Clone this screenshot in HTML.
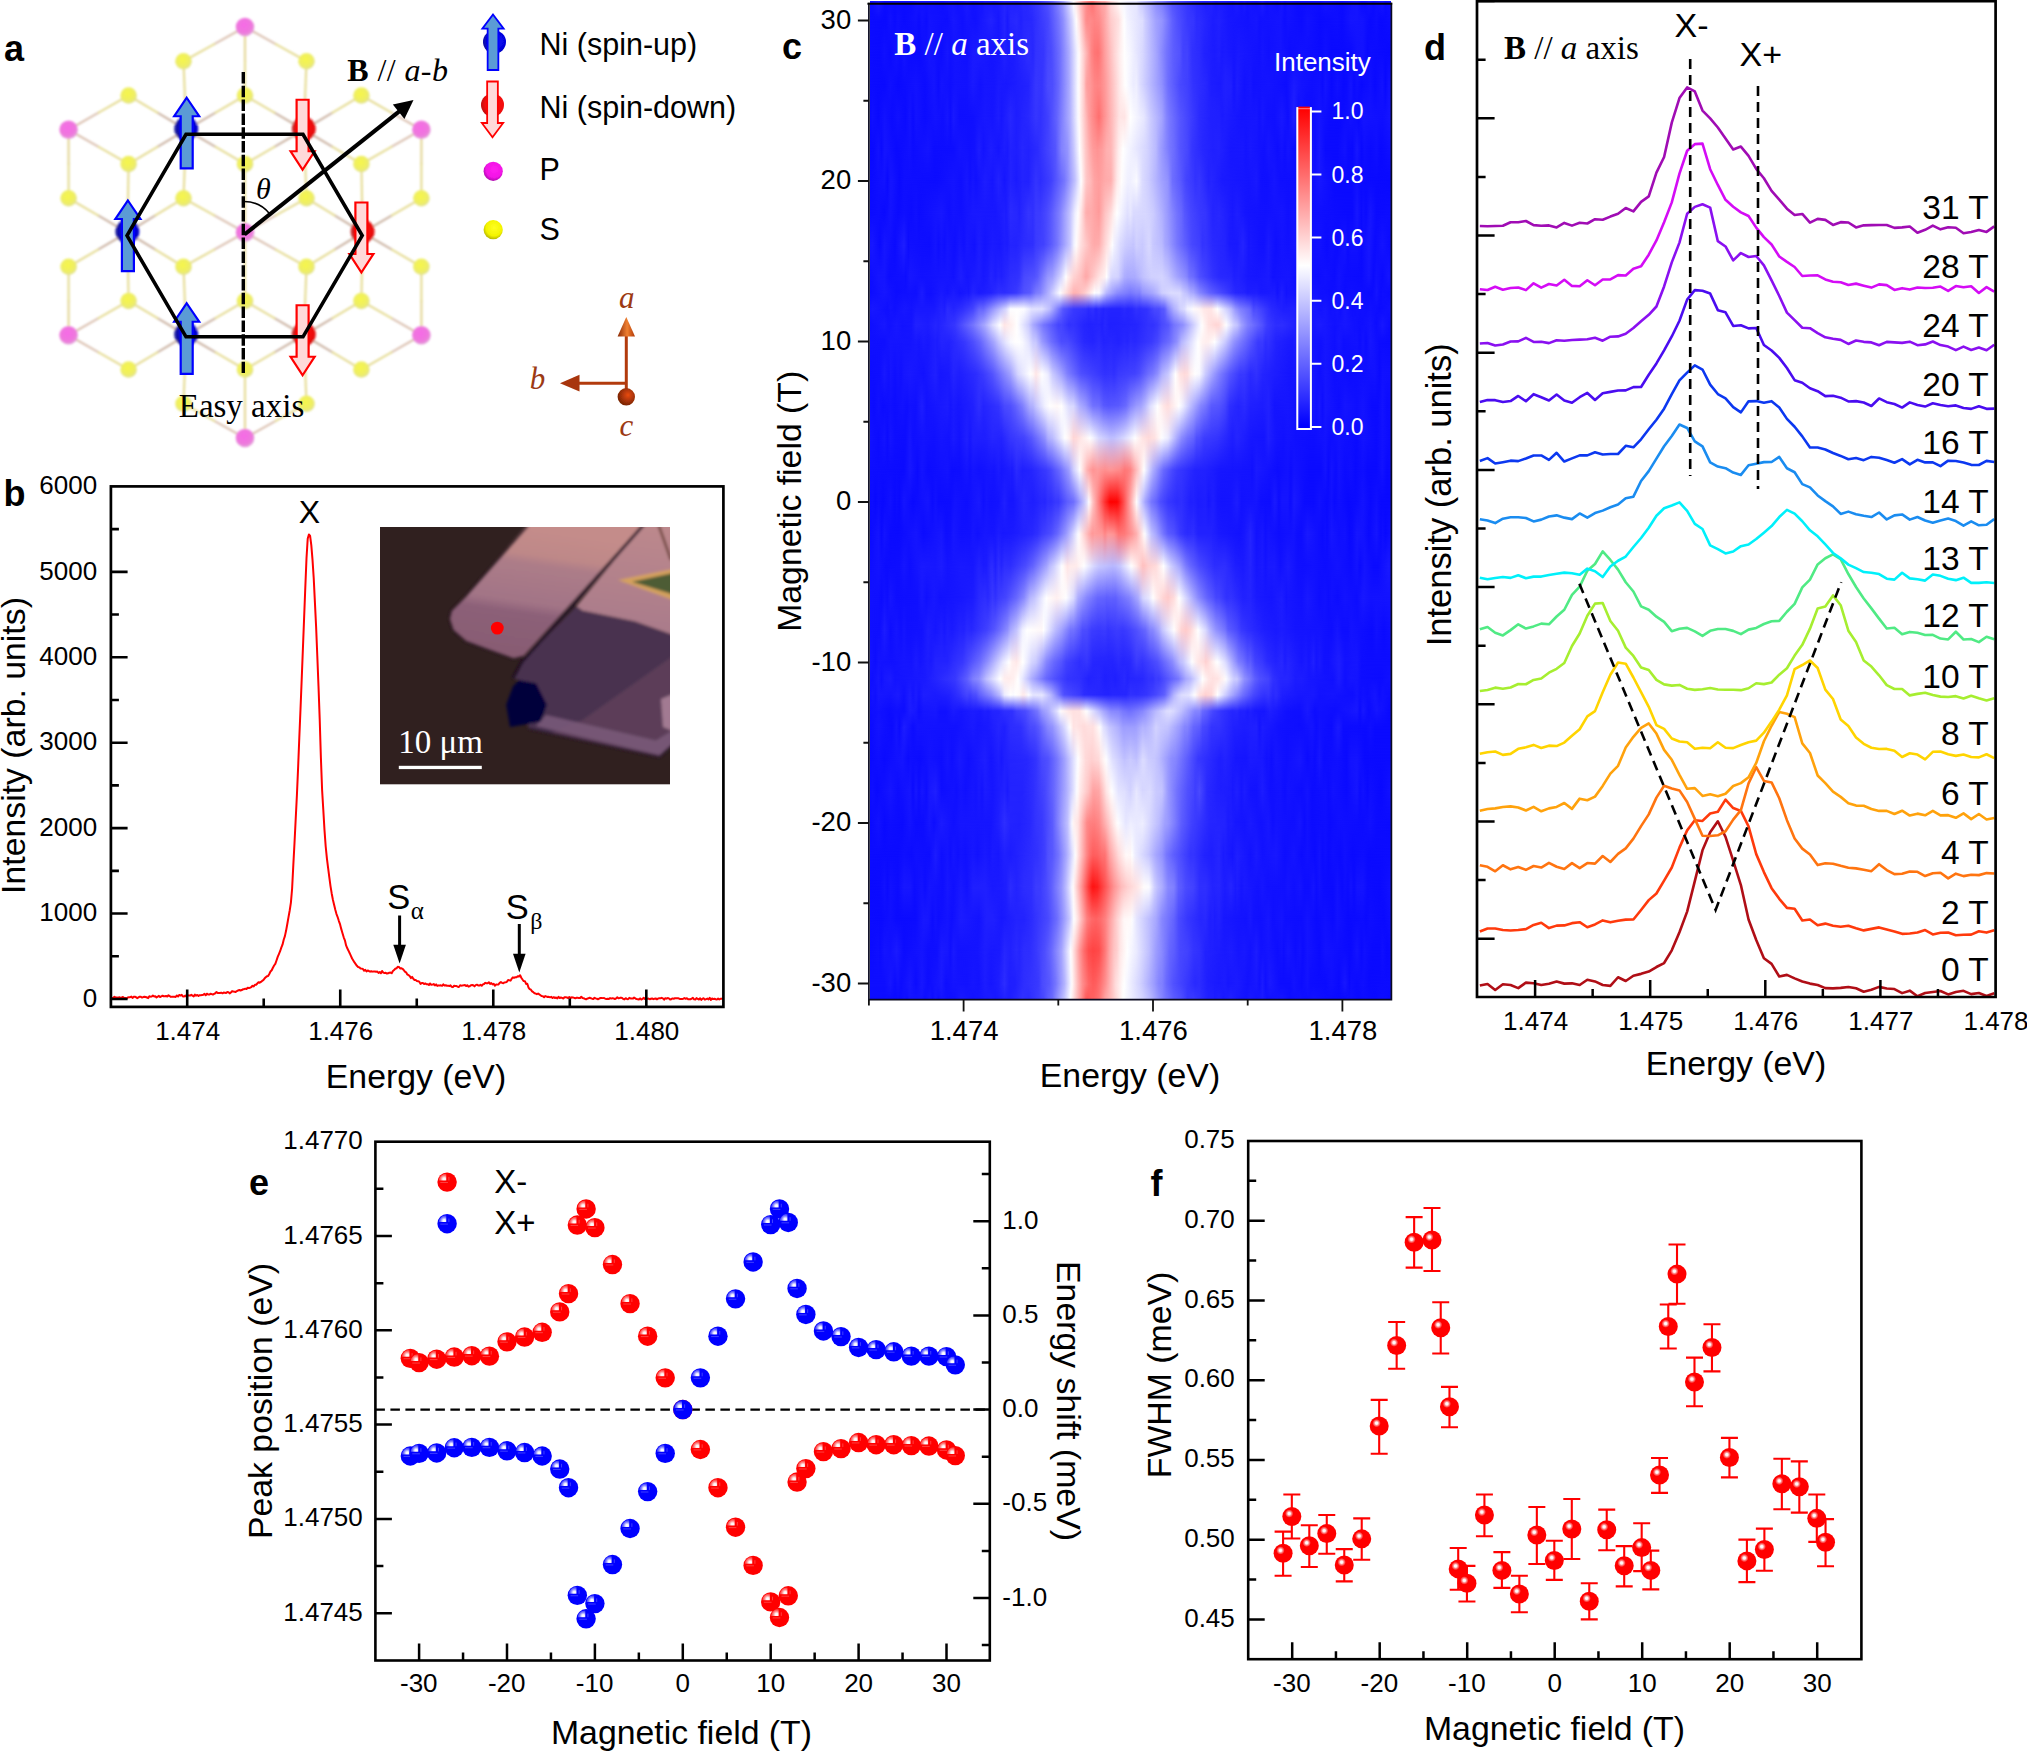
<!DOCTYPE html>
<html lang="en"><head><meta charset="utf-8"><title>Figure</title>
<style>
html,body{margin:0;padding:0;background:#fff;}
body{width:2027px;height:1753px;overflow:hidden;}
svg{display:block;}
text{font-family:"Liberation Sans",Arial,sans-serif;}
text.se,.se{font-family:"Liberation Serif","Times New Roman",serif;}
</style></head><body>
<svg width="2027" height="1753" viewBox="0 0 2027 1753">
<defs>
<filter id="ablur" x="-5%" y="-5%" width="110%" height="110%"><feGaussianBlur stdDeviation="0.9"/></filter>
<filter id="ablur2" x="-20%" y="-20%" width="140%" height="140%"><feGaussianBlur stdDeviation="0.6"/></filter>
<radialGradient id="gS" cx="0.45" cy="0.4" r="0.6"><stop offset="0" stop-color="#f6f64a"/><stop offset="0.7" stop-color="#eeee66"/><stop offset="1" stop-color="#e0e090"/></radialGradient>
<radialGradient id="gP" cx="0.45" cy="0.4" r="0.6"><stop offset="0" stop-color="#f66ae6"/><stop offset="0.7" stop-color="#ee78dd"/><stop offset="1" stop-color="#e2a0d8"/></radialGradient>
<radialGradient id="gNu" cx="0.6" cy="0.45" r="0.6"><stop offset="0" stop-color="#0a0aff"/><stop offset="0.6" stop-color="#0505c8"/><stop offset="1" stop-color="#1a1a90"/></radialGradient>
<radialGradient id="gNd" cx="0.6" cy="0.45" r="0.6"><stop offset="0" stop-color="#ff1010"/><stop offset="0.6" stop-color="#e60a0a"/><stop offset="1" stop-color="#c03030"/></radialGradient>
<radialGradient id="gNuL" cx="0.6" cy="0.45" r="0.6"><stop offset="0" stop-color="#0a0aff"/><stop offset="0.7" stop-color="#0505d8"/><stop offset="1" stop-color="#0a0aa0"/></radialGradient>
<radialGradient id="gNdL" cx="0.6" cy="0.45" r="0.6"><stop offset="0" stop-color="#ff1010"/><stop offset="0.7" stop-color="#f00a0a"/><stop offset="1" stop-color="#c01010"/></radialGradient>
<radialGradient id="gPL" cx="0.55" cy="0.4" r="0.6"><stop offset="0" stop-color="#ff20f0"/><stop offset="0.7" stop-color="#f212e6"/><stop offset="1" stop-color="#b010b0"/></radialGradient>
<radialGradient id="gSL" cx="0.55" cy="0.4" r="0.6"><stop offset="0" stop-color="#ffff20"/><stop offset="0.7" stop-color="#f4f400"/><stop offset="1" stop-color="#b8b800"/></radialGradient>
<radialGradient id="gBall" cx="0.6" cy="0.4" r="0.6"><stop offset="0" stop-color="#e84a08"/><stop offset="1" stop-color="#7a2406"/></radialGradient>
<linearGradient id="gAx" x1="0" x2="1"><stop offset="0" stop-color="#8a2a08"/><stop offset="0.55" stop-color="#f08030"/><stop offset="1" stop-color="#b03808"/></linearGradient>

<filter id="pblur" x="-5%" y="-5%" width="110%" height="110%"><feGaussianBlur stdDeviation="1.7"/></filter>
<linearGradient id="gF1" gradientUnits="userSpaceOnUse" x1="150" y1="0" x2="129.6" y2="140"><stop offset="0" stop-color="#c48c8a"/><stop offset="0.19" stop-color="#be8888"/><stop offset="0.26" stop-color="#ac7c88"/><stop offset="0.53" stop-color="#a27486"/><stop offset="0.61" stop-color="#8c6078"/><stop offset="1" stop-color="#865a70"/></linearGradient>
<linearGradient id="gF2" x1="0.5" y1="0" x2="0.4" y2="1"><stop offset="0" stop-color="#bc888c"/><stop offset="1" stop-color="#a87a8a"/></linearGradient>

<linearGradient id="fadeG" x1="0" y1="0" x2="0" y2="1"><stop offset="0" stop-color="#fff"/><stop offset="1" stop-color="#fff" stop-opacity="0"/></linearGradient>
<mask id="fade" maskContentUnits="objectBoundingBox"><rect width="1" height="1" fill="url(#fadeG)"/></mask>
<linearGradient id="cbar" x1="0" y1="0" x2="0" y2="1"><stop offset="0" stop-color="#f00"/><stop offset="0.49" stop-color="#fff"/><stop offset="0.99" stop-color="#00f"/><stop offset="1" stop-color="#00f"/></linearGradient>
<linearGradient id="h0" gradientUnits="userSpaceOnUse" x1="869.5" x2="1391.4" y1="0" y2="0"><stop offset="0" stop-color="#0c0cff"/><stop offset="0.0057" stop-color="#0d0dff"/><stop offset="0.0172" stop-color="#1a1aff"/><stop offset="0.0287" stop-color="#0b0bff"/><stop offset="0.0805" stop-color="#0b0bff"/><stop offset="0.092" stop-color="#1212ff"/><stop offset="0.1408" stop-color="#0e0eff"/><stop offset="0.1523" stop-color="#1515ff"/><stop offset="0.1696" stop-color="#0f0fff"/><stop offset="0.1868" stop-color="#1919ff"/><stop offset="0.1983" stop-color="#1111ff"/><stop offset="0.2098" stop-color="#1616ff"/><stop offset="0.2156" stop-color="#1313ff"/><stop offset="0.2213" stop-color="#1919ff"/><stop offset="0.2386" stop-color="#1616ff"/><stop offset="0.2587" stop-color="#2323ff"/><stop offset="0.2817" stop-color="#1f1fff"/><stop offset="0.2932" stop-color="#2727ff"/><stop offset="0.3018" stop-color="#2727ff"/><stop offset="0.3248" stop-color="#3939ff"/><stop offset="0.342" stop-color="#5050ff"/><stop offset="0.3506" stop-color="#6262ff"/><stop offset="0.3621" stop-color="#8282ff"/><stop offset="0.3708" stop-color="#a1a1ff"/><stop offset="0.3823" stop-color="#d4d4ff"/><stop offset="0.3909" stop-color="#ffffff"/><stop offset="0.411" stop-color="#ff9c9c"/><stop offset="0.4196" stop-color="#ff7e7e"/><stop offset="0.4254" stop-color="#ff7171"/><stop offset="0.4282" stop-color="#ff7171"/><stop offset="0.434" stop-color="#ff8989"/><stop offset="0.4455" stop-color="#ffa6a6"/><stop offset="0.4512" stop-color="#ffa8a8"/><stop offset="0.4627" stop-color="#ffdada"/><stop offset="0.48" stop-color="#fffefe"/><stop offset="0.4972" stop-color="#ebebff"/><stop offset="0.5116" stop-color="#e5e5ff"/><stop offset="0.5173" stop-color="#d2d2ff"/><stop offset="0.5375" stop-color="#aaaaff"/><stop offset="0.549" stop-color="#8d8dff"/><stop offset="0.5605" stop-color="#7b7bff"/><stop offset="0.5806" stop-color="#5151ff"/><stop offset="0.6208" stop-color="#2c2cff"/><stop offset="0.6438" stop-color="#1f1fff"/><stop offset="0.6553" stop-color="#2222ff"/><stop offset="0.6639" stop-color="#1919ff"/><stop offset="0.6697" stop-color="#1c1cff"/><stop offset="0.6955" stop-color="#1414ff"/><stop offset="0.7042" stop-color="#1b1bff"/><stop offset="0.7128" stop-color="#1313ff"/><stop offset="0.7185" stop-color="#1818ff"/><stop offset="0.7243" stop-color="#1111ff"/><stop offset="0.73" stop-color="#1515ff"/><stop offset="0.7415" stop-color="#1010ff"/><stop offset="0.753" stop-color="#1c1cff"/><stop offset="0.7616" stop-color="#0f0fff"/><stop offset="0.7674" stop-color="#1313ff"/><stop offset="0.7818" stop-color="#0e0eff"/><stop offset="0.7904" stop-color="#1616ff"/><stop offset="0.7961" stop-color="#0d0dff"/><stop offset="0.8019" stop-color="#1313ff"/><stop offset="0.8191" stop-color="#0c0cff"/><stop offset="0.8622" stop-color="#0d0dff"/><stop offset="0.8737" stop-color="#1313ff"/><stop offset="0.9053" stop-color="#0b0bff"/><stop offset="0.9341" stop-color="#1515ff"/><stop offset="0.9427" stop-color="#0a0aff"/><stop offset="0.9513" stop-color="#0b0bff"/><stop offset="0.9571" stop-color="#1212ff"/><stop offset="0.9657" stop-color="#0a0aff"/><stop offset="0.9829" stop-color="#1414ff"/><stop offset="0.9887" stop-color="#0b0bff"/><stop offset="0.9973" stop-color="#0f0fff"/></linearGradient>
<linearGradient id="h1" gradientUnits="userSpaceOnUse" x1="869.5" x2="1391.4" y1="0" y2="0"><stop offset="0" stop-color="#0c0cff"/><stop offset="0.0316" stop-color="#0a0aff"/><stop offset="0.0402" stop-color="#1111ff"/><stop offset="0.0489" stop-color="#0b0bff"/><stop offset="0.0546" stop-color="#1010ff"/><stop offset="0.0661" stop-color="#0b0bff"/><stop offset="0.0891" stop-color="#1111ff"/><stop offset="0.0948" stop-color="#0c0cff"/><stop offset="0.1006" stop-color="#1212ff"/><stop offset="0.1092" stop-color="#0d0dff"/><stop offset="0.115" stop-color="#1313ff"/><stop offset="0.1495" stop-color="#0e0eff"/><stop offset="0.161" stop-color="#1717ff"/><stop offset="0.1782" stop-color="#1010ff"/><stop offset="0.1868" stop-color="#1515ff"/><stop offset="0.2041" stop-color="#1111ff"/><stop offset="0.2328" stop-color="#2222ff"/><stop offset="0.2472" stop-color="#1717ff"/><stop offset="0.2587" stop-color="#2424ff"/><stop offset="0.2644" stop-color="#1919ff"/><stop offset="0.2702" stop-color="#2525ff"/><stop offset="0.273" stop-color="#2626ff"/><stop offset="0.2817" stop-color="#2929ff"/><stop offset="0.2903" stop-color="#2121ff"/><stop offset="0.296" stop-color="#2727ff"/><stop offset="0.3104" stop-color="#2828ff"/><stop offset="0.342" stop-color="#4646ff"/><stop offset="0.3621" stop-color="#7474ff"/><stop offset="0.3708" stop-color="#8d8dff"/><stop offset="0.388" stop-color="#d5d5ff"/><stop offset="0.3938" stop-color="#f4f4ff"/><stop offset="0.3966" stop-color="#fffbfb"/><stop offset="0.4024" stop-color="#ffdddd"/><stop offset="0.4139" stop-color="#ff9393"/><stop offset="0.4167" stop-color="#ff8989"/><stop offset="0.4225" stop-color="#ff8b8b"/><stop offset="0.4311" stop-color="#ff8484"/><stop offset="0.4397" stop-color="#ff8a8a"/><stop offset="0.4484" stop-color="#ffa0a0"/><stop offset="0.4627" stop-color="#ffcccc"/><stop offset="0.4771" stop-color="#ffe0e0"/><stop offset="0.4857" stop-color="#fffafa"/><stop offset="0.4886" stop-color="#fdfdff"/><stop offset="0.4943" stop-color="#f3f3ff"/><stop offset="0.5231" stop-color="#ddddff"/><stop offset="0.5288" stop-color="#ccccff"/><stop offset="0.549" stop-color="#a1a1ff"/><stop offset="0.5605" stop-color="#9494ff"/><stop offset="0.5806" stop-color="#6060ff"/><stop offset="0.5892" stop-color="#5151ff"/><stop offset="0.6093" stop-color="#3939ff"/><stop offset="0.6208" stop-color="#3636ff"/><stop offset="0.6266" stop-color="#2c2cff"/><stop offset="0.6323" stop-color="#2c2cff"/><stop offset="0.6582" stop-color="#1c1cff"/><stop offset="0.6697" stop-color="#2020ff"/><stop offset="0.6869" stop-color="#1717ff"/><stop offset="0.7243" stop-color="#1212ff"/><stop offset="0.7415" stop-color="#1616ff"/><stop offset="0.7473" stop-color="#1111ff"/><stop offset="0.7875" stop-color="#1414ff"/><stop offset="0.7961" stop-color="#0e0eff"/><stop offset="0.8019" stop-color="#1212ff"/><stop offset="0.8277" stop-color="#0c0cff"/><stop offset="0.8392" stop-color="#1212ff"/><stop offset="0.8622" stop-color="#0b0bff"/><stop offset="0.8967" stop-color="#0e0eff"/><stop offset="0.9053" stop-color="#0b0bff"/><stop offset="0.9226" stop-color="#1515ff"/><stop offset="0.9456" stop-color="#1313ff"/><stop offset="0.96" stop-color="#0a0aff"/><stop offset="0.9715" stop-color="#0e0eff"/><stop offset="0.9801" stop-color="#0909ff"/><stop offset="0.9973" stop-color="#0d0dff"/></linearGradient>
<linearGradient id="h2" gradientUnits="userSpaceOnUse" x1="869.5" x2="1391.4" y1="0" y2="0"><stop offset="0" stop-color="#0c0cff"/><stop offset="0.0201" stop-color="#0b0bff"/><stop offset="0.0287" stop-color="#1010ff"/><stop offset="0.0402" stop-color="#0a0aff"/><stop offset="0.0517" stop-color="#1212ff"/><stop offset="0.0604" stop-color="#0c0cff"/><stop offset="0.0661" stop-color="#1313ff"/><stop offset="0.0747" stop-color="#0c0cff"/><stop offset="0.0977" stop-color="#0b0bff"/><stop offset="0.115" stop-color="#1515ff"/><stop offset="0.138" stop-color="#0d0dff"/><stop offset="0.1495" stop-color="#1616ff"/><stop offset="0.1552" stop-color="#1010ff"/><stop offset="0.1638" stop-color="#1414ff"/><stop offset="0.1868" stop-color="#1010ff"/><stop offset="0.1983" stop-color="#1a1aff"/><stop offset="0.2098" stop-color="#1b1bff"/><stop offset="0.2328" stop-color="#1414ff"/><stop offset="0.25" stop-color="#1717ff"/><stop offset="0.2587" stop-color="#2121ff"/><stop offset="0.2673" stop-color="#1a1aff"/><stop offset="0.2759" stop-color="#1b1bff"/><stop offset="0.3047" stop-color="#2e2eff"/><stop offset="0.3133" stop-color="#2727ff"/><stop offset="0.319" stop-color="#3333ff"/><stop offset="0.3334" stop-color="#3636ff"/><stop offset="0.342" stop-color="#4747ff"/><stop offset="0.3478" stop-color="#4949ff"/><stop offset="0.365" stop-color="#7070ff"/><stop offset="0.3823" stop-color="#ababff"/><stop offset="0.3995" stop-color="#f9f9ff"/><stop offset="0.4024" stop-color="#fff7f7"/><stop offset="0.4254" stop-color="#ff8585"/><stop offset="0.4311" stop-color="#ff7676"/><stop offset="0.4369" stop-color="#ff7272"/><stop offset="0.4397" stop-color="#ff7474"/><stop offset="0.4512" stop-color="#ff9f9f"/><stop offset="0.4685" stop-color="#ffd3d3"/><stop offset="0.48" stop-color="#ffefef"/><stop offset="0.4886" stop-color="#fffefe"/><stop offset="0.5001" stop-color="#f5f5ff"/><stop offset="0.5231" stop-color="#d8d8ff"/><stop offset="0.549" stop-color="#a6a6ff"/><stop offset="0.5691" stop-color="#7474ff"/><stop offset="0.5834" stop-color="#5c5cff"/><stop offset="0.5949" stop-color="#5353ff"/><stop offset="0.6007" stop-color="#4242ff"/><stop offset="0.6093" stop-color="#4242ff"/><stop offset="0.6179" stop-color="#3131ff"/><stop offset="0.6323" stop-color="#2b2bff"/><stop offset="0.6409" stop-color="#2222ff"/><stop offset="0.661" stop-color="#1b1bff"/><stop offset="0.6697" stop-color="#1f1fff"/><stop offset="0.6754" stop-color="#1919ff"/><stop offset="0.6812" stop-color="#1b1bff"/><stop offset="0.6984" stop-color="#1515ff"/><stop offset="0.707" stop-color="#1919ff"/><stop offset="0.7473" stop-color="#1111ff"/><stop offset="0.753" stop-color="#1515ff"/><stop offset="0.7645" stop-color="#1010ff"/><stop offset="0.7875" stop-color="#1515ff"/><stop offset="0.8048" stop-color="#0d0dff"/><stop offset="0.8277" stop-color="#1111ff"/><stop offset="0.8651" stop-color="#0b0bff"/><stop offset="0.8737" stop-color="#1010ff"/><stop offset="0.8852" stop-color="#0a0aff"/><stop offset="0.9226" stop-color="#0b0bff"/><stop offset="0.9341" stop-color="#1212ff"/><stop offset="0.9456" stop-color="#1313ff"/><stop offset="0.9542" stop-color="#0a0aff"/><stop offset="0.96" stop-color="#0d0dff"/><stop offset="0.9973" stop-color="#0909ff"/></linearGradient>
<linearGradient id="h3" gradientUnits="userSpaceOnUse" x1="869.5" x2="1391.4" y1="0" y2="0"><stop offset="0" stop-color="#0c0cff"/><stop offset="0.0287" stop-color="#0a0aff"/><stop offset="0.0402" stop-color="#1010ff"/><stop offset="0.0546" stop-color="#0a0aff"/><stop offset="0.0891" stop-color="#1212ff"/><stop offset="0.1063" stop-color="#0c0cff"/><stop offset="0.1236" stop-color="#1515ff"/><stop offset="0.1322" stop-color="#0d0dff"/><stop offset="0.138" stop-color="#1414ff"/><stop offset="0.1552" stop-color="#0f0fff"/><stop offset="0.1638" stop-color="#1313ff"/><stop offset="0.1868" stop-color="#1212ff"/><stop offset="0.1983" stop-color="#1a1aff"/><stop offset="0.2127" stop-color="#1212ff"/><stop offset="0.2213" stop-color="#1616ff"/><stop offset="0.2386" stop-color="#1515ff"/><stop offset="0.2472" stop-color="#1a1aff"/><stop offset="0.2615" stop-color="#1818ff"/><stop offset="0.3047" stop-color="#2323ff"/><stop offset="0.319" stop-color="#3737ff"/><stop offset="0.3305" stop-color="#3434ff"/><stop offset="0.342" stop-color="#4b4bff"/><stop offset="0.3506" stop-color="#4d4dff"/><stop offset="0.3621" stop-color="#6666ff"/><stop offset="0.3823" stop-color="#a8a8ff"/><stop offset="0.3995" stop-color="#fbfbff"/><stop offset="0.4024" stop-color="#fff5f5"/><stop offset="0.411" stop-color="#ffc9c9"/><stop offset="0.4139" stop-color="#ffaeae"/><stop offset="0.4167" stop-color="#ff9e9e"/><stop offset="0.4225" stop-color="#ff9999"/><stop offset="0.4311" stop-color="#ff8787"/><stop offset="0.4369" stop-color="#ff8484"/><stop offset="0.4426" stop-color="#ff8888"/><stop offset="0.4512" stop-color="#ff9999"/><stop offset="0.48" stop-color="#ffebeb"/><stop offset="0.4886" stop-color="#fffcfc"/><stop offset="0.4915" stop-color="#fefeff"/><stop offset="0.5058" stop-color="#ececff"/><stop offset="0.5116" stop-color="#eeeeff"/><stop offset="0.5173" stop-color="#dfdfff"/><stop offset="0.5605" stop-color="#9090ff"/><stop offset="0.5719" stop-color="#6e6eff"/><stop offset="0.5949" stop-color="#4949ff"/><stop offset="0.6093" stop-color="#4040ff"/><stop offset="0.6208" stop-color="#3232ff"/><stop offset="0.6438" stop-color="#2727ff"/><stop offset="0.6553" stop-color="#1d1dff"/><stop offset="0.6725" stop-color="#1a1aff"/><stop offset="0.6812" stop-color="#2121ff"/><stop offset="0.6927" stop-color="#1f1fff"/><stop offset="0.6984" stop-color="#1414ff"/><stop offset="0.7042" stop-color="#1d1dff"/><stop offset="0.7185" stop-color="#1212ff"/><stop offset="0.73" stop-color="#1616ff"/><stop offset="0.7358" stop-color="#1111ff"/><stop offset="0.7645" stop-color="#1414ff"/><stop offset="0.799" stop-color="#0d0dff"/><stop offset="0.8134" stop-color="#1b1bff"/><stop offset="0.8277" stop-color="#1313ff"/><stop offset="0.8479" stop-color="#0f0fff"/><stop offset="0.8622" stop-color="#1111ff"/><stop offset="0.868" stop-color="#0c0cff"/><stop offset="0.8737" stop-color="#1414ff"/><stop offset="0.8852" stop-color="#0a0aff"/><stop offset="0.8967" stop-color="#1111ff"/><stop offset="0.9082" stop-color="#0a0aff"/><stop offset="0.914" stop-color="#0b0bff"/><stop offset="0.9226" stop-color="#1414ff"/><stop offset="0.9283" stop-color="#0b0bff"/><stop offset="0.9341" stop-color="#1010ff"/><stop offset="0.9427" stop-color="#0a0aff"/><stop offset="0.96" stop-color="#1010ff"/><stop offset="0.9686" stop-color="#0a0aff"/><stop offset="0.9829" stop-color="#1212ff"/><stop offset="0.9887" stop-color="#0909ff"/><stop offset="0.9944" stop-color="#1212ff"/><stop offset="0.9973" stop-color="#1212ff"/></linearGradient>
<linearGradient id="h4" gradientUnits="userSpaceOnUse" x1="869.5" x2="1391.4" y1="0" y2="0"><stop offset="0" stop-color="#0a0aff"/><stop offset="0.0057" stop-color="#1010ff"/><stop offset="0.0172" stop-color="#0a0aff"/><stop offset="0.0287" stop-color="#1212ff"/><stop offset="0.0431" stop-color="#0b0bff"/><stop offset="0.0546" stop-color="#1111ff"/><stop offset="0.069" stop-color="#0b0bff"/><stop offset="0.0776" stop-color="#1313ff"/><stop offset="0.0833" stop-color="#0b0bff"/><stop offset="0.0891" stop-color="#1313ff"/><stop offset="0.1063" stop-color="#0c0cff"/><stop offset="0.1265" stop-color="#1313ff"/><stop offset="0.1408" stop-color="#0f0fff"/><stop offset="0.1495" stop-color="#1616ff"/><stop offset="0.1552" stop-color="#0e0eff"/><stop offset="0.161" stop-color="#1919ff"/><stop offset="0.1724" stop-color="#0f0fff"/><stop offset="0.1983" stop-color="#1010ff"/><stop offset="0.2213" stop-color="#1818ff"/><stop offset="0.2357" stop-color="#1515ff"/><stop offset="0.2472" stop-color="#1d1dff"/><stop offset="0.2529" stop-color="#1717ff"/><stop offset="0.2702" stop-color="#2727ff"/><stop offset="0.2817" stop-color="#1e1eff"/><stop offset="0.3047" stop-color="#2828ff"/><stop offset="0.319" stop-color="#3636ff"/><stop offset="0.3276" stop-color="#3131ff"/><stop offset="0.342" stop-color="#4040ff"/><stop offset="0.3593" stop-color="#6464ff"/><stop offset="0.3851" stop-color="#b4b4ff"/><stop offset="0.3995" stop-color="#f9f9ff"/><stop offset="0.4024" stop-color="#fff6f6"/><stop offset="0.4196" stop-color="#ffa3a3"/><stop offset="0.4254" stop-color="#ff9090"/><stop offset="0.4397" stop-color="#ff6e6e"/><stop offset="0.4484" stop-color="#ff8c8c"/><stop offset="0.4771" stop-color="#ffdfdf"/><stop offset="0.48" stop-color="#ffe5e5"/><stop offset="0.4886" stop-color="#ffe4e4"/><stop offset="0.5001" stop-color="#ffffff"/><stop offset="0.526" stop-color="#e7e7ff"/><stop offset="0.5375" stop-color="#cdcdff"/><stop offset="0.5605" stop-color="#a4a4ff"/><stop offset="0.5691" stop-color="#8585ff"/><stop offset="0.5748" stop-color="#7878ff"/><stop offset="0.5949" stop-color="#5656ff"/><stop offset="0.6323" stop-color="#2b2bff"/><stop offset="0.6524" stop-color="#2121ff"/><stop offset="0.6697" stop-color="#2020ff"/><stop offset="0.6754" stop-color="#1b1bff"/><stop offset="0.6812" stop-color="#1d1dff"/><stop offset="0.7128" stop-color="#1414ff"/><stop offset="0.7415" stop-color="#1616ff"/><stop offset="0.7473" stop-color="#1111ff"/><stop offset="0.753" stop-color="#1717ff"/><stop offset="0.7616" stop-color="#1111ff"/><stop offset="0.776" stop-color="#1010ff"/><stop offset="0.7904" stop-color="#1818ff"/><stop offset="0.8019" stop-color="#0e0eff"/><stop offset="0.8134" stop-color="#2121ff"/><stop offset="0.822" stop-color="#0d0dff"/><stop offset="0.8277" stop-color="#1313ff"/><stop offset="0.8364" stop-color="#0c0cff"/><stop offset="0.8479" stop-color="#0c0cff"/><stop offset="0.8622" stop-color="#1414ff"/><stop offset="0.8824" stop-color="#0b0bff"/><stop offset="0.9025" stop-color="#0a0aff"/><stop offset="0.9226" stop-color="#1212ff"/><stop offset="0.937" stop-color="#0a0aff"/><stop offset="0.9456" stop-color="#1414ff"/><stop offset="0.9829" stop-color="#0f0fff"/><stop offset="0.9973" stop-color="#1515ff"/></linearGradient>
<linearGradient id="h5" gradientUnits="userSpaceOnUse" x1="869.5" x2="1391.4" y1="0" y2="0"><stop offset="0" stop-color="#0909ff"/><stop offset="0.0086" stop-color="#0b0bff"/><stop offset="0.0172" stop-color="#1212ff"/><stop offset="0.023" stop-color="#0b0bff"/><stop offset="0.0287" stop-color="#1414ff"/><stop offset="0.0316" stop-color="#1414ff"/><stop offset="0.0517" stop-color="#0a0aff"/><stop offset="0.0776" stop-color="#1111ff"/><stop offset="0.0833" stop-color="#0c0cff"/><stop offset="0.1121" stop-color="#1414ff"/><stop offset="0.1236" stop-color="#0d0dff"/><stop offset="0.161" stop-color="#0e0eff"/><stop offset="0.1724" stop-color="#1414ff"/><stop offset="0.1926" stop-color="#1010ff"/><stop offset="0.2012" stop-color="#1212ff"/><stop offset="0.2098" stop-color="#1d1dff"/><stop offset="0.2184" stop-color="#1313ff"/><stop offset="0.2328" stop-color="#1d1dff"/><stop offset="0.2472" stop-color="#1515ff"/><stop offset="0.2587" stop-color="#1d1dff"/><stop offset="0.2644" stop-color="#1919ff"/><stop offset="0.2702" stop-color="#2222ff"/><stop offset="0.2817" stop-color="#1e1eff"/><stop offset="0.2932" stop-color="#2626ff"/><stop offset="0.3047" stop-color="#2222ff"/><stop offset="0.3219" stop-color="#2b2bff"/><stop offset="0.3564" stop-color="#5555ff"/><stop offset="0.3679" stop-color="#8282ff"/><stop offset="0.3794" stop-color="#9494ff"/><stop offset="0.3909" stop-color="#c4c4ff"/><stop offset="0.4024" stop-color="#fefeff"/><stop offset="0.4053" stop-color="#fff2f2"/><stop offset="0.4139" stop-color="#ffc8c8"/><stop offset="0.4225" stop-color="#ffaaaa"/><stop offset="0.4282" stop-color="#ff9b9b"/><stop offset="0.4369" stop-color="#ff9393"/><stop offset="0.4455" stop-color="#ff9c9c"/><stop offset="0.4541" stop-color="#ffafaf"/><stop offset="0.4627" stop-color="#ffb6b6"/><stop offset="0.4771" stop-color="#ffecec"/><stop offset="0.4857" stop-color="#ffffff"/><stop offset="0.5317" stop-color="#d4d4ff"/><stop offset="0.549" stop-color="#b9b9ff"/><stop offset="0.5547" stop-color="#a5a5ff"/><stop offset="0.5748" stop-color="#7878ff"/><stop offset="0.5834" stop-color="#6c6cff"/><stop offset="0.5949" stop-color="#5555ff"/><stop offset="0.6093" stop-color="#4747ff"/><stop offset="0.6179" stop-color="#3636ff"/><stop offset="0.6381" stop-color="#2727ff"/><stop offset="0.6582" stop-color="#2020ff"/><stop offset="0.6697" stop-color="#2222ff"/><stop offset="0.6927" stop-color="#1616ff"/><stop offset="0.7157" stop-color="#1717ff"/><stop offset="0.7214" stop-color="#1313ff"/><stop offset="0.73" stop-color="#1818ff"/><stop offset="0.7559" stop-color="#1010ff"/><stop offset="0.7645" stop-color="#1616ff"/><stop offset="0.7818" stop-color="#0e0eff"/><stop offset="0.7904" stop-color="#1313ff"/><stop offset="0.7961" stop-color="#0e0eff"/><stop offset="0.8019" stop-color="#1414ff"/><stop offset="0.8134" stop-color="#0d0dff"/><stop offset="0.8249" stop-color="#1212ff"/><stop offset="0.8364" stop-color="#0c0cff"/><stop offset="0.8507" stop-color="#1111ff"/><stop offset="0.8536" stop-color="#0c0cff"/><stop offset="0.8622" stop-color="#1717ff"/><stop offset="0.8737" stop-color="#0b0bff"/><stop offset="0.8967" stop-color="#0b0bff"/><stop offset="0.9111" stop-color="#1212ff"/><stop offset="0.9168" stop-color="#0c0cff"/><stop offset="0.9255" stop-color="#0a0aff"/><stop offset="0.9341" stop-color="#1717ff"/><stop offset="0.9427" stop-color="#0a0aff"/><stop offset="0.9485" stop-color="#0f0fff"/><stop offset="0.96" stop-color="#0b0bff"/><stop offset="0.9715" stop-color="#0f0fff"/><stop offset="0.9801" stop-color="#0909ff"/><stop offset="0.9973" stop-color="#0f0fff"/></linearGradient>
<linearGradient id="h6" gradientUnits="userSpaceOnUse" x1="869.5" x2="1391.4" y1="0" y2="0"><stop offset="0" stop-color="#0a0aff"/><stop offset="0.0287" stop-color="#1212ff"/><stop offset="0.0345" stop-color="#0a0aff"/><stop offset="0.0402" stop-color="#1414ff"/><stop offset="0.0431" stop-color="#1414ff"/><stop offset="0.0575" stop-color="#0a0aff"/><stop offset="0.0661" stop-color="#0f0fff"/><stop offset="0.1293" stop-color="#0c0cff"/><stop offset="0.161" stop-color="#1414ff"/><stop offset="0.1753" stop-color="#0f0fff"/><stop offset="0.1868" stop-color="#1717ff"/><stop offset="0.1926" stop-color="#1010ff"/><stop offset="0.1983" stop-color="#1515ff"/><stop offset="0.2041" stop-color="#1010ff"/><stop offset="0.2213" stop-color="#1d1dff"/><stop offset="0.2357" stop-color="#1616ff"/><stop offset="0.2472" stop-color="#2222ff"/><stop offset="0.2587" stop-color="#1616ff"/><stop offset="0.2702" stop-color="#2222ff"/><stop offset="0.2817" stop-color="#1b1bff"/><stop offset="0.2932" stop-color="#2323ff"/><stop offset="0.3047" stop-color="#2121ff"/><stop offset="0.319" stop-color="#3434ff"/><stop offset="0.3276" stop-color="#2d2dff"/><stop offset="0.3478" stop-color="#4040ff"/><stop offset="0.3736" stop-color="#7676ff"/><stop offset="0.3938" stop-color="#c1c1ff"/><stop offset="0.4053" stop-color="#ffffff"/><stop offset="0.4139" stop-color="#ffcfcf"/><stop offset="0.4167" stop-color="#ffc4c4"/><stop offset="0.4225" stop-color="#ffbbbb"/><stop offset="0.4311" stop-color="#ffa4a4"/><stop offset="0.4397" stop-color="#ff9d9d"/><stop offset="0.4512" stop-color="#ffaaaa"/><stop offset="0.4627" stop-color="#ffafaf"/><stop offset="0.4742" stop-color="#ffe9e9"/><stop offset="0.4829" stop-color="#fffdfd"/><stop offset="0.4943" stop-color="#f1f1ff"/><stop offset="0.5001" stop-color="#f0f0ff"/><stop offset="0.5116" stop-color="#fafaff"/><stop offset="0.5231" stop-color="#dbdbff"/><stop offset="0.5346" stop-color="#cdcdff"/><stop offset="0.5605" stop-color="#a0a0ff"/><stop offset="0.5719" stop-color="#9292ff"/><stop offset="0.5806" stop-color="#6e6eff"/><stop offset="0.5949" stop-color="#5b5bff"/><stop offset="0.6064" stop-color="#4444ff"/><stop offset="0.6208" stop-color="#3838ff"/><stop offset="0.6237" stop-color="#3232ff"/><stop offset="0.6323" stop-color="#3636ff"/><stop offset="0.6495" stop-color="#2222ff"/><stop offset="0.6553" stop-color="#2525ff"/><stop offset="0.6754" stop-color="#1a1aff"/><stop offset="0.7272" stop-color="#1414ff"/><stop offset="0.7415" stop-color="#1919ff"/><stop offset="0.7501" stop-color="#1010ff"/><stop offset="0.7616" stop-color="#0f0fff"/><stop offset="0.776" stop-color="#1515ff"/><stop offset="0.7875" stop-color="#0f0fff"/><stop offset="0.8306" stop-color="#0e0eff"/><stop offset="0.8392" stop-color="#1818ff"/><stop offset="0.8507" stop-color="#0f0fff"/><stop offset="0.8622" stop-color="#1717ff"/><stop offset="0.891" stop-color="#0a0aff"/><stop offset="0.9226" stop-color="#0a0aff"/><stop offset="0.9341" stop-color="#1010ff"/><stop offset="0.9398" stop-color="#0b0bff"/><stop offset="0.9973" stop-color="#0909ff"/></linearGradient>
<linearGradient id="h7" gradientUnits="userSpaceOnUse" x1="869.5" x2="1391.4" y1="0" y2="0"><stop offset="0" stop-color="#0b0bff"/><stop offset="0.0172" stop-color="#0e0eff"/><stop offset="0.0287" stop-color="#0a0aff"/><stop offset="0.0402" stop-color="#1313ff"/><stop offset="0.0546" stop-color="#0b0bff"/><stop offset="0.0661" stop-color="#0f0fff"/><stop offset="0.0805" stop-color="#0c0cff"/><stop offset="0.0891" stop-color="#1010ff"/><stop offset="0.0948" stop-color="#0c0cff"/><stop offset="0.138" stop-color="#1717ff"/><stop offset="0.1523" stop-color="#0f0fff"/><stop offset="0.161" stop-color="#1313ff"/><stop offset="0.1753" stop-color="#1010ff"/><stop offset="0.1983" stop-color="#1919ff"/><stop offset="0.2414" stop-color="#1717ff"/><stop offset="0.2587" stop-color="#1f1fff"/><stop offset="0.2615" stop-color="#1b1bff"/><stop offset="0.2702" stop-color="#2a2aff"/><stop offset="0.2817" stop-color="#2727ff"/><stop offset="0.2874" stop-color="#2222ff"/><stop offset="0.3047" stop-color="#3535ff"/><stop offset="0.3133" stop-color="#3030ff"/><stop offset="0.319" stop-color="#3b3bff"/><stop offset="0.3276" stop-color="#3b3bff"/><stop offset="0.3391" stop-color="#4949ff"/><stop offset="0.3478" stop-color="#5858ff"/><stop offset="0.365" stop-color="#8181ff"/><stop offset="0.3851" stop-color="#c6c6ff"/><stop offset="0.3938" stop-color="#eeeeff"/><stop offset="0.3995" stop-color="#fffdfd"/><stop offset="0.4053" stop-color="#ffe5e5"/><stop offset="0.4139" stop-color="#ffb5b5"/><stop offset="0.4167" stop-color="#ffadad"/><stop offset="0.4254" stop-color="#ffabab"/><stop offset="0.4397" stop-color="#ff9a9a"/><stop offset="0.4512" stop-color="#ffc2c2"/><stop offset="0.4627" stop-color="#ffdcdc"/><stop offset="0.4685" stop-color="#fff1f1"/><stop offset="0.4742" stop-color="#ffffff"/><stop offset="0.4943" stop-color="#e0e0ff"/><stop offset="0.5001" stop-color="#e7e7ff"/><stop offset="0.5058" stop-color="#dadaff"/><stop offset="0.5288" stop-color="#d7d7ff"/><stop offset="0.5432" stop-color="#cdcdff"/><stop offset="0.5605" stop-color="#b0b0ff"/><stop offset="0.5892" stop-color="#7272ff"/><stop offset="0.5978" stop-color="#6767ff"/><stop offset="0.6036" stop-color="#5757ff"/><stop offset="0.6151" stop-color="#4747ff"/><stop offset="0.6323" stop-color="#3939ff"/><stop offset="0.6438" stop-color="#3535ff"/><stop offset="0.6582" stop-color="#2424ff"/><stop offset="0.6697" stop-color="#2828ff"/><stop offset="0.6955" stop-color="#1818ff"/><stop offset="0.7042" stop-color="#1e1eff"/><stop offset="0.7214" stop-color="#1414ff"/><stop offset="0.7588" stop-color="#1111ff"/><stop offset="0.7904" stop-color="#1515ff"/><stop offset="0.8019" stop-color="#1010ff"/><stop offset="0.8134" stop-color="#1313ff"/><stop offset="0.8249" stop-color="#0d0dff"/><stop offset="0.8622" stop-color="#0f0fff"/><stop offset="0.914" stop-color="#0b0bff"/><stop offset="0.9255" stop-color="#0b0bff"/><stop offset="0.9341" stop-color="#1717ff"/><stop offset="0.9427" stop-color="#0b0bff"/><stop offset="0.9456" stop-color="#1010ff"/><stop offset="0.9513" stop-color="#0b0bff"/><stop offset="0.96" stop-color="#1616ff"/><stop offset="0.9715" stop-color="#0b0bff"/><stop offset="0.9973" stop-color="#0d0dff"/></linearGradient>
<linearGradient id="h8" gradientUnits="userSpaceOnUse" x1="869.5" x2="1391.4" y1="0" y2="0"><stop offset="0" stop-color="#1515ff"/><stop offset="0.0057" stop-color="#1717ff"/><stop offset="0.0201" stop-color="#0b0bff"/><stop offset="0.0287" stop-color="#1616ff"/><stop offset="0.0489" stop-color="#0b0bff"/><stop offset="0.0661" stop-color="#1e1eff"/><stop offset="0.0747" stop-color="#0c0cff"/><stop offset="0.0776" stop-color="#1010ff"/><stop offset="0.115" stop-color="#0d0dff"/><stop offset="0.1265" stop-color="#1414ff"/><stop offset="0.1322" stop-color="#0e0eff"/><stop offset="0.138" stop-color="#1313ff"/><stop offset="0.1437" stop-color="#0f0fff"/><stop offset="0.1495" stop-color="#1515ff"/><stop offset="0.1638" stop-color="#0f0fff"/><stop offset="0.1724" stop-color="#1616ff"/><stop offset="0.1811" stop-color="#1111ff"/><stop offset="0.1868" stop-color="#1818ff"/><stop offset="0.2012" stop-color="#1212ff"/><stop offset="0.2098" stop-color="#1c1cff"/><stop offset="0.2213" stop-color="#1414ff"/><stop offset="0.2357" stop-color="#1b1bff"/><stop offset="0.25" stop-color="#1818ff"/><stop offset="0.2587" stop-color="#1e1eff"/><stop offset="0.2644" stop-color="#1c1cff"/><stop offset="0.2702" stop-color="#2424ff"/><stop offset="0.2817" stop-color="#2323ff"/><stop offset="0.296" stop-color="#2c2cff"/><stop offset="0.3133" stop-color="#2f2fff"/><stop offset="0.319" stop-color="#3b3bff"/><stop offset="0.3334" stop-color="#4242ff"/><stop offset="0.3478" stop-color="#5a5aff"/><stop offset="0.3593" stop-color="#7474ff"/><stop offset="0.3851" stop-color="#c9c9ff"/><stop offset="0.3909" stop-color="#ececff"/><stop offset="0.3938" stop-color="#f8f8ff"/><stop offset="0.3966" stop-color="#fffbfb"/><stop offset="0.4053" stop-color="#ffdede"/><stop offset="0.4254" stop-color="#ffb1b1"/><stop offset="0.4311" stop-color="#ffaaaa"/><stop offset="0.4397" stop-color="#ffaeae"/><stop offset="0.4512" stop-color="#ffd6d6"/><stop offset="0.4627" stop-color="#fff7f7"/><stop offset="0.4656" stop-color="#fcfcff"/><stop offset="0.4685" stop-color="#f2f2ff"/><stop offset="0.48" stop-color="#dbdbff"/><stop offset="0.4915" stop-color="#ccccff"/><stop offset="0.5058" stop-color="#c5c5ff"/><stop offset="0.5116" stop-color="#d0d0ff"/><stop offset="0.5231" stop-color="#c9c9ff"/><stop offset="0.5346" stop-color="#d7d7ff"/><stop offset="0.5375" stop-color="#d6d6ff"/><stop offset="0.5432" stop-color="#c8c8ff"/><stop offset="0.5605" stop-color="#babaff"/><stop offset="0.5662" stop-color="#a8a8ff"/><stop offset="0.5719" stop-color="#a0a0ff"/><stop offset="0.5892" stop-color="#7878ff"/><stop offset="0.6179" stop-color="#4848ff"/><stop offset="0.6323" stop-color="#3f3fff"/><stop offset="0.6381" stop-color="#3333ff"/><stop offset="0.6438" stop-color="#3535ff"/><stop offset="0.6582" stop-color="#2929ff"/><stop offset="0.6812" stop-color="#2323ff"/><stop offset="0.6898" stop-color="#1a1aff"/><stop offset="0.7042" stop-color="#1919ff"/><stop offset="0.7157" stop-color="#2424ff"/><stop offset="0.7272" stop-color="#1515ff"/><stop offset="0.73" stop-color="#1818ff"/><stop offset="0.7473" stop-color="#1212ff"/><stop offset="0.7559" stop-color="#1111ff"/><stop offset="0.7645" stop-color="#1a1aff"/><stop offset="0.7789" stop-color="#0f0fff"/><stop offset="0.7904" stop-color="#1414ff"/><stop offset="0.8019" stop-color="#1111ff"/><stop offset="0.8364" stop-color="#1c1cff"/><stop offset="0.8507" stop-color="#1010ff"/><stop offset="0.8622" stop-color="#1212ff"/><stop offset="0.8766" stop-color="#0b0bff"/><stop offset="0.8852" stop-color="#0f0fff"/><stop offset="0.8967" stop-color="#0b0bff"/><stop offset="0.9111" stop-color="#1414ff"/><stop offset="0.9168" stop-color="#0b0bff"/><stop offset="0.9226" stop-color="#1111ff"/><stop offset="0.9341" stop-color="#1111ff"/><stop offset="0.9427" stop-color="#0b0bff"/><stop offset="0.9571" stop-color="#1717ff"/><stop offset="0.9686" stop-color="#0b0bff"/><stop offset="0.9829" stop-color="#1313ff"/><stop offset="0.9973" stop-color="#0b0bff"/></linearGradient>
<linearGradient id="h9" gradientUnits="userSpaceOnUse" x1="869.5" x2="1391.4" y1="0" y2="0"><stop offset="0" stop-color="#0d0dff"/><stop offset="0.0172" stop-color="#1515ff"/><stop offset="0.0287" stop-color="#1515ff"/><stop offset="0.0374" stop-color="#0d0dff"/><stop offset="0.0661" stop-color="#1010ff"/><stop offset="0.069" stop-color="#0d0dff"/><stop offset="0.0776" stop-color="#1717ff"/><stop offset="0.1006" stop-color="#1111ff"/><stop offset="0.1495" stop-color="#1616ff"/><stop offset="0.161" stop-color="#1212ff"/><stop offset="0.1753" stop-color="#1e1eff"/><stop offset="0.1868" stop-color="#1515ff"/><stop offset="0.2098" stop-color="#1e1eff"/><stop offset="0.2184" stop-color="#1818ff"/><stop offset="0.2271" stop-color="#1c1cff"/><stop offset="0.2328" stop-color="#2424ff"/><stop offset="0.2414" stop-color="#1e1eff"/><stop offset="0.2472" stop-color="#2323ff"/><stop offset="0.2529" stop-color="#2020ff"/><stop offset="0.2702" stop-color="#2e2eff"/><stop offset="0.2845" stop-color="#3131ff"/><stop offset="0.2874" stop-color="#3434ff"/><stop offset="0.296" stop-color="#4949ff"/><stop offset="0.3162" stop-color="#5252ff"/><stop offset="0.3219" stop-color="#5b5bff"/><stop offset="0.342" stop-color="#9797ff"/><stop offset="0.3506" stop-color="#a1a1ff"/><stop offset="0.3679" stop-color="#d9d9ff"/><stop offset="0.3765" stop-color="#fefeff"/><stop offset="0.3794" stop-color="#fff2f2"/><stop offset="0.3909" stop-color="#ffd4d4"/><stop offset="0.4053" stop-color="#ffbfbf"/><stop offset="0.4139" stop-color="#ffaaaa"/><stop offset="0.4167" stop-color="#ffaaaa"/><stop offset="0.4397" stop-color="#ffe2e2"/><stop offset="0.4512" stop-color="#fff2f2"/><stop offset="0.4541" stop-color="#fffefe"/><stop offset="0.4627" stop-color="#dadaff"/><stop offset="0.4656" stop-color="#d6d6ff"/><stop offset="0.4742" stop-color="#d4d4ff"/><stop offset="0.4771" stop-color="#d0d0ff"/><stop offset="0.4886" stop-color="#aeaeff"/><stop offset="0.4943" stop-color="#a9a9ff"/><stop offset="0.5087" stop-color="#ababff"/><stop offset="0.526" stop-color="#c4c4ff"/><stop offset="0.5403" stop-color="#d1d1ff"/><stop offset="0.5605" stop-color="#d4d4ff"/><stop offset="0.5719" stop-color="#c7c7ff"/><stop offset="0.5892" stop-color="#a5a5ff"/><stop offset="0.6064" stop-color="#8a8aff"/><stop offset="0.6093" stop-color="#8282ff"/><stop offset="0.6122" stop-color="#7474ff"/><stop offset="0.6208" stop-color="#6b6bff"/><stop offset="0.6323" stop-color="#5050ff"/><stop offset="0.6582" stop-color="#3232ff"/><stop offset="0.6725" stop-color="#2828ff"/><stop offset="0.6927" stop-color="#2626ff"/><stop offset="0.6984" stop-color="#1f1fff"/><stop offset="0.707" stop-color="#2121ff"/><stop offset="0.7243" stop-color="#1818ff"/><stop offset="0.7415" stop-color="#1616ff"/><stop offset="0.7645" stop-color="#1a1aff"/><stop offset="0.7731" stop-color="#1212ff"/><stop offset="0.8019" stop-color="#1616ff"/><stop offset="0.8162" stop-color="#1010ff"/><stop offset="0.8249" stop-color="#1717ff"/><stop offset="0.8392" stop-color="#1010ff"/><stop offset="0.8594" stop-color="#0d0dff"/><stop offset="0.8737" stop-color="#1111ff"/><stop offset="0.891" stop-color="#0c0cff"/><stop offset="0.8996" stop-color="#1313ff"/><stop offset="0.9111" stop-color="#0d0dff"/><stop offset="0.9427" stop-color="#0b0bff"/><stop offset="0.9571" stop-color="#1515ff"/><stop offset="0.9657" stop-color="#0b0bff"/><stop offset="0.9715" stop-color="#1111ff"/><stop offset="0.9829" stop-color="#0b0bff"/><stop offset="0.9944" stop-color="#1414ff"/><stop offset="0.9973" stop-color="#1111ff"/></linearGradient>
<linearGradient id="h10" gradientUnits="userSpaceOnUse" x1="869.5" x2="1391.4" y1="0" y2="0"><stop offset="0" stop-color="#0c0cff"/><stop offset="0.0287" stop-color="#1616ff"/><stop offset="0.0517" stop-color="#0d0dff"/><stop offset="0.0776" stop-color="#1111ff"/><stop offset="0.0891" stop-color="#0f0fff"/><stop offset="0.1006" stop-color="#1b1bff"/><stop offset="0.1092" stop-color="#1111ff"/><stop offset="0.1178" stop-color="#1010ff"/><stop offset="0.138" stop-color="#1919ff"/><stop offset="0.1495" stop-color="#1414ff"/><stop offset="0.161" stop-color="#1b1bff"/><stop offset="0.1724" stop-color="#1414ff"/><stop offset="0.1868" stop-color="#1a1aff"/><stop offset="0.1897" stop-color="#1717ff"/><stop offset="0.1983" stop-color="#2323ff"/><stop offset="0.2098" stop-color="#1a1aff"/><stop offset="0.2328" stop-color="#2222ff"/><stop offset="0.2472" stop-color="#2f2fff"/><stop offset="0.2587" stop-color="#2d2dff"/><stop offset="0.2759" stop-color="#3636ff"/><stop offset="0.2817" stop-color="#3939ff"/><stop offset="0.296" stop-color="#5151ff"/><stop offset="0.3075" stop-color="#5959ff"/><stop offset="0.319" stop-color="#7a7aff"/><stop offset="0.3276" stop-color="#8484ff"/><stop offset="0.3449" stop-color="#b8b8ff"/><stop offset="0.365" stop-color="#fefeff"/><stop offset="0.3909" stop-color="#ffb4b4"/><stop offset="0.3938" stop-color="#ffb3b3"/><stop offset="0.3995" stop-color="#ffb7b7"/><stop offset="0.411" stop-color="#ffc9c9"/><stop offset="0.4282" stop-color="#fff6f6"/><stop offset="0.4311" stop-color="#ffffff"/><stop offset="0.434" stop-color="#f9f9ff"/><stop offset="0.4397" stop-color="#fbfbff"/><stop offset="0.4541" stop-color="#b8b8ff"/><stop offset="0.4742" stop-color="#8c8cff"/><stop offset="0.5001" stop-color="#7777ff"/><stop offset="0.5116" stop-color="#8181ff"/><stop offset="0.5173" stop-color="#8080ff"/><stop offset="0.5231" stop-color="#9393ff"/><stop offset="0.5432" stop-color="#a8a8ff"/><stop offset="0.5518" stop-color="#b8b8ff"/><stop offset="0.5605" stop-color="#ceceff"/><stop offset="0.5777" stop-color="#dcdcff"/><stop offset="0.5949" stop-color="#dbdbff"/><stop offset="0.6007" stop-color="#cbcbff"/><stop offset="0.6093" stop-color="#bdbdff"/><stop offset="0.6151" stop-color="#adadff"/><stop offset="0.6208" stop-color="#a8a8ff"/><stop offset="0.6323" stop-color="#8787ff"/><stop offset="0.6524" stop-color="#6161ff"/><stop offset="0.7013" stop-color="#2727ff"/><stop offset="0.7185" stop-color="#2323ff"/><stop offset="0.7243" stop-color="#1d1dff"/><stop offset="0.7415" stop-color="#1e1eff"/><stop offset="0.7501" stop-color="#1818ff"/><stop offset="0.776" stop-color="#1b1bff"/><stop offset="0.7818" stop-color="#1313ff"/><stop offset="0.7904" stop-color="#1e1eff"/><stop offset="0.799" stop-color="#1212ff"/><stop offset="0.8019" stop-color="#1515ff"/><stop offset="0.8249" stop-color="#1111ff"/><stop offset="0.8364" stop-color="#1717ff"/><stop offset="0.845" stop-color="#0f0fff"/><stop offset="0.8507" stop-color="#1313ff"/><stop offset="0.8852" stop-color="#0d0dff"/><stop offset="0.8996" stop-color="#1111ff"/><stop offset="0.9111" stop-color="#0c0cff"/><stop offset="0.9226" stop-color="#1010ff"/><stop offset="0.9628" stop-color="#0b0bff"/><stop offset="0.9715" stop-color="#1414ff"/><stop offset="0.9801" stop-color="#0b0bff"/><stop offset="0.9829" stop-color="#0e0eff"/><stop offset="0.9973" stop-color="#0b0bff"/></linearGradient>
<linearGradient id="h11" gradientUnits="userSpaceOnUse" x1="869.5" x2="1391.4" y1="0" y2="0"><stop offset="0" stop-color="#1414ff"/><stop offset="0.0057" stop-color="#1818ff"/><stop offset="0.0345" stop-color="#0f0fff"/><stop offset="0.0402" stop-color="#1313ff"/><stop offset="0.0489" stop-color="#1010ff"/><stop offset="0.0661" stop-color="#1717ff"/><stop offset="0.0805" stop-color="#1313ff"/><stop offset="0.0891" stop-color="#1818ff"/><stop offset="0.1236" stop-color="#1818ff"/><stop offset="0.138" stop-color="#2222ff"/><stop offset="0.1437" stop-color="#1e1eff"/><stop offset="0.1495" stop-color="#2b2bff"/><stop offset="0.161" stop-color="#2424ff"/><stop offset="0.1782" stop-color="#2f2fff"/><stop offset="0.1983" stop-color="#4444ff"/><stop offset="0.2098" stop-color="#6464ff"/><stop offset="0.2184" stop-color="#6666ff"/><stop offset="0.2615" stop-color="#d7d7ff"/><stop offset="0.2702" stop-color="#fdfdff"/><stop offset="0.2845" stop-color="#fffefe"/><stop offset="0.296" stop-color="#fcfcff"/><stop offset="0.3104" stop-color="#e3e3ff"/><stop offset="0.3305" stop-color="#e0e0ff"/><stop offset="0.3449" stop-color="#bfbfff"/><stop offset="0.3708" stop-color="#5757ff"/><stop offset="0.3909" stop-color="#3939ff"/><stop offset="0.4139" stop-color="#3232ff"/><stop offset="0.4196" stop-color="#2a2aff"/><stop offset="0.4282" stop-color="#3030ff"/><stop offset="0.434" stop-color="#2525ff"/><stop offset="0.4397" stop-color="#2c2cff"/><stop offset="0.4484" stop-color="#2323ff"/><stop offset="0.4512" stop-color="#2727ff"/><stop offset="0.4627" stop-color="#2323ff"/><stop offset="0.48" stop-color="#2323ff"/><stop offset="0.4886" stop-color="#2929ff"/><stop offset="0.4943" stop-color="#2525ff"/><stop offset="0.503" stop-color="#2727ff"/><stop offset="0.5116" stop-color="#3131ff"/><stop offset="0.5173" stop-color="#2d2dff"/><stop offset="0.5317" stop-color="#3333ff"/><stop offset="0.5461" stop-color="#4848ff"/><stop offset="0.5547" stop-color="#4a4aff"/><stop offset="0.5605" stop-color="#5656ff"/><stop offset="0.5633" stop-color="#5757ff"/><stop offset="0.5662" stop-color="#6060ff"/><stop offset="0.5719" stop-color="#8484ff"/><stop offset="0.5834" stop-color="#b0b0ff"/><stop offset="0.5892" stop-color="#bdbdff"/><stop offset="0.5949" stop-color="#d0d0ff"/><stop offset="0.6036" stop-color="#ddddff"/><stop offset="0.6093" stop-color="#f2f2ff"/><stop offset="0.6179" stop-color="#fafaff"/><stop offset="0.6208" stop-color="#fffbfb"/><stop offset="0.6323" stop-color="#fff4f4"/><stop offset="0.6409" stop-color="#ffe7e7"/><stop offset="0.6495" stop-color="#ffe4e4"/><stop offset="0.6553" stop-color="#ffe6e6"/><stop offset="0.6668" stop-color="#ffffff"/><stop offset="0.6927" stop-color="#b9b9ff"/><stop offset="0.7013" stop-color="#9696ff"/><stop offset="0.7099" stop-color="#8080ff"/><stop offset="0.7272" stop-color="#6969ff"/><stop offset="0.73" stop-color="#6363ff"/><stop offset="0.7358" stop-color="#4b4bff"/><stop offset="0.7415" stop-color="#4c4cff"/><stop offset="0.7703" stop-color="#2929ff"/><stop offset="0.7933" stop-color="#1e1eff"/><stop offset="0.8134" stop-color="#1f1fff"/><stop offset="0.8306" stop-color="#1717ff"/><stop offset="0.8392" stop-color="#1e1eff"/><stop offset="0.845" stop-color="#1515ff"/><stop offset="0.8507" stop-color="#1818ff"/><stop offset="0.8651" stop-color="#1313ff"/><stop offset="0.8737" stop-color="#1717ff"/><stop offset="0.8824" stop-color="#1111ff"/><stop offset="0.8967" stop-color="#1414ff"/><stop offset="0.9025" stop-color="#1010ff"/><stop offset="0.9111" stop-color="#1717ff"/><stop offset="0.9255" stop-color="#0e0eff"/><stop offset="0.9341" stop-color="#1111ff"/><stop offset="0.9513" stop-color="#0e0eff"/><stop offset="0.96" stop-color="#1111ff"/><stop offset="0.9772" stop-color="#0c0cff"/><stop offset="0.9973" stop-color="#1111ff"/></linearGradient>
<linearGradient id="h12" gradientUnits="userSpaceOnUse" x1="869.5" x2="1391.4" y1="0" y2="0"><stop offset="0" stop-color="#0e0eff"/><stop offset="0.0287" stop-color="#1717ff"/><stop offset="0.0374" stop-color="#1111ff"/><stop offset="0.0517" stop-color="#1717ff"/><stop offset="0.0632" stop-color="#1313ff"/><stop offset="0.0805" stop-color="#1515ff"/><stop offset="0.0891" stop-color="#2121ff"/><stop offset="0.1121" stop-color="#1c1cff"/><stop offset="0.1265" stop-color="#2525ff"/><stop offset="0.1322" stop-color="#2222ff"/><stop offset="0.1638" stop-color="#3737ff"/><stop offset="0.1983" stop-color="#7474ff"/><stop offset="0.2213" stop-color="#aaaaff"/><stop offset="0.2357" stop-color="#dadaff"/><stop offset="0.25" stop-color="#ffffff"/><stop offset="0.2529" stop-color="#fff6f6"/><stop offset="0.2587" stop-color="#ffe6e6"/><stop offset="0.273" stop-color="#fff1f1"/><stop offset="0.2817" stop-color="#fffdfd"/><stop offset="0.2845" stop-color="#fbfbff"/><stop offset="0.3047" stop-color="#cbcbff"/><stop offset="0.3133" stop-color="#aaaaff"/><stop offset="0.3334" stop-color="#7575ff"/><stop offset="0.3621" stop-color="#4444ff"/><stop offset="0.3679" stop-color="#4545ff"/><stop offset="0.3823" stop-color="#3131ff"/><stop offset="0.3909" stop-color="#3333ff"/><stop offset="0.411" stop-color="#2525ff"/><stop offset="0.4225" stop-color="#2222ff"/><stop offset="0.4397" stop-color="#2525ff"/><stop offset="0.4455" stop-color="#2020ff"/><stop offset="0.4512" stop-color="#2727ff"/><stop offset="0.4599" stop-color="#2020ff"/><stop offset="0.5116" stop-color="#2525ff"/><stop offset="0.5346" stop-color="#3232ff"/><stop offset="0.5432" stop-color="#3232ff"/><stop offset="0.5518" stop-color="#3a3aff"/><stop offset="0.5605" stop-color="#4a4aff"/><stop offset="0.5719" stop-color="#5454ff"/><stop offset="0.5834" stop-color="#7474ff"/><stop offset="0.6007" stop-color="#8f8fff"/><stop offset="0.6352" stop-color="#fbfbff"/><stop offset="0.6381" stop-color="#fffbfb"/><stop offset="0.6495" stop-color="#ffe2e2"/><stop offset="0.6639" stop-color="#ffd5d5"/><stop offset="0.6697" stop-color="#ffd7d7"/><stop offset="0.6812" stop-color="#fff9f9"/><stop offset="0.684" stop-color="#fcfcff"/><stop offset="0.6984" stop-color="#ceceff"/><stop offset="0.7042" stop-color="#c4c4ff"/><stop offset="0.7128" stop-color="#a1a1ff"/><stop offset="0.7243" stop-color="#8080ff"/><stop offset="0.753" stop-color="#5050ff"/><stop offset="0.7616" stop-color="#3c3cff"/><stop offset="0.7789" stop-color="#2d2dff"/><stop offset="0.7904" stop-color="#2e2eff"/><stop offset="0.8306" stop-color="#1a1aff"/><stop offset="0.8392" stop-color="#2222ff"/><stop offset="0.8507" stop-color="#1717ff"/><stop offset="0.8622" stop-color="#1c1cff"/><stop offset="0.891" stop-color="#1111ff"/><stop offset="0.9111" stop-color="#1717ff"/><stop offset="0.9398" stop-color="#0e0eff"/><stop offset="0.96" stop-color="#1414ff"/><stop offset="0.9715" stop-color="#0d0dff"/><stop offset="0.9829" stop-color="#1717ff"/><stop offset="0.9973" stop-color="#0c0cff"/></linearGradient>
<linearGradient id="h13" gradientUnits="userSpaceOnUse" x1="869.5" x2="1391.4" y1="0" y2="0"><stop offset="0" stop-color="#1010ff"/><stop offset="0.0287" stop-color="#0f0fff"/><stop offset="0.0402" stop-color="#1515ff"/><stop offset="0.0776" stop-color="#1414ff"/><stop offset="0.0891" stop-color="#1818ff"/><stop offset="0.0948" stop-color="#1515ff"/><stop offset="0.1035" stop-color="#1a1aff"/><stop offset="0.1121" stop-color="#1717ff"/><stop offset="0.1265" stop-color="#1e1eff"/><stop offset="0.1293" stop-color="#1b1bff"/><stop offset="0.138" stop-color="#2424ff"/><stop offset="0.1523" stop-color="#2222ff"/><stop offset="0.1811" stop-color="#3737ff"/><stop offset="0.1983" stop-color="#4d4dff"/><stop offset="0.2127" stop-color="#6666ff"/><stop offset="0.2386" stop-color="#a7a7ff"/><stop offset="0.2472" stop-color="#c3c3ff"/><stop offset="0.2615" stop-color="#e8e8ff"/><stop offset="0.2702" stop-color="#f8f8ff"/><stop offset="0.2788" stop-color="#fffefe"/><stop offset="0.2874" stop-color="#fefeff"/><stop offset="0.2932" stop-color="#f9f9ff"/><stop offset="0.3047" stop-color="#e4e4ff"/><stop offset="0.3133" stop-color="#cbcbff"/><stop offset="0.319" stop-color="#c7c7ff"/><stop offset="0.3305" stop-color="#9b9bff"/><stop offset="0.3478" stop-color="#7070ff"/><stop offset="0.3679" stop-color="#4c4cff"/><stop offset="0.3794" stop-color="#4b4bff"/><stop offset="0.411" stop-color="#2929ff"/><stop offset="0.4282" stop-color="#2424ff"/><stop offset="0.4397" stop-color="#2b2bff"/><stop offset="0.4484" stop-color="#2323ff"/><stop offset="0.4627" stop-color="#2626ff"/><stop offset="0.4771" stop-color="#2222ff"/><stop offset="0.4886" stop-color="#2828ff"/><stop offset="0.4943" stop-color="#2525ff"/><stop offset="0.5001" stop-color="#2b2bff"/><stop offset="0.5087" stop-color="#2828ff"/><stop offset="0.5403" stop-color="#3a3aff"/><stop offset="0.5518" stop-color="#4747ff"/><stop offset="0.5605" stop-color="#5959ff"/><stop offset="0.5748" stop-color="#6d6dff"/><stop offset="0.5892" stop-color="#9090ff"/><stop offset="0.5978" stop-color="#b5b5ff"/><stop offset="0.6294" stop-color="#ffffff"/><stop offset="0.6381" stop-color="#fff2f2"/><stop offset="0.6438" stop-color="#ffefef"/><stop offset="0.6495" stop-color="#fff0f0"/><stop offset="0.6582" stop-color="#fffafa"/><stop offset="0.661" stop-color="#ffffff"/><stop offset="0.6639" stop-color="#f8f8ff"/><stop offset="0.6812" stop-color="#cbcbff"/><stop offset="0.6984" stop-color="#9393ff"/><stop offset="0.7042" stop-color="#8686ff"/><stop offset="0.7444" stop-color="#3a3aff"/><stop offset="0.753" stop-color="#3a3aff"/><stop offset="0.7588" stop-color="#2e2eff"/><stop offset="0.7645" stop-color="#3131ff"/><stop offset="0.7789" stop-color="#2222ff"/><stop offset="0.8105" stop-color="#1818ff"/><stop offset="0.8249" stop-color="#2525ff"/><stop offset="0.8364" stop-color="#1515ff"/><stop offset="0.8651" stop-color="#1111ff"/><stop offset="0.8737" stop-color="#1616ff"/><stop offset="0.891" stop-color="#1010ff"/><stop offset="0.8996" stop-color="#1616ff"/><stop offset="0.9082" stop-color="#0f0fff"/><stop offset="0.9341" stop-color="#1212ff"/><stop offset="0.9398" stop-color="#0d0dff"/><stop offset="0.9456" stop-color="#1313ff"/><stop offset="0.9513" stop-color="#0c0cff"/><stop offset="0.96" stop-color="#1616ff"/><stop offset="0.9772" stop-color="#0c0cff"/><stop offset="0.9973" stop-color="#0b0bff"/></linearGradient>
<linearGradient id="h14" gradientUnits="userSpaceOnUse" x1="869.5" x2="1391.4" y1="0" y2="0"><stop offset="0" stop-color="#0d0dff"/><stop offset="0.0201" stop-color="#0f0fff"/><stop offset="0.0287" stop-color="#1818ff"/><stop offset="0.0374" stop-color="#1010ff"/><stop offset="0.0402" stop-color="#1515ff"/><stop offset="0.0489" stop-color="#0f0fff"/><stop offset="0.0546" stop-color="#1313ff"/><stop offset="0.0604" stop-color="#1010ff"/><stop offset="0.0661" stop-color="#1616ff"/><stop offset="0.0776" stop-color="#1919ff"/><stop offset="0.1035" stop-color="#1212ff"/><stop offset="0.1265" stop-color="#2020ff"/><stop offset="0.1351" stop-color="#1616ff"/><stop offset="0.1466" stop-color="#1818ff"/><stop offset="0.1523" stop-color="#1919ff"/><stop offset="0.161" stop-color="#2424ff"/><stop offset="0.1724" stop-color="#1e1eff"/><stop offset="0.2041" stop-color="#2d2dff"/><stop offset="0.2184" stop-color="#3b3bff"/><stop offset="0.2357" stop-color="#5353ff"/><stop offset="0.2702" stop-color="#a1a1ff"/><stop offset="0.2845" stop-color="#d6d6ff"/><stop offset="0.3075" stop-color="#ffffff"/><stop offset="0.3133" stop-color="#fff7f7"/><stop offset="0.319" stop-color="#ffe7e7"/><stop offset="0.3305" stop-color="#fefeff"/><stop offset="0.3391" stop-color="#f1f1ff"/><stop offset="0.342" stop-color="#ececff"/><stop offset="0.3506" stop-color="#cacaff"/><stop offset="0.3679" stop-color="#a2a2ff"/><stop offset="0.3794" stop-color="#7f7fff"/><stop offset="0.4053" stop-color="#4f4fff"/><stop offset="0.4512" stop-color="#3131ff"/><stop offset="0.4627" stop-color="#3434ff"/><stop offset="0.4685" stop-color="#3030ff"/><stop offset="0.4771" stop-color="#3a3aff"/><stop offset="0.5087" stop-color="#4343ff"/><stop offset="0.5173" stop-color="#4c4cff"/><stop offset="0.5346" stop-color="#6e6eff"/><stop offset="0.5432" stop-color="#7a7aff"/><stop offset="0.5518" stop-color="#8f8fff"/><stop offset="0.5605" stop-color="#b1b1ff"/><stop offset="0.5719" stop-color="#c7c7ff"/><stop offset="0.5863" stop-color="#fffefe"/><stop offset="0.5949" stop-color="#ffe3e3"/><stop offset="0.6036" stop-color="#ffdada"/><stop offset="0.6093" stop-color="#ffdede"/><stop offset="0.6151" stop-color="#fff0f0"/><stop offset="0.6237" stop-color="#fffefe"/><stop offset="0.6323" stop-color="#f9f9ff"/><stop offset="0.6438" stop-color="#cbcbff"/><stop offset="0.661" stop-color="#9898ff"/><stop offset="0.6697" stop-color="#8181ff"/><stop offset="0.6898" stop-color="#5656ff"/><stop offset="0.7099" stop-color="#3939ff"/><stop offset="0.7185" stop-color="#3838ff"/><stop offset="0.73" stop-color="#2a2aff"/><stop offset="0.7415" stop-color="#3131ff"/><stop offset="0.753" stop-color="#2424ff"/><stop offset="0.8076" stop-color="#1414ff"/><stop offset="0.8249" stop-color="#1818ff"/><stop offset="0.8335" stop-color="#1212ff"/><stop offset="0.8507" stop-color="#1515ff"/><stop offset="0.8622" stop-color="#0f0fff"/><stop offset="0.8737" stop-color="#1616ff"/><stop offset="0.891" stop-color="#0e0eff"/><stop offset="0.8996" stop-color="#1010ff"/><stop offset="0.9226" stop-color="#0c0cff"/><stop offset="0.9686" stop-color="#1212ff"/><stop offset="0.9772" stop-color="#0b0bff"/><stop offset="0.9829" stop-color="#1111ff"/><stop offset="0.9973" stop-color="#1010ff"/></linearGradient>
<linearGradient id="h15" gradientUnits="userSpaceOnUse" x1="869.5" x2="1391.4" y1="0" y2="0"><stop offset="0" stop-color="#0f0fff"/><stop offset="0.0086" stop-color="#0c0cff"/><stop offset="0.0172" stop-color="#1111ff"/><stop offset="0.0259" stop-color="#0c0cff"/><stop offset="0.0402" stop-color="#1010ff"/><stop offset="0.0489" stop-color="#0d0dff"/><stop offset="0.0632" stop-color="#1212ff"/><stop offset="0.0719" stop-color="#0e0eff"/><stop offset="0.0776" stop-color="#1212ff"/><stop offset="0.0891" stop-color="#1010ff"/><stop offset="0.1006" stop-color="#1e1eff"/><stop offset="0.1092" stop-color="#1212ff"/><stop offset="0.1495" stop-color="#1c1cff"/><stop offset="0.1552" stop-color="#1616ff"/><stop offset="0.161" stop-color="#1a1aff"/><stop offset="0.1696" stop-color="#1616ff"/><stop offset="0.1983" stop-color="#2020ff"/><stop offset="0.2098" stop-color="#2e2eff"/><stop offset="0.2184" stop-color="#2424ff"/><stop offset="0.2472" stop-color="#3333ff"/><stop offset="0.2587" stop-color="#4949ff"/><stop offset="0.2702" stop-color="#4f4fff"/><stop offset="0.2788" stop-color="#5e5eff"/><stop offset="0.2932" stop-color="#7e7eff"/><stop offset="0.3075" stop-color="#adadff"/><stop offset="0.3133" stop-color="#b3b3ff"/><stop offset="0.319" stop-color="#c6c6ff"/><stop offset="0.3363" stop-color="#f2f2ff"/><stop offset="0.3449" stop-color="#fffefe"/><stop offset="0.3593" stop-color="#fff8f8"/><stop offset="0.3679" stop-color="#fffefe"/><stop offset="0.3823" stop-color="#dcdcff"/><stop offset="0.3909" stop-color="#d7d7ff"/><stop offset="0.4024" stop-color="#afafff"/><stop offset="0.4139" stop-color="#9a9aff"/><stop offset="0.4282" stop-color="#7171ff"/><stop offset="0.4397" stop-color="#6e6eff"/><stop offset="0.4484" stop-color="#5a5aff"/><stop offset="0.457" stop-color="#5555ff"/><stop offset="0.4771" stop-color="#5a5aff"/><stop offset="0.4915" stop-color="#6a6aff"/><stop offset="0.5001" stop-color="#8484ff"/><stop offset="0.5116" stop-color="#9a9aff"/><stop offset="0.5202" stop-color="#a3a3ff"/><stop offset="0.5288" stop-color="#bbbbff"/><stop offset="0.5375" stop-color="#dcdcff"/><stop offset="0.5518" stop-color="#fefeff"/><stop offset="0.5633" stop-color="#ffe7e7"/><stop offset="0.5719" stop-color="#ffdddd"/><stop offset="0.5921" stop-color="#fffdfd"/><stop offset="0.5949" stop-color="#fbfbff"/><stop offset="0.6007" stop-color="#ededff"/><stop offset="0.6151" stop-color="#bdbdff"/><stop offset="0.6352" stop-color="#8383ff"/><stop offset="0.6438" stop-color="#7575ff"/><stop offset="0.6553" stop-color="#5959ff"/><stop offset="0.6697" stop-color="#5454ff"/><stop offset="0.6812" stop-color="#4545ff"/><stop offset="0.6898" stop-color="#2f2fff"/><stop offset="0.7013" stop-color="#2727ff"/><stop offset="0.707" stop-color="#2424ff"/><stop offset="0.7185" stop-color="#2a2aff"/><stop offset="0.73" stop-color="#2020ff"/><stop offset="0.753" stop-color="#1c1cff"/><stop offset="0.7645" stop-color="#2121ff"/><stop offset="0.776" stop-color="#1414ff"/><stop offset="0.8019" stop-color="#1616ff"/><stop offset="0.8162" stop-color="#1111ff"/><stop offset="0.8364" stop-color="#1919ff"/><stop offset="0.845" stop-color="#0f0fff"/><stop offset="0.8507" stop-color="#1515ff"/><stop offset="0.8565" stop-color="#1010ff"/><stop offset="0.8622" stop-color="#1717ff"/><stop offset="0.868" stop-color="#0e0eff"/><stop offset="0.8737" stop-color="#1717ff"/><stop offset="0.8996" stop-color="#0d0dff"/><stop offset="0.9111" stop-color="#1515ff"/><stop offset="0.9341" stop-color="#0f0fff"/><stop offset="0.9456" stop-color="#1414ff"/><stop offset="0.9628" stop-color="#0b0bff"/><stop offset="0.9743" stop-color="#0b0bff"/><stop offset="0.9829" stop-color="#1313ff"/><stop offset="0.9916" stop-color="#0c0cff"/><stop offset="0.9973" stop-color="#0d0dff"/></linearGradient>
<linearGradient id="h16" gradientUnits="userSpaceOnUse" x1="869.5" x2="1391.4" y1="0" y2="0"><stop offset="0" stop-color="#1212ff"/><stop offset="0.0172" stop-color="#0c0cff"/><stop offset="0.0287" stop-color="#1313ff"/><stop offset="0.0345" stop-color="#0c0cff"/><stop offset="0.0402" stop-color="#1414ff"/><stop offset="0.0489" stop-color="#0e0eff"/><stop offset="0.069" stop-color="#0d0dff"/><stop offset="0.0776" stop-color="#1616ff"/><stop offset="0.0833" stop-color="#0f0fff"/><stop offset="0.1035" stop-color="#1313ff"/><stop offset="0.1236" stop-color="#1010ff"/><stop offset="0.138" stop-color="#1515ff"/><stop offset="0.1523" stop-color="#1212ff"/><stop offset="0.161" stop-color="#1a1aff"/><stop offset="0.1724" stop-color="#1313ff"/><stop offset="0.1868" stop-color="#2020ff"/><stop offset="0.1926" stop-color="#1717ff"/><stop offset="0.1983" stop-color="#1f1fff"/><stop offset="0.2213" stop-color="#1e1eff"/><stop offset="0.2357" stop-color="#2626ff"/><stop offset="0.2529" stop-color="#2323ff"/><stop offset="0.2702" stop-color="#3636ff"/><stop offset="0.296" stop-color="#4343ff"/><stop offset="0.3104" stop-color="#5757ff"/><stop offset="0.3334" stop-color="#8a8aff"/><stop offset="0.3363" stop-color="#9191ff"/><stop offset="0.342" stop-color="#adadff"/><stop offset="0.3506" stop-color="#babaff"/><stop offset="0.3736" stop-color="#fcfcff"/><stop offset="0.3765" stop-color="#fffcfc"/><stop offset="0.3823" stop-color="#fff2f2"/><stop offset="0.3909" stop-color="#ffd7d7"/><stop offset="0.3966" stop-color="#ffdada"/><stop offset="0.4225" stop-color="#fefeff"/><stop offset="0.4282" stop-color="#f4f4ff"/><stop offset="0.4397" stop-color="#d7d7ff"/><stop offset="0.4627" stop-color="#bebeff"/><stop offset="0.4685" stop-color="#c0c0ff"/><stop offset="0.4857" stop-color="#d4d4ff"/><stop offset="0.5087" stop-color="#fefeff"/><stop offset="0.5231" stop-color="#ffe4e4"/><stop offset="0.5346" stop-color="#ffdada"/><stop offset="0.5461" stop-color="#ffe2e2"/><stop offset="0.5576" stop-color="#fffafa"/><stop offset="0.5605" stop-color="#fcfcff"/><stop offset="0.5719" stop-color="#ececff"/><stop offset="0.5892" stop-color="#a9a9ff"/><stop offset="0.5978" stop-color="#8b8bff"/><stop offset="0.6093" stop-color="#7272ff"/><stop offset="0.6208" stop-color="#6363ff"/><stop offset="0.6266" stop-color="#4f4fff"/><stop offset="0.6323" stop-color="#4c4cff"/><stop offset="0.6409" stop-color="#3d3dff"/><stop offset="0.6668" stop-color="#3434ff"/><stop offset="0.6955" stop-color="#1e1eff"/><stop offset="0.7042" stop-color="#2525ff"/><stop offset="0.73" stop-color="#1717ff"/><stop offset="0.7559" stop-color="#1414ff"/><stop offset="0.7645" stop-color="#1f1fff"/><stop offset="0.7789" stop-color="#1414ff"/><stop offset="0.7933" stop-color="#1111ff"/><stop offset="0.8019" stop-color="#1414ff"/><stop offset="0.8162" stop-color="#1010ff"/><stop offset="0.8507" stop-color="#0e0eff"/><stop offset="0.8737" stop-color="#1313ff"/><stop offset="0.8824" stop-color="#0d0dff"/><stop offset="0.8996" stop-color="#1212ff"/><stop offset="0.9341" stop-color="#0b0bff"/><stop offset="0.9456" stop-color="#1313ff"/><stop offset="0.9715" stop-color="#0b0bff"/><stop offset="0.9829" stop-color="#1212ff"/><stop offset="0.9973" stop-color="#0c0cff"/></linearGradient>
<linearGradient id="h17" gradientUnits="userSpaceOnUse" x1="869.5" x2="1391.4" y1="0" y2="0"><stop offset="0" stop-color="#0e0eff"/><stop offset="0.0661" stop-color="#0b0bff"/><stop offset="0.0776" stop-color="#1717ff"/><stop offset="0.092" stop-color="#0b0bff"/><stop offset="0.1006" stop-color="#1414ff"/><stop offset="0.1121" stop-color="#0c0cff"/><stop offset="0.1495" stop-color="#1313ff"/><stop offset="0.1581" stop-color="#0d0dff"/><stop offset="0.1724" stop-color="#0e0eff"/><stop offset="0.1868" stop-color="#1515ff"/><stop offset="0.1926" stop-color="#1010ff"/><stop offset="0.1983" stop-color="#1515ff"/><stop offset="0.2098" stop-color="#1111ff"/><stop offset="0.2328" stop-color="#1616ff"/><stop offset="0.2386" stop-color="#1414ff"/><stop offset="0.2472" stop-color="#1b1bff"/><stop offset="0.2529" stop-color="#1616ff"/><stop offset="0.2702" stop-color="#1d1dff"/><stop offset="0.273" stop-color="#1a1aff"/><stop offset="0.2817" stop-color="#2a2aff"/><stop offset="0.2932" stop-color="#2020ff"/><stop offset="0.3104" stop-color="#2525ff"/><stop offset="0.3391" stop-color="#3b3bff"/><stop offset="0.3478" stop-color="#4747ff"/><stop offset="0.365" stop-color="#6b6bff"/><stop offset="0.3823" stop-color="#9e9eff"/><stop offset="0.3909" stop-color="#ceceff"/><stop offset="0.4024" stop-color="#fcfcff"/><stop offset="0.4053" stop-color="#fff3f3"/><stop offset="0.4167" stop-color="#ffb4b4"/><stop offset="0.4225" stop-color="#ffa0a0"/><stop offset="0.4282" stop-color="#ff9393"/><stop offset="0.4369" stop-color="#ff9b9b"/><stop offset="0.4512" stop-color="#ff8f8f"/><stop offset="0.4599" stop-color="#ff9595"/><stop offset="0.4656" stop-color="#ff9393"/><stop offset="0.48" stop-color="#ff8989"/><stop offset="0.4886" stop-color="#ff7878"/><stop offset="0.4943" stop-color="#ff7b7b"/><stop offset="0.5001" stop-color="#ff8585"/><stop offset="0.5231" stop-color="#fff2f2"/><stop offset="0.526" stop-color="#fefeff"/><stop offset="0.5432" stop-color="#aeaeff"/><stop offset="0.5633" stop-color="#6969ff"/><stop offset="0.5806" stop-color="#4747ff"/><stop offset="0.5892" stop-color="#3b3bff"/><stop offset="0.6237" stop-color="#2323ff"/><stop offset="0.6438" stop-color="#2121ff"/><stop offset="0.6725" stop-color="#1616ff"/><stop offset="0.73" stop-color="#1313ff"/><stop offset="0.7329" stop-color="#1010ff"/><stop offset="0.7415" stop-color="#1a1aff"/><stop offset="0.7818" stop-color="#0d0dff"/><stop offset="0.8019" stop-color="#1212ff"/><stop offset="0.8076" stop-color="#0d0dff"/><stop offset="0.8134" stop-color="#1313ff"/><stop offset="0.8421" stop-color="#0b0bff"/><stop offset="0.8651" stop-color="#0b0bff"/><stop offset="0.8737" stop-color="#1313ff"/><stop offset="0.8795" stop-color="#0a0aff"/><stop offset="0.8852" stop-color="#1313ff"/><stop offset="0.8938" stop-color="#0c0cff"/><stop offset="0.8996" stop-color="#1313ff"/><stop offset="0.9111" stop-color="#0c0cff"/><stop offset="0.9226" stop-color="#0f0fff"/><stop offset="0.9312" stop-color="#0a0aff"/><stop offset="0.9456" stop-color="#0f0fff"/><stop offset="0.9542" stop-color="#0a0aff"/><stop offset="0.9715" stop-color="#0a0aff"/><stop offset="0.9829" stop-color="#1212ff"/><stop offset="0.9916" stop-color="#0909ff"/><stop offset="0.9973" stop-color="#0b0bff"/></linearGradient>
<linearGradient id="h18" gradientUnits="userSpaceOnUse" x1="869.5" x2="1391.4" y1="0" y2="0"><stop offset="0" stop-color="#0b0bff"/><stop offset="0.0057" stop-color="#0d0dff"/><stop offset="0.0115" stop-color="#0909ff"/><stop offset="0.0172" stop-color="#0d0dff"/><stop offset="0.0259" stop-color="#0909ff"/><stop offset="0.0402" stop-color="#1111ff"/><stop offset="0.0489" stop-color="#0a0aff"/><stop offset="0.0517" stop-color="#0d0dff"/><stop offset="0.0575" stop-color="#0a0aff"/><stop offset="0.0661" stop-color="#1515ff"/><stop offset="0.0833" stop-color="#0a0aff"/><stop offset="0.1121" stop-color="#1515ff"/><stop offset="0.1207" stop-color="#0c0cff"/><stop offset="0.1265" stop-color="#1111ff"/><stop offset="0.1322" stop-color="#0c0cff"/><stop offset="0.1552" stop-color="#0d0dff"/><stop offset="0.1638" stop-color="#1313ff"/><stop offset="0.1868" stop-color="#0e0eff"/><stop offset="0.2098" stop-color="#1a1aff"/><stop offset="0.2184" stop-color="#1010ff"/><stop offset="0.2242" stop-color="#1515ff"/><stop offset="0.2328" stop-color="#1111ff"/><stop offset="0.2472" stop-color="#1313ff"/><stop offset="0.2587" stop-color="#1f1fff"/><stop offset="0.2673" stop-color="#1616ff"/><stop offset="0.2759" stop-color="#1616ff"/><stop offset="0.296" stop-color="#2626ff"/><stop offset="0.3133" stop-color="#1e1eff"/><stop offset="0.3305" stop-color="#2828ff"/><stop offset="0.3363" stop-color="#2626ff"/><stop offset="0.342" stop-color="#3030ff"/><stop offset="0.3478" stop-color="#2e2eff"/><stop offset="0.3564" stop-color="#3838ff"/><stop offset="0.3621" stop-color="#3838ff"/><stop offset="0.3794" stop-color="#5e5eff"/><stop offset="0.3909" stop-color="#6d6dff"/><stop offset="0.3966" stop-color="#8383ff"/><stop offset="0.411" stop-color="#c2c2ff"/><stop offset="0.4167" stop-color="#e1e1ff"/><stop offset="0.4196" stop-color="#f7f7ff"/><stop offset="0.4225" stop-color="#fff1f1"/><stop offset="0.4282" stop-color="#ffc2c2"/><stop offset="0.4512" stop-color="#ff3030"/><stop offset="0.4599" stop-color="#ff0505"/><stop offset="0.4627" stop-color="#ff0000"/><stop offset="0.4742" stop-color="#ff0303"/><stop offset="0.4771" stop-color="#ff0f0f"/><stop offset="0.4857" stop-color="#ff4242"/><stop offset="0.5116" stop-color="#fffbfb"/><stop offset="0.5145" stop-color="#f0f0ff"/><stop offset="0.5288" stop-color="#a2a2ff"/><stop offset="0.5403" stop-color="#7676ff"/><stop offset="0.549" stop-color="#6565ff"/><stop offset="0.5576" stop-color="#4d4dff"/><stop offset="0.5719" stop-color="#3838ff"/><stop offset="0.5892" stop-color="#2c2cff"/><stop offset="0.5978" stop-color="#2f2fff"/><stop offset="0.6151" stop-color="#1f1fff"/><stop offset="0.6208" stop-color="#2121ff"/><stop offset="0.6294" stop-color="#1b1bff"/><stop offset="0.6438" stop-color="#1e1eff"/><stop offset="0.6495" stop-color="#1717ff"/><stop offset="0.6582" stop-color="#1e1eff"/><stop offset="0.6668" stop-color="#1515ff"/><stop offset="0.6754" stop-color="#1313ff"/><stop offset="0.6927" stop-color="#1414ff"/><stop offset="0.7042" stop-color="#1d1dff"/><stop offset="0.7128" stop-color="#1212ff"/><stop offset="0.7415" stop-color="#1515ff"/><stop offset="0.7501" stop-color="#0e0eff"/><stop offset="0.7674" stop-color="#0d0dff"/><stop offset="0.776" stop-color="#1919ff"/><stop offset="0.7789" stop-color="#1818ff"/><stop offset="0.7846" stop-color="#0d0dff"/><stop offset="0.7904" stop-color="#1515ff"/><stop offset="0.8019" stop-color="#1515ff"/><stop offset="0.8048" stop-color="#0f0fff"/><stop offset="0.8076" stop-color="#0e0eff"/><stop offset="0.8134" stop-color="#1a1aff"/><stop offset="0.8335" stop-color="#0c0cff"/><stop offset="0.8507" stop-color="#0b0bff"/><stop offset="0.8622" stop-color="#1111ff"/><stop offset="0.8766" stop-color="#0a0aff"/><stop offset="0.8852" stop-color="#1111ff"/><stop offset="0.891" stop-color="#0b0bff"/><stop offset="0.8996" stop-color="#1010ff"/><stop offset="0.9168" stop-color="#0909ff"/><stop offset="0.9341" stop-color="#0c0cff"/><stop offset="0.9456" stop-color="#1313ff"/><stop offset="0.96" stop-color="#0a0aff"/><stop offset="0.9715" stop-color="#1010ff"/><stop offset="0.9801" stop-color="#0909ff"/><stop offset="0.9973" stop-color="#0909ff"/></linearGradient>
<linearGradient id="h19" gradientUnits="userSpaceOnUse" x1="869.5" x2="1391.4" y1="0" y2="0"><stop offset="0" stop-color="#0a0aff"/><stop offset="0.0172" stop-color="#1414ff"/><stop offset="0.023" stop-color="#0b0bff"/><stop offset="0.0287" stop-color="#1313ff"/><stop offset="0.0402" stop-color="#0b0bff"/><stop offset="0.0546" stop-color="#0a0aff"/><stop offset="0.0891" stop-color="#1515ff"/><stop offset="0.1035" stop-color="#0c0cff"/><stop offset="0.138" stop-color="#1717ff"/><stop offset="0.1466" stop-color="#0e0eff"/><stop offset="0.1552" stop-color="#1010ff"/><stop offset="0.161" stop-color="#1717ff"/><stop offset="0.1753" stop-color="#1010ff"/><stop offset="0.1926" stop-color="#1111ff"/><stop offset="0.1983" stop-color="#1616ff"/><stop offset="0.2069" stop-color="#1111ff"/><stop offset="0.2213" stop-color="#1717ff"/><stop offset="0.2386" stop-color="#1515ff"/><stop offset="0.2472" stop-color="#1c1cff"/><stop offset="0.2558" stop-color="#1818ff"/><stop offset="0.2759" stop-color="#1b1bff"/><stop offset="0.3104" stop-color="#2727ff"/><stop offset="0.3219" stop-color="#2f2fff"/><stop offset="0.3305" stop-color="#3c3cff"/><stop offset="0.3478" stop-color="#4e4eff"/><stop offset="0.3593" stop-color="#6565ff"/><stop offset="0.3765" stop-color="#9999ff"/><stop offset="0.388" stop-color="#c6c6ff"/><stop offset="0.3995" stop-color="#fafaff"/><stop offset="0.4024" stop-color="#fff7f7"/><stop offset="0.4196" stop-color="#ffb0b0"/><stop offset="0.4254" stop-color="#ff9c9c"/><stop offset="0.4282" stop-color="#ff9898"/><stop offset="0.4311" stop-color="#ff9d9d"/><stop offset="0.4455" stop-color="#ff9999"/><stop offset="0.4512" stop-color="#ff8787"/><stop offset="0.457" stop-color="#ff9898"/><stop offset="0.4627" stop-color="#ff9797"/><stop offset="0.4685" stop-color="#ff9191"/><stop offset="0.4771" stop-color="#ff7676"/><stop offset="0.48" stop-color="#ff7575"/><stop offset="0.4886" stop-color="#ff7979"/><stop offset="0.503" stop-color="#ff9797"/><stop offset="0.5116" stop-color="#ffb0b0"/><stop offset="0.526" stop-color="#fffafa"/><stop offset="0.5288" stop-color="#f6f6ff"/><stop offset="0.5403" stop-color="#bfbfff"/><stop offset="0.549" stop-color="#a7a7ff"/><stop offset="0.5633" stop-color="#7575ff"/><stop offset="0.5719" stop-color="#5c5cff"/><stop offset="0.5834" stop-color="#5151ff"/><stop offset="0.5949" stop-color="#3939ff"/><stop offset="0.6036" stop-color="#2f2fff"/><stop offset="0.6093" stop-color="#2b2bff"/><stop offset="0.6208" stop-color="#2e2eff"/><stop offset="0.6294" stop-color="#2222ff"/><stop offset="0.6553" stop-color="#2222ff"/><stop offset="0.6697" stop-color="#1919ff"/><stop offset="0.7099" stop-color="#1212ff"/><stop offset="0.7185" stop-color="#1717ff"/><stop offset="0.73" stop-color="#2424ff"/><stop offset="0.7415" stop-color="#1212ff"/><stop offset="0.753" stop-color="#1717ff"/><stop offset="0.7588" stop-color="#1010ff"/><stop offset="0.7645" stop-color="#1414ff"/><stop offset="0.7846" stop-color="#0e0eff"/><stop offset="0.8134" stop-color="#1313ff"/><stop offset="0.8191" stop-color="#0e0eff"/><stop offset="0.8277" stop-color="#0d0dff"/><stop offset="0.8392" stop-color="#1919ff"/><stop offset="0.868" stop-color="#0b0bff"/><stop offset="0.8737" stop-color="#0f0fff"/><stop offset="0.8766" stop-color="#0b0bff"/><stop offset="0.8852" stop-color="#1616ff"/><stop offset="0.8996" stop-color="#0f0fff"/><stop offset="0.9111" stop-color="#1111ff"/><stop offset="0.9197" stop-color="#0a0aff"/><stop offset="0.9255" stop-color="#0c0cff"/><stop offset="0.9341" stop-color="#1616ff"/><stop offset="0.9456" stop-color="#1313ff"/><stop offset="0.9571" stop-color="#0a0aff"/><stop offset="0.9715" stop-color="#1515ff"/><stop offset="0.9801" stop-color="#0a0aff"/><stop offset="0.9829" stop-color="#0e0eff"/><stop offset="0.9887" stop-color="#0909ff"/><stop offset="0.9973" stop-color="#0f0fff"/></linearGradient>
<linearGradient id="h20" gradientUnits="userSpaceOnUse" x1="869.5" x2="1391.4" y1="0" y2="0"><stop offset="0" stop-color="#0e0eff"/><stop offset="0.0172" stop-color="#1313ff"/><stop offset="0.0316" stop-color="#0c0cff"/><stop offset="0.0575" stop-color="#0e0eff"/><stop offset="0.0661" stop-color="#1515ff"/><stop offset="0.0776" stop-color="#0e0eff"/><stop offset="0.1006" stop-color="#1919ff"/><stop offset="0.1265" stop-color="#1717ff"/><stop offset="0.138" stop-color="#1c1cff"/><stop offset="0.1495" stop-color="#1414ff"/><stop offset="0.1753" stop-color="#1919ff"/><stop offset="0.1983" stop-color="#1717ff"/><stop offset="0.2098" stop-color="#2222ff"/><stop offset="0.2184" stop-color="#1b1bff"/><stop offset="0.2242" stop-color="#1c1cff"/><stop offset="0.2328" stop-color="#2b2bff"/><stop offset="0.2357" stop-color="#2b2bff"/><stop offset="0.2414" stop-color="#2020ff"/><stop offset="0.2472" stop-color="#2e2eff"/><stop offset="0.2529" stop-color="#2525ff"/><stop offset="0.2587" stop-color="#2f2fff"/><stop offset="0.2702" stop-color="#2e2eff"/><stop offset="0.2989" stop-color="#4b4bff"/><stop offset="0.3133" stop-color="#6363ff"/><stop offset="0.3391" stop-color="#a3a3ff"/><stop offset="0.3449" stop-color="#b9b9ff"/><stop offset="0.3535" stop-color="#ceceff"/><stop offset="0.3679" stop-color="#fbfbff"/><stop offset="0.3708" stop-color="#fffafa"/><stop offset="0.3794" stop-color="#ffe5e5"/><stop offset="0.3851" stop-color="#ffebeb"/><stop offset="0.3966" stop-color="#ffecec"/><stop offset="0.411" stop-color="#fefeff"/><stop offset="0.4311" stop-color="#d4d4ff"/><stop offset="0.4397" stop-color="#c7c7ff"/><stop offset="0.4656" stop-color="#b8b8ff"/><stop offset="0.4714" stop-color="#bbbbff"/><stop offset="0.48" stop-color="#c6c6ff"/><stop offset="0.5001" stop-color="#fbfbff"/><stop offset="0.503" stop-color="#fffcfc"/><stop offset="0.5116" stop-color="#ffe7e7"/><stop offset="0.5231" stop-color="#ffc2c2"/><stop offset="0.526" stop-color="#ffc1c1"/><stop offset="0.5346" stop-color="#ffd0d0"/><stop offset="0.549" stop-color="#ffdbdb"/><stop offset="0.5633" stop-color="#fefeff"/><stop offset="0.5777" stop-color="#ceceff"/><stop offset="0.5949" stop-color="#a3a3ff"/><stop offset="0.6064" stop-color="#7a7aff"/><stop offset="0.6151" stop-color="#6666ff"/><stop offset="0.6323" stop-color="#4949ff"/><stop offset="0.661" stop-color="#2d2dff"/><stop offset="0.6812" stop-color="#2f2fff"/><stop offset="0.7013" stop-color="#1e1eff"/><stop offset="0.7157" stop-color="#1a1aff"/><stop offset="0.73" stop-color="#2424ff"/><stop offset="0.7415" stop-color="#1616ff"/><stop offset="0.753" stop-color="#1a1aff"/><stop offset="0.7588" stop-color="#1414ff"/><stop offset="0.7645" stop-color="#1919ff"/><stop offset="0.776" stop-color="#1a1aff"/><stop offset="0.7875" stop-color="#1111ff"/><stop offset="0.8019" stop-color="#1b1bff"/><stop offset="0.8191" stop-color="#1010ff"/><stop offset="0.8306" stop-color="#0f0fff"/><stop offset="0.8507" stop-color="#1111ff"/><stop offset="0.8737" stop-color="#0d0dff"/><stop offset="0.8967" stop-color="#1313ff"/><stop offset="0.9226" stop-color="#0c0cff"/><stop offset="0.9341" stop-color="#1313ff"/><stop offset="0.9398" stop-color="#0b0bff"/><stop offset="0.9485" stop-color="#1414ff"/><stop offset="0.9657" stop-color="#0b0bff"/><stop offset="0.9743" stop-color="#0b0bff"/><stop offset="0.9944" stop-color="#1919ff"/><stop offset="0.9973" stop-color="#1616ff"/></linearGradient>
<linearGradient id="h21" gradientUnits="userSpaceOnUse" x1="869.5" x2="1391.4" y1="0" y2="0"><stop offset="0" stop-color="#1111ff"/><stop offset="0.0172" stop-color="#1010ff"/><stop offset="0.023" stop-color="#0c0cff"/><stop offset="0.0287" stop-color="#1111ff"/><stop offset="0.0345" stop-color="#0e0eff"/><stop offset="0.0402" stop-color="#1616ff"/><stop offset="0.0517" stop-color="#0e0eff"/><stop offset="0.092" stop-color="#1010ff"/><stop offset="0.1006" stop-color="#1818ff"/><stop offset="0.1092" stop-color="#1010ff"/><stop offset="0.1236" stop-color="#1818ff"/><stop offset="0.1351" stop-color="#1212ff"/><stop offset="0.1724" stop-color="#1717ff"/><stop offset="0.1983" stop-color="#1c1cff"/><stop offset="0.2098" stop-color="#2929ff"/><stop offset="0.2213" stop-color="#2f2fff"/><stop offset="0.2271" stop-color="#2929ff"/><stop offset="0.2357" stop-color="#3838ff"/><stop offset="0.2414" stop-color="#3131ff"/><stop offset="0.2472" stop-color="#3b3bff"/><stop offset="0.2615" stop-color="#4646ff"/><stop offset="0.2817" stop-color="#6868ff"/><stop offset="0.296" stop-color="#8989ff"/><stop offset="0.3075" stop-color="#b6b6ff"/><stop offset="0.3162" stop-color="#c4c4ff"/><stop offset="0.3363" stop-color="#f9f9ff"/><stop offset="0.3391" stop-color="#fefeff"/><stop offset="0.342" stop-color="#fffbfb"/><stop offset="0.3593" stop-color="#fff0f0"/><stop offset="0.3765" stop-color="#fefeff"/><stop offset="0.3909" stop-color="#dadaff"/><stop offset="0.3995" stop-color="#adadff"/><stop offset="0.4167" stop-color="#8585ff"/><stop offset="0.4369" stop-color="#6666ff"/><stop offset="0.4512" stop-color="#6262ff"/><stop offset="0.4541" stop-color="#5d5dff"/><stop offset="0.4627" stop-color="#6161ff"/><stop offset="0.4714" stop-color="#5f5fff"/><stop offset="0.4771" stop-color="#6969ff"/><stop offset="0.4972" stop-color="#8080ff"/><stop offset="0.5145" stop-color="#a9a9ff"/><stop offset="0.5231" stop-color="#d1d1ff"/><stop offset="0.526" stop-color="#d9d9ff"/><stop offset="0.5346" stop-color="#e6e6ff"/><stop offset="0.5432" stop-color="#fffefe"/><stop offset="0.5518" stop-color="#ffe9e9"/><stop offset="0.5633" stop-color="#ffd3d3"/><stop offset="0.5719" stop-color="#ffcaca"/><stop offset="0.5834" stop-color="#ffdddd"/><stop offset="0.5921" stop-color="#fffbfb"/><stop offset="0.5949" stop-color="#fbfbff"/><stop offset="0.5978" stop-color="#f2f2ff"/><stop offset="0.6294" stop-color="#8d8dff"/><stop offset="0.6467" stop-color="#6464ff"/><stop offset="0.6582" stop-color="#5353ff"/><stop offset="0.6639" stop-color="#4646ff"/><stop offset="0.6697" stop-color="#4545ff"/><stop offset="0.684" stop-color="#3131ff"/><stop offset="0.6927" stop-color="#3333ff"/><stop offset="0.7157" stop-color="#2121ff"/><stop offset="0.73" stop-color="#2424ff"/><stop offset="0.7415" stop-color="#1a1aff"/><stop offset="0.7703" stop-color="#1515ff"/><stop offset="0.7904" stop-color="#1d1dff"/><stop offset="0.799" stop-color="#1313ff"/><stop offset="0.8019" stop-color="#1616ff"/><stop offset="0.8277" stop-color="#1111ff"/><stop offset="0.8392" stop-color="#1919ff"/><stop offset="0.8622" stop-color="#0e0eff"/><stop offset="0.8737" stop-color="#1111ff"/><stop offset="0.8795" stop-color="#0d0dff"/><stop offset="0.8852" stop-color="#1111ff"/><stop offset="0.8967" stop-color="#0d0dff"/><stop offset="0.9111" stop-color="#1313ff"/><stop offset="0.9341" stop-color="#0d0dff"/><stop offset="0.9456" stop-color="#1818ff"/><stop offset="0.96" stop-color="#1212ff"/><stop offset="0.9973" stop-color="#1313ff"/></linearGradient>
<linearGradient id="h22" gradientUnits="userSpaceOnUse" x1="869.5" x2="1391.4" y1="0" y2="0"><stop offset="0" stop-color="#1010ff"/><stop offset="0.0201" stop-color="#0f0fff"/><stop offset="0.0287" stop-color="#1c1cff"/><stop offset="0.0402" stop-color="#0e0eff"/><stop offset="0.0517" stop-color="#1515ff"/><stop offset="0.0604" stop-color="#0f0fff"/><stop offset="0.0661" stop-color="#1515ff"/><stop offset="0.0719" stop-color="#1010ff"/><stop offset="0.1006" stop-color="#1212ff"/><stop offset="0.1121" stop-color="#1d1dff"/><stop offset="0.1265" stop-color="#1616ff"/><stop offset="0.138" stop-color="#1d1dff"/><stop offset="0.1437" stop-color="#1818ff"/><stop offset="0.1495" stop-color="#1e1eff"/><stop offset="0.1581" stop-color="#1a1aff"/><stop offset="0.1724" stop-color="#2323ff"/><stop offset="0.1811" stop-color="#2222ff"/><stop offset="0.1868" stop-color="#2a2aff"/><stop offset="0.1954" stop-color="#2727ff"/><stop offset="0.2242" stop-color="#4040ff"/><stop offset="0.2386" stop-color="#5555ff"/><stop offset="0.25" stop-color="#6c6cff"/><stop offset="0.2644" stop-color="#8e8eff"/><stop offset="0.2702" stop-color="#a8a8ff"/><stop offset="0.2817" stop-color="#c3c3ff"/><stop offset="0.2932" stop-color="#f0f0ff"/><stop offset="0.3018" stop-color="#ffffff"/><stop offset="0.3305" stop-color="#fff8f8"/><stop offset="0.3334" stop-color="#ffffff"/><stop offset="0.3564" stop-color="#bcbcff"/><stop offset="0.3679" stop-color="#a3a3ff"/><stop offset="0.3851" stop-color="#7373ff"/><stop offset="0.3909" stop-color="#7272ff"/><stop offset="0.4024" stop-color="#5d5dff"/><stop offset="0.4081" stop-color="#4d4dff"/><stop offset="0.4167" stop-color="#4b4bff"/><stop offset="0.4254" stop-color="#3d3dff"/><stop offset="0.4397" stop-color="#3838ff"/><stop offset="0.4512" stop-color="#3b3bff"/><stop offset="0.457" stop-color="#3434ff"/><stop offset="0.4742" stop-color="#3c3cff"/><stop offset="0.4857" stop-color="#3838ff"/><stop offset="0.4943" stop-color="#3e3eff"/><stop offset="0.5116" stop-color="#5050ff"/><stop offset="0.5288" stop-color="#6868ff"/><stop offset="0.5375" stop-color="#8383ff"/><stop offset="0.5432" stop-color="#8888ff"/><stop offset="0.5547" stop-color="#a9a9ff"/><stop offset="0.5605" stop-color="#c3c3ff"/><stop offset="0.5719" stop-color="#e4e4ff"/><stop offset="0.5834" stop-color="#fffdfd"/><stop offset="0.5978" stop-color="#ffd3d3"/><stop offset="0.6064" stop-color="#ffcbcb"/><stop offset="0.6151" stop-color="#ffd7d7"/><stop offset="0.6266" stop-color="#fff6f6"/><stop offset="0.6294" stop-color="#ffffff"/><stop offset="0.6438" stop-color="#d9d9ff"/><stop offset="0.6524" stop-color="#b6b6ff"/><stop offset="0.6639" stop-color="#9393ff"/><stop offset="0.6812" stop-color="#7474ff"/><stop offset="0.6869" stop-color="#5d5dff"/><stop offset="0.7042" stop-color="#4949ff"/><stop offset="0.7128" stop-color="#3838ff"/><stop offset="0.7243" stop-color="#2f2fff"/><stop offset="0.7559" stop-color="#1e1eff"/><stop offset="0.7789" stop-color="#1919ff"/><stop offset="0.7904" stop-color="#1c1cff"/><stop offset="0.8162" stop-color="#1414ff"/><stop offset="0.8622" stop-color="#1313ff"/><stop offset="0.8852" stop-color="#0e0eff"/><stop offset="0.8967" stop-color="#1515ff"/><stop offset="0.9053" stop-color="#0e0eff"/><stop offset="0.9168" stop-color="#0e0eff"/><stop offset="0.9226" stop-color="#1313ff"/><stop offset="0.9628" stop-color="#0b0bff"/><stop offset="0.9715" stop-color="#1111ff"/><stop offset="0.9858" stop-color="#0b0bff"/><stop offset="0.9973" stop-color="#1010ff"/></linearGradient>
<linearGradient id="h23" gradientUnits="userSpaceOnUse" x1="869.5" x2="1391.4" y1="0" y2="0"><stop offset="0" stop-color="#1515ff"/><stop offset="0.0115" stop-color="#0e0eff"/><stop offset="0.0172" stop-color="#1414ff"/><stop offset="0.0431" stop-color="#1111ff"/><stop offset="0.0661" stop-color="#1616ff"/><stop offset="0.0805" stop-color="#1414ff"/><stop offset="0.0891" stop-color="#1b1bff"/><stop offset="0.0977" stop-color="#1515ff"/><stop offset="0.1121" stop-color="#1d1dff"/><stop offset="0.1178" stop-color="#1a1aff"/><stop offset="0.1265" stop-color="#2323ff"/><stop offset="0.1495" stop-color="#2323ff"/><stop offset="0.161" stop-color="#2e2eff"/><stop offset="0.1782" stop-color="#3737ff"/><stop offset="0.2127" stop-color="#6e6eff"/><stop offset="0.2271" stop-color="#9292ff"/><stop offset="0.2558" stop-color="#e6e6ff"/><stop offset="0.2673" stop-color="#ffffff"/><stop offset="0.273" stop-color="#fff0f0"/><stop offset="0.2817" stop-color="#ffe8e8"/><stop offset="0.2932" stop-color="#fffefe"/><stop offset="0.296" stop-color="#fbfbff"/><stop offset="0.3104" stop-color="#d6d6ff"/><stop offset="0.319" stop-color="#cacaff"/><stop offset="0.3305" stop-color="#a6a6ff"/><stop offset="0.3391" stop-color="#8686ff"/><stop offset="0.3535" stop-color="#6868ff"/><stop offset="0.3679" stop-color="#5454ff"/><stop offset="0.3765" stop-color="#4242ff"/><stop offset="0.4024" stop-color="#2e2eff"/><stop offset="0.4167" stop-color="#3636ff"/><stop offset="0.4282" stop-color="#2626ff"/><stop offset="0.4656" stop-color="#2323ff"/><stop offset="0.4771" stop-color="#2a2aff"/><stop offset="0.4857" stop-color="#2525ff"/><stop offset="0.4943" stop-color="#2727ff"/><stop offset="0.5001" stop-color="#2929ff"/><stop offset="0.5116" stop-color="#3b3bff"/><stop offset="0.5231" stop-color="#3434ff"/><stop offset="0.5518" stop-color="#4f4fff"/><stop offset="0.5806" stop-color="#8a8aff"/><stop offset="0.5949" stop-color="#bcbcff"/><stop offset="0.6007" stop-color="#c7c7ff"/><stop offset="0.6179" stop-color="#fdfdff"/><stop offset="0.6294" stop-color="#ffe6e6"/><stop offset="0.6409" stop-color="#ffdada"/><stop offset="0.6438" stop-color="#ffd2d2"/><stop offset="0.6467" stop-color="#ffd4d4"/><stop offset="0.6639" stop-color="#fffcfc"/><stop offset="0.6668" stop-color="#fefeff"/><stop offset="0.6697" stop-color="#f9f9ff"/><stop offset="0.6812" stop-color="#dedeff"/><stop offset="0.707" stop-color="#7e7eff"/><stop offset="0.7157" stop-color="#7070ff"/><stop offset="0.7243" stop-color="#5a5aff"/><stop offset="0.73" stop-color="#5c5cff"/><stop offset="0.7386" stop-color="#4343ff"/><stop offset="0.753" stop-color="#3838ff"/><stop offset="0.7616" stop-color="#2c2cff"/><stop offset="0.7789" stop-color="#2222ff"/><stop offset="0.7904" stop-color="#2828ff"/><stop offset="0.7961" stop-color="#1d1dff"/><stop offset="0.8019" stop-color="#2424ff"/><stop offset="0.8277" stop-color="#1616ff"/><stop offset="0.8364" stop-color="#1b1bff"/><stop offset="0.8421" stop-color="#1515ff"/><stop offset="0.8507" stop-color="#2020ff"/><stop offset="0.8565" stop-color="#1515ff"/><stop offset="0.8622" stop-color="#1a1aff"/><stop offset="0.8709" stop-color="#1111ff"/><stop offset="0.8795" stop-color="#1111ff"/><stop offset="0.8996" stop-color="#1e1eff"/><stop offset="0.9111" stop-color="#1212ff"/><stop offset="0.9341" stop-color="#1616ff"/><stop offset="0.9427" stop-color="#0e0eff"/><stop offset="0.9542" stop-color="#0d0dff"/><stop offset="0.9973" stop-color="#0d0dff"/></linearGradient>
<linearGradient id="h24" gradientUnits="userSpaceOnUse" x1="869.5" x2="1391.4" y1="0" y2="0"><stop offset="0" stop-color="#1111ff"/><stop offset="0.0057" stop-color="#1010ff"/><stop offset="0.0172" stop-color="#1717ff"/><stop offset="0.023" stop-color="#1010ff"/><stop offset="0.0287" stop-color="#1717ff"/><stop offset="0.0402" stop-color="#1b1bff"/><stop offset="0.0489" stop-color="#1313ff"/><stop offset="0.1063" stop-color="#1a1aff"/><stop offset="0.1638" stop-color="#3838ff"/><stop offset="0.1868" stop-color="#5e5eff"/><stop offset="0.1983" stop-color="#7e7eff"/><stop offset="0.2098" stop-color="#8d8dff"/><stop offset="0.2242" stop-color="#bfbfff"/><stop offset="0.25" stop-color="#ffffff"/><stop offset="0.2529" stop-color="#fffafa"/><stop offset="0.2587" stop-color="#ffeeee"/><stop offset="0.2673" stop-color="#ffebeb"/><stop offset="0.2759" stop-color="#fff0f0"/><stop offset="0.2845" stop-color="#ffffff"/><stop offset="0.2932" stop-color="#e7e7ff"/><stop offset="0.3104" stop-color="#aeaeff"/><stop offset="0.3391" stop-color="#6666ff"/><stop offset="0.3564" stop-color="#4e4eff"/><stop offset="0.3794" stop-color="#3434ff"/><stop offset="0.4024" stop-color="#3030ff"/><stop offset="0.4196" stop-color="#2222ff"/><stop offset="0.4397" stop-color="#2727ff"/><stop offset="0.4512" stop-color="#1f1fff"/><stop offset="0.4627" stop-color="#2222ff"/><stop offset="0.4714" stop-color="#1f1fff"/><stop offset="0.4886" stop-color="#2929ff"/><stop offset="0.4943" stop-color="#2222ff"/><stop offset="0.5001" stop-color="#2626ff"/><stop offset="0.5231" stop-color="#2828ff"/><stop offset="0.5346" stop-color="#3232ff"/><stop offset="0.5432" stop-color="#3232ff"/><stop offset="0.549" stop-color="#3c3cff"/><stop offset="0.5547" stop-color="#3b3bff"/><stop offset="0.5921" stop-color="#7777ff"/><stop offset="0.6064" stop-color="#a8a8ff"/><stop offset="0.6151" stop-color="#b7b7ff"/><stop offset="0.6381" stop-color="#ffffff"/><stop offset="0.6495" stop-color="#ffe7e7"/><stop offset="0.6582" stop-color="#ffe0e0"/><stop offset="0.6668" stop-color="#ffe3e3"/><stop offset="0.6812" stop-color="#fffafa"/><stop offset="0.684" stop-color="#f8f8ff"/><stop offset="0.6984" stop-color="#cdcdff"/><stop offset="0.7042" stop-color="#cacaff"/><stop offset="0.7185" stop-color="#9090ff"/><stop offset="0.73" stop-color="#7777ff"/><stop offset="0.7386" stop-color="#5e5eff"/><stop offset="0.7473" stop-color="#5050ff"/><stop offset="0.7645" stop-color="#4343ff"/><stop offset="0.7731" stop-color="#3131ff"/><stop offset="0.7875" stop-color="#2626ff"/><stop offset="0.8019" stop-color="#2626ff"/><stop offset="0.8162" stop-color="#1c1cff"/><stop offset="0.8277" stop-color="#1d1dff"/><stop offset="0.8421" stop-color="#1717ff"/><stop offset="0.8881" stop-color="#1111ff"/><stop offset="0.8996" stop-color="#1c1cff"/><stop offset="0.9111" stop-color="#1010ff"/><stop offset="0.9226" stop-color="#1515ff"/><stop offset="0.9341" stop-color="#1414ff"/><stop offset="0.9427" stop-color="#0e0eff"/><stop offset="0.9801" stop-color="#0c0cff"/><stop offset="0.9973" stop-color="#1111ff"/></linearGradient>
<linearGradient id="h25" gradientUnits="userSpaceOnUse" x1="869.5" x2="1391.4" y1="0" y2="0"><stop offset="0" stop-color="#0e0eff"/><stop offset="0.0057" stop-color="#1313ff"/><stop offset="0.0115" stop-color="#1010ff"/><stop offset="0.0172" stop-color="#1717ff"/><stop offset="0.0402" stop-color="#1414ff"/><stop offset="0.0546" stop-color="#1a1aff"/><stop offset="0.0661" stop-color="#1111ff"/><stop offset="0.0776" stop-color="#1d1dff"/><stop offset="0.0833" stop-color="#1414ff"/><stop offset="0.0891" stop-color="#1c1cff"/><stop offset="0.0948" stop-color="#1414ff"/><stop offset="0.1035" stop-color="#1e1eff"/><stop offset="0.1265" stop-color="#1b1bff"/><stop offset="0.1523" stop-color="#2020ff"/><stop offset="0.1724" stop-color="#3232ff"/><stop offset="0.1868" stop-color="#4545ff"/><stop offset="0.1926" stop-color="#3f3fff"/><stop offset="0.1983" stop-color="#4a4aff"/><stop offset="0.2041" stop-color="#4d4dff"/><stop offset="0.2098" stop-color="#5e5eff"/><stop offset="0.2328" stop-color="#8989ff"/><stop offset="0.25" stop-color="#babaff"/><stop offset="0.2587" stop-color="#ededff"/><stop offset="0.2702" stop-color="#ffffff"/><stop offset="0.2759" stop-color="#fbfbff"/><stop offset="0.2788" stop-color="#ffffff"/><stop offset="0.2874" stop-color="#fff9f9"/><stop offset="0.2932" stop-color="#ffeded"/><stop offset="0.296" stop-color="#ffecec"/><stop offset="0.3047" stop-color="#fcfcff"/><stop offset="0.3133" stop-color="#e6e6ff"/><stop offset="0.3305" stop-color="#e7e7ff"/><stop offset="0.3478" stop-color="#b6b6ff"/><stop offset="0.3708" stop-color="#5656ff"/><stop offset="0.3736" stop-color="#4f4fff"/><stop offset="0.4024" stop-color="#3a3aff"/><stop offset="0.411" stop-color="#2d2dff"/><stop offset="0.457" stop-color="#2323ff"/><stop offset="0.4656" stop-color="#2727ff"/><stop offset="0.4915" stop-color="#2626ff"/><stop offset="0.5001" stop-color="#3131ff"/><stop offset="0.5116" stop-color="#2e2eff"/><stop offset="0.5317" stop-color="#3636ff"/><stop offset="0.549" stop-color="#4848ff"/><stop offset="0.5633" stop-color="#5d5dff"/><stop offset="0.5662" stop-color="#6464ff"/><stop offset="0.5834" stop-color="#b5b5ff"/><stop offset="0.5921" stop-color="#d0d0ff"/><stop offset="0.5978" stop-color="#dcdcff"/><stop offset="0.6122" stop-color="#e4e4ff"/><stop offset="0.6208" stop-color="#f9f9ff"/><stop offset="0.6237" stop-color="#fffcfc"/><stop offset="0.6323" stop-color="#ffe2e2"/><stop offset="0.6438" stop-color="#ffd1d1"/><stop offset="0.6553" stop-color="#ffd9d9"/><stop offset="0.6639" stop-color="#fff4f4"/><stop offset="0.6668" stop-color="#ffffff"/><stop offset="0.6898" stop-color="#b5b5ff"/><stop offset="0.7157" stop-color="#6e6eff"/><stop offset="0.7358" stop-color="#4848ff"/><stop offset="0.7501" stop-color="#3737ff"/><stop offset="0.7559" stop-color="#3333ff"/><stop offset="0.7645" stop-color="#3636ff"/><stop offset="0.7731" stop-color="#2828ff"/><stop offset="0.7789" stop-color="#2e2eff"/><stop offset="0.7904" stop-color="#1f1fff"/><stop offset="0.822" stop-color="#1717ff"/><stop offset="0.8507" stop-color="#1818ff"/><stop offset="0.8622" stop-color="#1212ff"/><stop offset="0.8881" stop-color="#1414ff"/><stop offset="0.9255" stop-color="#0e0eff"/><stop offset="0.9341" stop-color="#1414ff"/><stop offset="0.9398" stop-color="#0e0eff"/><stop offset="0.9456" stop-color="#1111ff"/><stop offset="0.9542" stop-color="#0e0eff"/><stop offset="0.9686" stop-color="#1515ff"/><stop offset="0.9772" stop-color="#0d0dff"/><stop offset="0.9829" stop-color="#1111ff"/><stop offset="0.9973" stop-color="#0c0cff"/></linearGradient>
<linearGradient id="h26" gradientUnits="userSpaceOnUse" x1="869.5" x2="1391.4" y1="0" y2="0"><stop offset="0" stop-color="#0d0dff"/><stop offset="0.0172" stop-color="#1212ff"/><stop offset="0.0374" stop-color="#0c0cff"/><stop offset="0.0517" stop-color="#1010ff"/><stop offset="0.0661" stop-color="#0e0eff"/><stop offset="0.0776" stop-color="#1c1cff"/><stop offset="0.0891" stop-color="#1717ff"/><stop offset="0.0948" stop-color="#0f0fff"/><stop offset="0.1035" stop-color="#1515ff"/><stop offset="0.1265" stop-color="#1717ff"/><stop offset="0.1351" stop-color="#1111ff"/><stop offset="0.1466" stop-color="#1111ff"/><stop offset="0.161" stop-color="#1a1aff"/><stop offset="0.1753" stop-color="#1515ff"/><stop offset="0.1983" stop-color="#1c1cff"/><stop offset="0.2127" stop-color="#1919ff"/><stop offset="0.2213" stop-color="#1f1fff"/><stop offset="0.2271" stop-color="#1c1cff"/><stop offset="0.2357" stop-color="#2323ff"/><stop offset="0.2472" stop-color="#2424ff"/><stop offset="0.2587" stop-color="#2e2eff"/><stop offset="0.273" stop-color="#2f2fff"/><stop offset="0.2817" stop-color="#3f3fff"/><stop offset="0.2989" stop-color="#4b4bff"/><stop offset="0.3219" stop-color="#7676ff"/><stop offset="0.3305" stop-color="#9696ff"/><stop offset="0.342" stop-color="#ababff"/><stop offset="0.3593" stop-color="#e1e1ff"/><stop offset="0.365" stop-color="#fbfbff"/><stop offset="0.3679" stop-color="#fff9f9"/><stop offset="0.3823" stop-color="#ffe6e6"/><stop offset="0.3909" stop-color="#ffe0e0"/><stop offset="0.4024" stop-color="#ffe2e2"/><stop offset="0.4139" stop-color="#fffbfb"/><stop offset="0.4167" stop-color="#fcfcff"/><stop offset="0.4484" stop-color="#a6a6ff"/><stop offset="0.4627" stop-color="#8888ff"/><stop offset="0.4771" stop-color="#8484ff"/><stop offset="0.4857" stop-color="#7777ff"/><stop offset="0.4943" stop-color="#7171ff"/><stop offset="0.5001" stop-color="#6f6fff"/><stop offset="0.5231" stop-color="#8585ff"/><stop offset="0.549" stop-color="#b9b9ff"/><stop offset="0.5691" stop-color="#dcdcff"/><stop offset="0.5748" stop-color="#e0e0ff"/><stop offset="0.5834" stop-color="#d8d8ff"/><stop offset="0.5978" stop-color="#bfbfff"/><stop offset="0.6237" stop-color="#8686ff"/><stop offset="0.6323" stop-color="#8484ff"/><stop offset="0.6381" stop-color="#6a6aff"/><stop offset="0.6467" stop-color="#5e5eff"/><stop offset="0.6582" stop-color="#4646ff"/><stop offset="0.6754" stop-color="#3434ff"/><stop offset="0.6955" stop-color="#2525ff"/><stop offset="0.7042" stop-color="#2828ff"/><stop offset="0.7099" stop-color="#2020ff"/><stop offset="0.7185" stop-color="#2121ff"/><stop offset="0.7243" stop-color="#1b1bff"/><stop offset="0.73" stop-color="#1f1fff"/><stop offset="0.7386" stop-color="#1818ff"/><stop offset="0.7559" stop-color="#1616ff"/><stop offset="0.7674" stop-color="#1f1fff"/><stop offset="0.799" stop-color="#1111ff"/><stop offset="0.8249" stop-color="#0f0fff"/><stop offset="0.8392" stop-color="#1919ff"/><stop offset="0.8536" stop-color="#0d0dff"/><stop offset="0.8622" stop-color="#1111ff"/><stop offset="0.891" stop-color="#0d0dff"/><stop offset="0.9341" stop-color="#1818ff"/><stop offset="0.9398" stop-color="#0c0cff"/><stop offset="0.9456" stop-color="#1717ff"/><stop offset="0.9571" stop-color="#0b0bff"/><stop offset="0.9715" stop-color="#1515ff"/><stop offset="0.9973" stop-color="#0a0aff"/></linearGradient>
<linearGradient id="h27" gradientUnits="userSpaceOnUse" x1="869.5" x2="1391.4" y1="0" y2="0"><stop offset="0" stop-color="#0b0bff"/><stop offset="0.0172" stop-color="#1313ff"/><stop offset="0.0431" stop-color="#0b0bff"/><stop offset="0.0517" stop-color="#1414ff"/><stop offset="0.0575" stop-color="#0c0cff"/><stop offset="0.0661" stop-color="#1d1dff"/><stop offset="0.0833" stop-color="#0d0dff"/><stop offset="0.092" stop-color="#1313ff"/><stop offset="0.1667" stop-color="#1111ff"/><stop offset="0.1983" stop-color="#1a1aff"/><stop offset="0.2069" stop-color="#1616ff"/><stop offset="0.2271" stop-color="#1919ff"/><stop offset="0.2472" stop-color="#2525ff"/><stop offset="0.2587" stop-color="#2020ff"/><stop offset="0.2702" stop-color="#2d2dff"/><stop offset="0.2903" stop-color="#3030ff"/><stop offset="0.3075" stop-color="#4949ff"/><stop offset="0.3162" stop-color="#4c4cff"/><stop offset="0.3248" stop-color="#5959ff"/><stop offset="0.342" stop-color="#8888ff"/><stop offset="0.3506" stop-color="#9393ff"/><stop offset="0.3736" stop-color="#d8d8ff"/><stop offset="0.3823" stop-color="#f9f9ff"/><stop offset="0.3851" stop-color="#fff9f9"/><stop offset="0.3909" stop-color="#ffe4e4"/><stop offset="0.3966" stop-color="#ffe5e5"/><stop offset="0.411" stop-color="#ffdada"/><stop offset="0.4225" stop-color="#ffe1e1"/><stop offset="0.4282" stop-color="#ffe0e0"/><stop offset="0.4397" stop-color="#fff9f9"/><stop offset="0.4426" stop-color="#f8f8ff"/><stop offset="0.4484" stop-color="#e1e1ff"/><stop offset="0.4599" stop-color="#c5c5ff"/><stop offset="0.4771" stop-color="#aeaeff"/><stop offset="0.4857" stop-color="#9d9dff"/><stop offset="0.5087" stop-color="#9d9dff"/><stop offset="0.5231" stop-color="#b2b2ff"/><stop offset="0.5288" stop-color="#b1b1ff"/><stop offset="0.5403" stop-color="#bfbfff"/><stop offset="0.549" stop-color="#d2d2ff"/><stop offset="0.5576" stop-color="#c9c9ff"/><stop offset="0.5719" stop-color="#c3c3ff"/><stop offset="0.5949" stop-color="#9a9aff"/><stop offset="0.6036" stop-color="#8585ff"/><stop offset="0.6093" stop-color="#8383ff"/><stop offset="0.6208" stop-color="#6666ff"/><stop offset="0.6323" stop-color="#5c5cff"/><stop offset="0.6381" stop-color="#4949ff"/><stop offset="0.6467" stop-color="#4343ff"/><stop offset="0.6553" stop-color="#3434ff"/><stop offset="0.6697" stop-color="#3333ff"/><stop offset="0.6984" stop-color="#2020ff"/><stop offset="0.7185" stop-color="#1c1cff"/><stop offset="0.7415" stop-color="#2020ff"/><stop offset="0.7473" stop-color="#1414ff"/><stop offset="0.753" stop-color="#1c1cff"/><stop offset="0.7846" stop-color="#1111ff"/><stop offset="0.8076" stop-color="#0f0fff"/><stop offset="0.8277" stop-color="#0e0eff"/><stop offset="0.8479" stop-color="#1414ff"/><stop offset="0.8565" stop-color="#0d0dff"/><stop offset="0.8622" stop-color="#1111ff"/><stop offset="0.8852" stop-color="#0c0cff"/><stop offset="0.8967" stop-color="#1919ff"/><stop offset="0.8996" stop-color="#1919ff"/><stop offset="0.9082" stop-color="#0c0cff"/><stop offset="0.9513" stop-color="#0b0bff"/><stop offset="0.96" stop-color="#0f0fff"/><stop offset="0.9686" stop-color="#0a0aff"/><stop offset="0.9973" stop-color="#0a0aff"/></linearGradient>
<linearGradient id="h28" gradientUnits="userSpaceOnUse" x1="869.5" x2="1391.4" y1="0" y2="0"><stop offset="0" stop-color="#0a0aff"/><stop offset="0.0172" stop-color="#0f0fff"/><stop offset="0.0287" stop-color="#0b0bff"/><stop offset="0.0632" stop-color="#1515ff"/><stop offset="0.0747" stop-color="#0c0cff"/><stop offset="0.0776" stop-color="#0f0fff"/><stop offset="0.0977" stop-color="#0c0cff"/><stop offset="0.115" stop-color="#1313ff"/><stop offset="0.138" stop-color="#0e0eff"/><stop offset="0.1495" stop-color="#1515ff"/><stop offset="0.1581" stop-color="#0f0fff"/><stop offset="0.1724" stop-color="#1919ff"/><stop offset="0.1897" stop-color="#1010ff"/><stop offset="0.2213" stop-color="#1e1eff"/><stop offset="0.2328" stop-color="#1515ff"/><stop offset="0.2472" stop-color="#1e1eff"/><stop offset="0.2529" stop-color="#1818ff"/><stop offset="0.2587" stop-color="#1f1fff"/><stop offset="0.2702" stop-color="#2424ff"/><stop offset="0.3018" stop-color="#2727ff"/><stop offset="0.319" stop-color="#3333ff"/><stop offset="0.3305" stop-color="#4848ff"/><stop offset="0.342" stop-color="#5050ff"/><stop offset="0.3506" stop-color="#6262ff"/><stop offset="0.3593" stop-color="#7676ff"/><stop offset="0.3736" stop-color="#a1a1ff"/><stop offset="0.3995" stop-color="#fefeff"/><stop offset="0.4024" stop-color="#fff7f7"/><stop offset="0.4139" stop-color="#ffdada"/><stop offset="0.4254" stop-color="#ffd0d0"/><stop offset="0.4397" stop-color="#ffdada"/><stop offset="0.4426" stop-color="#ffe7e7"/><stop offset="0.4512" stop-color="#fffbfb"/><stop offset="0.4541" stop-color="#fbfbff"/><stop offset="0.4656" stop-color="#dedeff"/><stop offset="0.4886" stop-color="#c0c0ff"/><stop offset="0.5001" stop-color="#cacaff"/><stop offset="0.5116" stop-color="#c0c0ff"/><stop offset="0.5231" stop-color="#dadaff"/><stop offset="0.526" stop-color="#dadaff"/><stop offset="0.5346" stop-color="#ccccff"/><stop offset="0.5461" stop-color="#c7c7ff"/><stop offset="0.5547" stop-color="#bcbcff"/><stop offset="0.5777" stop-color="#8e8eff"/><stop offset="0.5863" stop-color="#8686ff"/><stop offset="0.6294" stop-color="#3838ff"/><stop offset="0.6725" stop-color="#1e1eff"/><stop offset="0.6812" stop-color="#2323ff"/><stop offset="0.7013" stop-color="#1717ff"/><stop offset="0.7214" stop-color="#1515ff"/><stop offset="0.73" stop-color="#1b1bff"/><stop offset="0.753" stop-color="#1818ff"/><stop offset="0.7616" stop-color="#1111ff"/><stop offset="0.7645" stop-color="#1313ff"/><stop offset="0.7703" stop-color="#0f0fff"/><stop offset="0.7789" stop-color="#1616ff"/><stop offset="0.799" stop-color="#0f0fff"/><stop offset="0.8249" stop-color="#1717ff"/><stop offset="0.8392" stop-color="#0c0cff"/><stop offset="0.8479" stop-color="#1010ff"/><stop offset="0.8536" stop-color="#0c0cff"/><stop offset="0.8622" stop-color="#1616ff"/><stop offset="0.8709" stop-color="#0c0cff"/><stop offset="0.8967" stop-color="#1010ff"/><stop offset="0.914" stop-color="#0a0aff"/><stop offset="0.9226" stop-color="#1313ff"/><stop offset="0.9341" stop-color="#1414ff"/><stop offset="0.9485" stop-color="#0a0aff"/><stop offset="0.9973" stop-color="#0b0bff"/></linearGradient>
<linearGradient id="h29" gradientUnits="userSpaceOnUse" x1="869.5" x2="1391.4" y1="0" y2="0"><stop offset="0" stop-color="#0c0cff"/><stop offset="0.0057" stop-color="#0f0fff"/><stop offset="0.0144" stop-color="#0a0aff"/><stop offset="0.0402" stop-color="#1515ff"/><stop offset="0.0546" stop-color="#0d0dff"/><stop offset="0.0776" stop-color="#1616ff"/><stop offset="0.0833" stop-color="#0b0bff"/><stop offset="0.0891" stop-color="#1717ff"/><stop offset="0.0948" stop-color="#0d0dff"/><stop offset="0.1006" stop-color="#1616ff"/><stop offset="0.1092" stop-color="#0e0eff"/><stop offset="0.115" stop-color="#1818ff"/><stop offset="0.1265" stop-color="#1f1fff"/><stop offset="0.138" stop-color="#0e0eff"/><stop offset="0.161" stop-color="#1212ff"/><stop offset="0.1667" stop-color="#0f0fff"/><stop offset="0.1753" stop-color="#1414ff"/><stop offset="0.1839" stop-color="#1010ff"/><stop offset="0.1983" stop-color="#1616ff"/><stop offset="0.2041" stop-color="#1313ff"/><stop offset="0.2098" stop-color="#1919ff"/><stop offset="0.2156" stop-color="#1313ff"/><stop offset="0.2213" stop-color="#1c1cff"/><stop offset="0.2357" stop-color="#1616ff"/><stop offset="0.2587" stop-color="#2222ff"/><stop offset="0.2644" stop-color="#1a1aff"/><stop offset="0.2702" stop-color="#2323ff"/><stop offset="0.2932" stop-color="#2323ff"/><stop offset="0.3133" stop-color="#2e2eff"/><stop offset="0.3363" stop-color="#4747ff"/><stop offset="0.3535" stop-color="#6969ff"/><stop offset="0.3765" stop-color="#ababff"/><stop offset="0.388" stop-color="#d4d4ff"/><stop offset="0.3966" stop-color="#f9f9ff"/><stop offset="0.3995" stop-color="#fff9f9"/><stop offset="0.4024" stop-color="#ffeded"/><stop offset="0.4196" stop-color="#ffc2c2"/><stop offset="0.4282" stop-color="#ffa3a3"/><stop offset="0.4311" stop-color="#ffa2a2"/><stop offset="0.4397" stop-color="#ffa7a7"/><stop offset="0.4541" stop-color="#ffe6e6"/><stop offset="0.4627" stop-color="#fffcfc"/><stop offset="0.4656" stop-color="#fcfcff"/><stop offset="0.4771" stop-color="#e4e4ff"/><stop offset="0.4886" stop-color="#dfdfff"/><stop offset="0.5001" stop-color="#d2d2ff"/><stop offset="0.5116" stop-color="#e7e7ff"/><stop offset="0.5231" stop-color="#d6d6ff"/><stop offset="0.5375" stop-color="#dbdbff"/><stop offset="0.549" stop-color="#cacaff"/><stop offset="0.5605" stop-color="#c5c5ff"/><stop offset="0.5719" stop-color="#9a9aff"/><stop offset="0.5892" stop-color="#7171ff"/><stop offset="0.6093" stop-color="#5050ff"/><stop offset="0.6208" stop-color="#4545ff"/><stop offset="0.6237" stop-color="#3d3dff"/><stop offset="0.6323" stop-color="#4a4aff"/><stop offset="0.6467" stop-color="#2929ff"/><stop offset="0.6668" stop-color="#1f1fff"/><stop offset="0.6927" stop-color="#1c1cff"/><stop offset="0.6955" stop-color="#1818ff"/><stop offset="0.7042" stop-color="#1f1fff"/><stop offset="0.7128" stop-color="#1616ff"/><stop offset="0.7185" stop-color="#1c1cff"/><stop offset="0.73" stop-color="#1313ff"/><stop offset="0.7415" stop-color="#1212ff"/><stop offset="0.753" stop-color="#1c1cff"/><stop offset="0.7674" stop-color="#1010ff"/><stop offset="0.7875" stop-color="#1313ff"/><stop offset="0.7961" stop-color="#0e0eff"/><stop offset="0.8019" stop-color="#1313ff"/><stop offset="0.8277" stop-color="#0d0dff"/><stop offset="0.8392" stop-color="#1313ff"/><stop offset="0.8479" stop-color="#0c0cff"/><stop offset="0.8737" stop-color="#1010ff"/><stop offset="0.8795" stop-color="#0c0cff"/><stop offset="0.8881" stop-color="#1212ff"/><stop offset="0.914" stop-color="#0b0bff"/><stop offset="0.9341" stop-color="#1616ff"/><stop offset="0.9398" stop-color="#0c0cff"/><stop offset="0.9456" stop-color="#1111ff"/><stop offset="0.9542" stop-color="#0a0aff"/><stop offset="0.96" stop-color="#0f0fff"/><stop offset="0.9801" stop-color="#0909ff"/><stop offset="0.9973" stop-color="#1111ff"/></linearGradient>
<linearGradient id="h30" gradientUnits="userSpaceOnUse" x1="869.5" x2="1391.4" y1="0" y2="0"><stop offset="0" stop-color="#0a0aff"/><stop offset="0.0172" stop-color="#1212ff"/><stop offset="0.0287" stop-color="#0a0aff"/><stop offset="0.0402" stop-color="#0e0eff"/><stop offset="0.0632" stop-color="#0b0bff"/><stop offset="0.0776" stop-color="#1313ff"/><stop offset="0.0891" stop-color="#0c0cff"/><stop offset="0.1035" stop-color="#0d0dff"/><stop offset="0.115" stop-color="#1616ff"/><stop offset="0.1236" stop-color="#0e0eff"/><stop offset="0.138" stop-color="#1b1bff"/><stop offset="0.161" stop-color="#1010ff"/><stop offset="0.1753" stop-color="#1616ff"/><stop offset="0.2328" stop-color="#1515ff"/><stop offset="0.2472" stop-color="#1f1fff"/><stop offset="0.2587" stop-color="#2e2eff"/><stop offset="0.2702" stop-color="#2323ff"/><stop offset="0.2874" stop-color="#2121ff"/><stop offset="0.3075" stop-color="#2828ff"/><stop offset="0.319" stop-color="#3434ff"/><stop offset="0.3305" stop-color="#3939ff"/><stop offset="0.3506" stop-color="#5b5bff"/><stop offset="0.3679" stop-color="#9b9bff"/><stop offset="0.3794" stop-color="#c0c0ff"/><stop offset="0.388" stop-color="#f7f7ff"/><stop offset="0.3909" stop-color="#fff3f3"/><stop offset="0.3995" stop-color="#ffe2e2"/><stop offset="0.4167" stop-color="#ff8989"/><stop offset="0.4225" stop-color="#ff8080"/><stop offset="0.4311" stop-color="#ff7e7e"/><stop offset="0.4397" stop-color="#ff8888"/><stop offset="0.4685" stop-color="#ffebeb"/><stop offset="0.4742" stop-color="#fffbfb"/><stop offset="0.4771" stop-color="#fcfcff"/><stop offset="0.4915" stop-color="#e6e6ff"/><stop offset="0.5001" stop-color="#eeeeff"/><stop offset="0.5116" stop-color="#e9e9ff"/><stop offset="0.5231" stop-color="#eeeeff"/><stop offset="0.526" stop-color="#eaeaff"/><stop offset="0.5547" stop-color="#bcbcff"/><stop offset="0.5662" stop-color="#a0a0ff"/><stop offset="0.5719" stop-color="#9a9aff"/><stop offset="0.5834" stop-color="#8181ff"/><stop offset="0.5978" stop-color="#5d5dff"/><stop offset="0.6179" stop-color="#4040ff"/><stop offset="0.6524" stop-color="#2525ff"/><stop offset="0.6812" stop-color="#2323ff"/><stop offset="0.6869" stop-color="#1b1bff"/><stop offset="0.6927" stop-color="#1d1dff"/><stop offset="0.7013" stop-color="#1717ff"/><stop offset="0.7185" stop-color="#1414ff"/><stop offset="0.73" stop-color="#1a1aff"/><stop offset="0.7501" stop-color="#1111ff"/><stop offset="0.7645" stop-color="#1717ff"/><stop offset="0.7731" stop-color="#0f0fff"/><stop offset="0.7789" stop-color="#1313ff"/><stop offset="0.8134" stop-color="#0f0fff"/><stop offset="0.8249" stop-color="#1515ff"/><stop offset="0.8335" stop-color="#0c0cff"/><stop offset="0.8392" stop-color="#1111ff"/><stop offset="0.8479" stop-color="#0c0cff"/><stop offset="0.8737" stop-color="#0f0fff"/><stop offset="0.8824" stop-color="#0b0bff"/><stop offset="0.8996" stop-color="#1010ff"/><stop offset="0.9456" stop-color="#0c0cff"/><stop offset="0.96" stop-color="#1111ff"/><stop offset="0.9715" stop-color="#0c0cff"/><stop offset="0.9973" stop-color="#0b0bff"/></linearGradient>
<linearGradient id="h31" gradientUnits="userSpaceOnUse" x1="869.5" x2="1391.4" y1="0" y2="0"><stop offset="0" stop-color="#0c0cff"/><stop offset="0.0546" stop-color="#0b0bff"/><stop offset="0.0661" stop-color="#0f0fff"/><stop offset="0.0805" stop-color="#0c0cff"/><stop offset="0.0891" stop-color="#1010ff"/><stop offset="0.115" stop-color="#0d0dff"/><stop offset="0.1265" stop-color="#1c1cff"/><stop offset="0.138" stop-color="#0f0fff"/><stop offset="0.1495" stop-color="#1414ff"/><stop offset="0.1552" stop-color="#0f0fff"/><stop offset="0.161" stop-color="#1515ff"/><stop offset="0.1696" stop-color="#0f0fff"/><stop offset="0.1753" stop-color="#1313ff"/><stop offset="0.1839" stop-color="#1010ff"/><stop offset="0.1983" stop-color="#1717ff"/><stop offset="0.2069" stop-color="#1212ff"/><stop offset="0.2213" stop-color="#1919ff"/><stop offset="0.2299" stop-color="#1515ff"/><stop offset="0.2357" stop-color="#1a1aff"/><stop offset="0.2472" stop-color="#1717ff"/><stop offset="0.2587" stop-color="#2020ff"/><stop offset="0.2702" stop-color="#1c1cff"/><stop offset="0.3219" stop-color="#3232ff"/><stop offset="0.3363" stop-color="#4040ff"/><stop offset="0.342" stop-color="#5151ff"/><stop offset="0.3506" stop-color="#5858ff"/><stop offset="0.3621" stop-color="#7373ff"/><stop offset="0.3765" stop-color="#a6a6ff"/><stop offset="0.3851" stop-color="#cdcdff"/><stop offset="0.3938" stop-color="#fbfbff"/><stop offset="0.3966" stop-color="#fff3f3"/><stop offset="0.4167" stop-color="#ff8484"/><stop offset="0.4225" stop-color="#ff6c6c"/><stop offset="0.4282" stop-color="#ff5d5d"/><stop offset="0.4369" stop-color="#ff6262"/><stop offset="0.4455" stop-color="#ff7070"/><stop offset="0.4512" stop-color="#ff7272"/><stop offset="0.4599" stop-color="#ffa1a1"/><stop offset="0.4771" stop-color="#ffdada"/><stop offset="0.4915" stop-color="#fff9f9"/><stop offset="0.5001" stop-color="#fff7f7"/><stop offset="0.503" stop-color="#ffffff"/><stop offset="0.5087" stop-color="#eeeeff"/><stop offset="0.5346" stop-color="#c7c7ff"/><stop offset="0.549" stop-color="#a6a6ff"/><stop offset="0.5605" stop-color="#9393ff"/><stop offset="0.5691" stop-color="#7777ff"/><stop offset="0.5834" stop-color="#5d5dff"/><stop offset="0.6151" stop-color="#3434ff"/><stop offset="0.6208" stop-color="#3434ff"/><stop offset="0.6409" stop-color="#2323ff"/><stop offset="0.6553" stop-color="#1e1eff"/><stop offset="0.6697" stop-color="#2525ff"/><stop offset="0.6783" stop-color="#1a1aff"/><stop offset="0.6812" stop-color="#1d1dff"/><stop offset="0.6955" stop-color="#1515ff"/><stop offset="0.7042" stop-color="#1f1fff"/><stop offset="0.73" stop-color="#1212ff"/><stop offset="0.7415" stop-color="#1a1aff"/><stop offset="0.753" stop-color="#1212ff"/><stop offset="0.7789" stop-color="#1818ff"/><stop offset="0.7961" stop-color="#0e0eff"/><stop offset="0.8134" stop-color="#1414ff"/><stop offset="0.8277" stop-color="#0c0cff"/><stop offset="0.8392" stop-color="#1111ff"/><stop offset="0.8536" stop-color="#0b0bff"/><stop offset="0.8622" stop-color="#1212ff"/><stop offset="0.868" stop-color="#0c0cff"/><stop offset="0.8737" stop-color="#0f0fff"/><stop offset="0.8795" stop-color="#0b0bff"/><stop offset="0.8881" stop-color="#0f0fff"/><stop offset="0.9025" stop-color="#0b0bff"/><stop offset="0.9111" stop-color="#1010ff"/><stop offset="0.9255" stop-color="#0a0aff"/><stop offset="0.9456" stop-color="#0e0eff"/><stop offset="0.9571" stop-color="#0a0aff"/><stop offset="0.9973" stop-color="#0c0cff"/></linearGradient>
<linearGradient id="h32" gradientUnits="userSpaceOnUse" x1="869.5" x2="1391.4" y1="0" y2="0"><stop offset="0" stop-color="#0a0aff"/><stop offset="0.0201" stop-color="#0b0bff"/><stop offset="0.0287" stop-color="#1111ff"/><stop offset="0.0345" stop-color="#0b0bff"/><stop offset="0.0402" stop-color="#1111ff"/><stop offset="0.0546" stop-color="#0c0cff"/><stop offset="0.0661" stop-color="#1717ff"/><stop offset="0.0776" stop-color="#1616ff"/><stop offset="0.0862" stop-color="#0d0dff"/><stop offset="0.1006" stop-color="#1313ff"/><stop offset="0.1063" stop-color="#0d0dff"/><stop offset="0.115" stop-color="#1515ff"/><stop offset="0.1408" stop-color="#0f0fff"/><stop offset="0.1495" stop-color="#1717ff"/><stop offset="0.161" stop-color="#1010ff"/><stop offset="0.1753" stop-color="#1919ff"/><stop offset="0.1868" stop-color="#1212ff"/><stop offset="0.1983" stop-color="#1f1fff"/><stop offset="0.2213" stop-color="#2020ff"/><stop offset="0.2357" stop-color="#1919ff"/><stop offset="0.2529" stop-color="#1b1bff"/><stop offset="0.2615" stop-color="#1e1eff"/><stop offset="0.2702" stop-color="#2c2cff"/><stop offset="0.2817" stop-color="#2323ff"/><stop offset="0.296" stop-color="#2d2dff"/><stop offset="0.3104" stop-color="#2f2fff"/><stop offset="0.319" stop-color="#3c3cff"/><stop offset="0.3276" stop-color="#3c3cff"/><stop offset="0.3391" stop-color="#4c4cff"/><stop offset="0.3478" stop-color="#5d5dff"/><stop offset="0.3679" stop-color="#9797ff"/><stop offset="0.3765" stop-color="#bcbcff"/><stop offset="0.388" stop-color="#f7f7ff"/><stop offset="0.3909" stop-color="#fff6f6"/><stop offset="0.4053" stop-color="#ff9c9c"/><stop offset="0.4196" stop-color="#ff3b3b"/><stop offset="0.4254" stop-color="#ff1b1b"/><stop offset="0.4282" stop-color="#ff1212"/><stop offset="0.4369" stop-color="#ff1d1d"/><stop offset="0.4685" stop-color="#ff9393"/><stop offset="0.4829" stop-color="#ffbbbb"/><stop offset="0.4943" stop-color="#ffcfcf"/><stop offset="0.5145" stop-color="#ffe8e8"/><stop offset="0.526" stop-color="#fffcfc"/><stop offset="0.5346" stop-color="#fcfcff"/><stop offset="0.5375" stop-color="#f6f6ff"/><stop offset="0.5461" stop-color="#d0d0ff"/><stop offset="0.5518" stop-color="#bfbfff"/><stop offset="0.5605" stop-color="#aeaeff"/><stop offset="0.5719" stop-color="#8989ff"/><stop offset="0.5834" stop-color="#8080ff"/><stop offset="0.5921" stop-color="#5e5eff"/><stop offset="0.5978" stop-color="#5959ff"/><stop offset="0.6064" stop-color="#4a4aff"/><stop offset="0.6208" stop-color="#4242ff"/><stop offset="0.6323" stop-color="#2f2fff"/><stop offset="0.6438" stop-color="#2f2fff"/><stop offset="0.6582" stop-color="#2323ff"/><stop offset="0.6697" stop-color="#2626ff"/><stop offset="0.6812" stop-color="#1c1cff"/><stop offset="0.6927" stop-color="#2525ff"/><stop offset="0.7013" stop-color="#1a1aff"/><stop offset="0.7042" stop-color="#1e1eff"/><stop offset="0.7128" stop-color="#1616ff"/><stop offset="0.7185" stop-color="#1a1aff"/><stop offset="0.7444" stop-color="#1212ff"/><stop offset="0.753" stop-color="#1616ff"/><stop offset="0.7616" stop-color="#1111ff"/><stop offset="0.7961" stop-color="#1010ff"/><stop offset="0.8019" stop-color="#1414ff"/><stop offset="0.8134" stop-color="#0f0fff"/><stop offset="0.8249" stop-color="#1414ff"/><stop offset="0.8335" stop-color="#0d0dff"/><stop offset="0.8421" stop-color="#0d0dff"/><stop offset="0.8507" stop-color="#1414ff"/><stop offset="0.8565" stop-color="#0d0dff"/><stop offset="0.8622" stop-color="#1212ff"/><stop offset="0.8709" stop-color="#0c0cff"/><stop offset="0.8881" stop-color="#0b0bff"/><stop offset="0.8967" stop-color="#1212ff"/><stop offset="0.9053" stop-color="#0b0bff"/><stop offset="0.9111" stop-color="#0f0fff"/><stop offset="0.9168" stop-color="#0c0cff"/><stop offset="0.9226" stop-color="#1212ff"/><stop offset="0.9283" stop-color="#0b0bff"/><stop offset="0.9341" stop-color="#1313ff"/><stop offset="0.9456" stop-color="#1414ff"/><stop offset="0.9542" stop-color="#0c0cff"/><stop offset="0.9772" stop-color="#0a0aff"/><stop offset="0.9973" stop-color="#1111ff"/></linearGradient>
<linearGradient id="h33" gradientUnits="userSpaceOnUse" x1="869.5" x2="1391.4" y1="0" y2="0"><stop offset="0" stop-color="#0c0cff"/><stop offset="0.023" stop-color="#0b0bff"/><stop offset="0.0402" stop-color="#1010ff"/><stop offset="0.0517" stop-color="#0b0bff"/><stop offset="0.0891" stop-color="#0c0cff"/><stop offset="0.1035" stop-color="#1818ff"/><stop offset="0.1121" stop-color="#1717ff"/><stop offset="0.1207" stop-color="#0d0dff"/><stop offset="0.1265" stop-color="#1212ff"/><stop offset="0.1322" stop-color="#0e0eff"/><stop offset="0.1495" stop-color="#1414ff"/><stop offset="0.1581" stop-color="#0f0fff"/><stop offset="0.1753" stop-color="#1c1cff"/><stop offset="0.2098" stop-color="#1313ff"/><stop offset="0.2242" stop-color="#2020ff"/><stop offset="0.2357" stop-color="#2020ff"/><stop offset="0.2529" stop-color="#1818ff"/><stop offset="0.2817" stop-color="#2323ff"/><stop offset="0.296" stop-color="#2323ff"/><stop offset="0.3104" stop-color="#2c2cff"/><stop offset="0.342" stop-color="#4949ff"/><stop offset="0.3593" stop-color="#6d6dff"/><stop offset="0.3736" stop-color="#9f9fff"/><stop offset="0.3823" stop-color="#c2c2ff"/><stop offset="0.3851" stop-color="#d1d1ff"/><stop offset="0.3909" stop-color="#f9f9ff"/><stop offset="0.3938" stop-color="#fff9f9"/><stop offset="0.3995" stop-color="#ffe0e0"/><stop offset="0.4167" stop-color="#ff8080"/><stop offset="0.4254" stop-color="#ff6a6a"/><stop offset="0.434" stop-color="#ff6363"/><stop offset="0.4426" stop-color="#ff6d6d"/><stop offset="0.4512" stop-color="#ff7f7f"/><stop offset="0.4742" stop-color="#ffd1d1"/><stop offset="0.4857" stop-color="#fff2f2"/><stop offset="0.4886" stop-color="#fff7f7"/><stop offset="0.5001" stop-color="#fffafa"/><stop offset="0.503" stop-color="#fcfcff"/><stop offset="0.5116" stop-color="#e5e5ff"/><stop offset="0.549" stop-color="#a7a7ff"/><stop offset="0.5605" stop-color="#8686ff"/><stop offset="0.5834" stop-color="#6363ff"/><stop offset="0.5921" stop-color="#4b4bff"/><stop offset="0.6093" stop-color="#3737ff"/><stop offset="0.6352" stop-color="#2626ff"/><stop offset="0.6438" stop-color="#2929ff"/><stop offset="0.6524" stop-color="#1e1eff"/><stop offset="0.6582" stop-color="#2121ff"/><stop offset="0.661" stop-color="#1c1cff"/><stop offset="0.6697" stop-color="#2121ff"/><stop offset="0.6783" stop-color="#1818ff"/><stop offset="0.7214" stop-color="#1212ff"/><stop offset="0.73" stop-color="#1818ff"/><stop offset="0.7358" stop-color="#1212ff"/><stop offset="0.7501" stop-color="#1010ff"/><stop offset="0.7645" stop-color="#1616ff"/><stop offset="0.7731" stop-color="#0f0fff"/><stop offset="0.7904" stop-color="#1414ff"/><stop offset="0.7961" stop-color="#0f0fff"/><stop offset="0.8277" stop-color="#0d0dff"/><stop offset="0.8392" stop-color="#1313ff"/><stop offset="0.8565" stop-color="#0b0bff"/><stop offset="0.8737" stop-color="#1010ff"/><stop offset="0.8881" stop-color="#0b0bff"/><stop offset="0.8967" stop-color="#1212ff"/><stop offset="0.9168" stop-color="#0a0aff"/><stop offset="0.9456" stop-color="#0d0dff"/><stop offset="0.9513" stop-color="#0a0aff"/><stop offset="0.96" stop-color="#0e0eff"/><stop offset="0.9858" stop-color="#0a0aff"/><stop offset="0.9973" stop-color="#0f0fff"/></linearGradient>
<linearGradient id="h34" gradientUnits="userSpaceOnUse" x1="869.5" x2="1391.4" y1="0" y2="0"><stop offset="0" stop-color="#0b0bff"/><stop offset="0.0172" stop-color="#0f0fff"/><stop offset="0.0201" stop-color="#0c0cff"/><stop offset="0.0287" stop-color="#1414ff"/><stop offset="0.0402" stop-color="#1111ff"/><stop offset="0.0517" stop-color="#1a1aff"/><stop offset="0.0661" stop-color="#0c0cff"/><stop offset="0.1006" stop-color="#1414ff"/><stop offset="0.1121" stop-color="#0e0eff"/><stop offset="0.1293" stop-color="#0f0fff"/><stop offset="0.138" stop-color="#1a1aff"/><stop offset="0.1495" stop-color="#1717ff"/><stop offset="0.1552" stop-color="#1010ff"/><stop offset="0.161" stop-color="#1919ff"/><stop offset="0.1696" stop-color="#1212ff"/><stop offset="0.2069" stop-color="#1414ff"/><stop offset="0.2213" stop-color="#1d1dff"/><stop offset="0.2328" stop-color="#1818ff"/><stop offset="0.25" stop-color="#1a1aff"/><stop offset="0.2587" stop-color="#2626ff"/><stop offset="0.2702" stop-color="#2121ff"/><stop offset="0.2817" stop-color="#2929ff"/><stop offset="0.2874" stop-color="#2525ff"/><stop offset="0.296" stop-color="#2d2dff"/><stop offset="0.3075" stop-color="#2e2eff"/><stop offset="0.319" stop-color="#3838ff"/><stop offset="0.3363" stop-color="#4f4fff"/><stop offset="0.3478" stop-color="#6767ff"/><stop offset="0.3679" stop-color="#a5a5ff"/><stop offset="0.3851" stop-color="#fcfcff"/><stop offset="0.388" stop-color="#fff2f2"/><stop offset="0.4024" stop-color="#ff9898"/><stop offset="0.411" stop-color="#ff6c6c"/><stop offset="0.4196" stop-color="#ff4d4d"/><stop offset="0.4282" stop-color="#ff4343"/><stop offset="0.4397" stop-color="#ff4a4a"/><stop offset="0.4512" stop-color="#ff7777"/><stop offset="0.4599" stop-color="#ffa4a4"/><stop offset="0.4685" stop-color="#ffc4c4"/><stop offset="0.4742" stop-color="#ffcfcf"/><stop offset="0.48" stop-color="#ffe6e6"/><stop offset="0.4915" stop-color="#fffbfb"/><stop offset="0.4943" stop-color="#fefeff"/><stop offset="0.5116" stop-color="#eaeaff"/><stop offset="0.5346" stop-color="#c1c1ff"/><stop offset="0.549" stop-color="#9d9dff"/><stop offset="0.5605" stop-color="#8989ff"/><stop offset="0.5748" stop-color="#6666ff"/><stop offset="0.5834" stop-color="#5d5dff"/><stop offset="0.5949" stop-color="#4848ff"/><stop offset="0.6093" stop-color="#4242ff"/><stop offset="0.6208" stop-color="#3535ff"/><stop offset="0.6323" stop-color="#3030ff"/><stop offset="0.6438" stop-color="#2222ff"/><stop offset="0.6812" stop-color="#1919ff"/><stop offset="0.6927" stop-color="#1c1cff"/><stop offset="0.707" stop-color="#1515ff"/><stop offset="0.7185" stop-color="#1818ff"/><stop offset="0.73" stop-color="#1212ff"/><stop offset="0.7415" stop-color="#1c1cff"/><stop offset="0.7501" stop-color="#1111ff"/><stop offset="0.7645" stop-color="#1515ff"/><stop offset="0.7818" stop-color="#0e0eff"/><stop offset="0.7904" stop-color="#1212ff"/><stop offset="0.7933" stop-color="#0e0eff"/><stop offset="0.8019" stop-color="#1616ff"/><stop offset="0.8162" stop-color="#0d0dff"/><stop offset="0.8249" stop-color="#1212ff"/><stop offset="0.8306" stop-color="#0c0cff"/><stop offset="0.8392" stop-color="#1414ff"/><stop offset="0.8622" stop-color="#0b0bff"/><stop offset="0.8737" stop-color="#1313ff"/><stop offset="0.9226" stop-color="#0a0aff"/><stop offset="0.9341" stop-color="#1414ff"/><stop offset="0.9427" stop-color="#0b0bff"/><stop offset="0.9485" stop-color="#1010ff"/><stop offset="0.9628" stop-color="#0a0aff"/><stop offset="0.9772" stop-color="#0a0aff"/><stop offset="0.9829" stop-color="#0f0fff"/><stop offset="0.9916" stop-color="#0909ff"/><stop offset="0.9973" stop-color="#0b0bff"/></linearGradient>
<linearGradient id="h35" gradientUnits="userSpaceOnUse" x1="869.5" x2="1391.4" y1="0" y2="0"><stop offset="0" stop-color="#0e0eff"/><stop offset="0.0287" stop-color="#0e0eff"/><stop offset="0.0402" stop-color="#1616ff"/><stop offset="0.0489" stop-color="#0c0cff"/><stop offset="0.0546" stop-color="#1212ff"/><stop offset="0.0604" stop-color="#0c0cff"/><stop offset="0.0776" stop-color="#1717ff"/><stop offset="0.0891" stop-color="#0c0cff"/><stop offset="0.1006" stop-color="#1717ff"/><stop offset="0.1121" stop-color="#0d0dff"/><stop offset="0.138" stop-color="#1919ff"/><stop offset="0.1466" stop-color="#0e0eff"/><stop offset="0.161" stop-color="#1414ff"/><stop offset="0.1868" stop-color="#1212ff"/><stop offset="0.1983" stop-color="#1616ff"/><stop offset="0.2098" stop-color="#1313ff"/><stop offset="0.2213" stop-color="#1d1dff"/><stop offset="0.2328" stop-color="#1616ff"/><stop offset="0.2472" stop-color="#1d1dff"/><stop offset="0.2587" stop-color="#2c2cff"/><stop offset="0.2673" stop-color="#1f1fff"/><stop offset="0.2788" stop-color="#1f1fff"/><stop offset="0.296" stop-color="#2e2eff"/><stop offset="0.3219" stop-color="#3838ff"/><stop offset="0.3248" stop-color="#3a3aff"/><stop offset="0.3305" stop-color="#4a4aff"/><stop offset="0.3449" stop-color="#5858ff"/><stop offset="0.3564" stop-color="#7474ff"/><stop offset="0.3736" stop-color="#b3b3ff"/><stop offset="0.3851" stop-color="#f2f2ff"/><stop offset="0.388" stop-color="#fffafa"/><stop offset="0.3995" stop-color="#ffb8b8"/><stop offset="0.4081" stop-color="#ff8e8e"/><stop offset="0.4196" stop-color="#ff6868"/><stop offset="0.4282" stop-color="#ff5b5b"/><stop offset="0.434" stop-color="#ff5f5f"/><stop offset="0.4426" stop-color="#ff7272"/><stop offset="0.4512" stop-color="#ff8d8d"/><stop offset="0.4714" stop-color="#ffdcdc"/><stop offset="0.4857" stop-color="#fffcfc"/><stop offset="0.4886" stop-color="#fefeff"/><stop offset="0.5202" stop-color="#cfcfff"/><stop offset="0.5461" stop-color="#9a9aff"/><stop offset="0.5547" stop-color="#8484ff"/><stop offset="0.5605" stop-color="#8181ff"/><stop offset="0.5691" stop-color="#6868ff"/><stop offset="0.5834" stop-color="#5050ff"/><stop offset="0.6237" stop-color="#2929ff"/><stop offset="0.6323" stop-color="#2c2cff"/><stop offset="0.6467" stop-color="#1f1fff"/><stop offset="0.6697" stop-color="#1919ff"/><stop offset="0.6812" stop-color="#1c1cff"/><stop offset="0.6869" stop-color="#1616ff"/><stop offset="0.7042" stop-color="#1b1bff"/><stop offset="0.7243" stop-color="#1212ff"/><stop offset="0.7415" stop-color="#1818ff"/><stop offset="0.7473" stop-color="#1111ff"/><stop offset="0.753" stop-color="#1b1bff"/><stop offset="0.7588" stop-color="#1010ff"/><stop offset="0.7674" stop-color="#1a1aff"/><stop offset="0.7875" stop-color="#0d0dff"/><stop offset="0.8048" stop-color="#0d0dff"/><stop offset="0.8134" stop-color="#1313ff"/><stop offset="0.8277" stop-color="#0c0cff"/><stop offset="0.8392" stop-color="#1313ff"/><stop offset="0.845" stop-color="#0d0dff"/><stop offset="0.8737" stop-color="#0b0bff"/><stop offset="0.8852" stop-color="#1010ff"/><stop offset="0.8996" stop-color="#0a0aff"/><stop offset="0.9111" stop-color="#1717ff"/><stop offset="0.9197" stop-color="#0a0aff"/><stop offset="0.9226" stop-color="#0e0eff"/><stop offset="0.9341" stop-color="#0b0bff"/><stop offset="0.9456" stop-color="#0f0fff"/><stop offset="0.9571" stop-color="#0a0aff"/><stop offset="0.9973" stop-color="#0c0cff"/></linearGradient>
<linearGradient id="h36" gradientUnits="userSpaceOnUse" x1="869.5" x2="1391.4" y1="0" y2="0"><stop offset="0" stop-color="#0d0dff"/><stop offset="0.0575" stop-color="#0b0bff"/><stop offset="0.0661" stop-color="#1010ff"/><stop offset="0.0719" stop-color="#0d0dff"/><stop offset="0.0776" stop-color="#1414ff"/><stop offset="0.0891" stop-color="#1414ff"/><stop offset="0.1006" stop-color="#1313ff"/><stop offset="0.1063" stop-color="#0d0dff"/><stop offset="0.115" stop-color="#1515ff"/><stop offset="0.1207" stop-color="#0d0dff"/><stop offset="0.1265" stop-color="#1414ff"/><stop offset="0.1322" stop-color="#0e0eff"/><stop offset="0.138" stop-color="#1414ff"/><stop offset="0.1523" stop-color="#0f0fff"/><stop offset="0.1638" stop-color="#1010ff"/><stop offset="0.1753" stop-color="#1a1aff"/><stop offset="0.1983" stop-color="#1212ff"/><stop offset="0.2328" stop-color="#1c1cff"/><stop offset="0.2414" stop-color="#1717ff"/><stop offset="0.2587" stop-color="#2020ff"/><stop offset="0.2702" stop-color="#1e1eff"/><stop offset="0.2932" stop-color="#3131ff"/><stop offset="0.3047" stop-color="#2b2bff"/><stop offset="0.3334" stop-color="#4848ff"/><stop offset="0.342" stop-color="#5e5eff"/><stop offset="0.3506" stop-color="#6c6cff"/><stop offset="0.3564" stop-color="#8686ff"/><stop offset="0.3736" stop-color="#c7c7ff"/><stop offset="0.3851" stop-color="#fefeff"/><stop offset="0.4053" stop-color="#ff9494"/><stop offset="0.4139" stop-color="#ff5e5e"/><stop offset="0.4167" stop-color="#ff5656"/><stop offset="0.4311" stop-color="#ff6565"/><stop offset="0.4397" stop-color="#ff7373"/><stop offset="0.4512" stop-color="#ffa4a4"/><stop offset="0.4627" stop-color="#ffbebe"/><stop offset="0.4857" stop-color="#ffffff"/><stop offset="0.5231" stop-color="#d4d4ff"/><stop offset="0.5375" stop-color="#bcbcff"/><stop offset="0.5633" stop-color="#7e7eff"/><stop offset="0.5834" stop-color="#5c5cff"/><stop offset="0.5978" stop-color="#4f4fff"/><stop offset="0.6093" stop-color="#3838ff"/><stop offset="0.6208" stop-color="#3b3bff"/><stop offset="0.6495" stop-color="#2020ff"/><stop offset="0.6582" stop-color="#2121ff"/><stop offset="0.661" stop-color="#1c1cff"/><stop offset="0.6697" stop-color="#2020ff"/><stop offset="0.6783" stop-color="#1818ff"/><stop offset="0.6927" stop-color="#2121ff"/><stop offset="0.7042" stop-color="#1818ff"/><stop offset="0.7214" stop-color="#1313ff"/><stop offset="0.73" stop-color="#1919ff"/><stop offset="0.7415" stop-color="#1313ff"/><stop offset="0.753" stop-color="#1a1aff"/><stop offset="0.7616" stop-color="#1010ff"/><stop offset="0.7904" stop-color="#1515ff"/><stop offset="0.8048" stop-color="#0d0dff"/><stop offset="0.8249" stop-color="#1111ff"/><stop offset="0.8364" stop-color="#0d0dff"/><stop offset="0.8507" stop-color="#1212ff"/><stop offset="0.8852" stop-color="#0b0bff"/><stop offset="0.9111" stop-color="#0a0aff"/><stop offset="0.9226" stop-color="#0f0fff"/><stop offset="0.937" stop-color="#0a0aff"/><stop offset="0.9456" stop-color="#0d0dff"/><stop offset="0.9686" stop-color="#0a0aff"/><stop offset="0.9829" stop-color="#0e0eff"/><stop offset="0.9973" stop-color="#0a0aff"/></linearGradient>
<clipPath id="hq"><rect x="-8.4" y="-8.4" width="7.6" height="6.8"/></clipPath>
<radialGradient id="ghl" gradientUnits="userSpaceOnUse" cx="-2.9" cy="-2.9" r="6.2"><stop offset="0" stop-color="#fff"/><stop offset="0.22" stop-color="#fff" stop-opacity="0.95"/><stop offset="0.6" stop-color="#fff" stop-opacity="0.45"/><stop offset="1" stop-color="#fff" stop-opacity="0.08"/></radialGradient>
<g id="bR"><circle r="9.7" fill="#ff0000"/><circle r="8.9" fill="url(#ghl)" clip-path="url(#hq)"/><path d="M1.8 -5.2v3.6M-6.8 0.4h7.6" stroke="#ff5a5a" stroke-width="0.7" fill="none"/></g>
<g id="bB"><circle r="9.7" fill="#0000ff"/><circle r="8.9" fill="url(#ghl)" clip-path="url(#hq)"/><path d="M1.8 -5.2v3.6M-6.8 0.4h7.6" stroke="#5a5aff" stroke-width="0.7" fill="none"/></g>

<radialGradient id="ghf" cx="0.5" cy="0.5" r="0.5"><stop offset="0" stop-color="#fff"/><stop offset="0.3" stop-color="#fff" stop-opacity="0.95"/><stop offset="0.55" stop-color="#fff" stop-opacity="0.55"/><stop offset="1" stop-color="#fff" stop-opacity="0"/></radialGradient>
<g id="bF"><circle r="9.5" fill="#ff0000"/><circle cx="-2.6" cy="-2.9" r="4.2" fill="url(#ghf)"/></g>
</defs>
<rect width="2027" height="1753" fill="#fff"/>
<g id="pa"><g filter="url(#ablur)">
<g stroke-width="2.2" stroke-linecap="round">
<line x1="245" y1="232.5" x2="245" y2="266.75" stroke="#e4d79a"/>
<line x1="245" y1="266.75" x2="245" y2="301" stroke="#e6dd98"/>
<line x1="245" y1="232.5" x2="245" y2="198.25" stroke="#e4d79a"/>
<line x1="245" y1="198.25" x2="245" y2="164" stroke="#e6dd98"/>
<line x1="245" y1="232.5" x2="275.75" y2="249.62" stroke="#dcc2b2"/>
<line x1="275.75" y1="249.62" x2="306.5" y2="266.75" stroke="#e6dd98"/>
<line x1="245" y1="232.5" x2="275.75" y2="215.38" stroke="#dcc2b2"/>
<line x1="275.75" y1="215.38" x2="306.5" y2="198.25" stroke="#e6dd98"/>
<line x1="245" y1="232.5" x2="214.25" y2="249.62" stroke="#dcc2b2"/>
<line x1="214.25" y1="249.62" x2="183.5" y2="266.75" stroke="#e6dd98"/>
<line x1="245" y1="232.5" x2="214.25" y2="215.38" stroke="#dcc2b2"/>
<line x1="214.25" y1="215.38" x2="183.5" y2="198.25" stroke="#e6dd98"/>
<line x1="245" y1="27" x2="245" y2="61.25" stroke="#e4d79a"/>
<line x1="245" y1="61.25" x2="245" y2="95.5" stroke="#e6dd98"/>
<line x1="245" y1="27" x2="275.75" y2="44.12" stroke="#dcc2b2"/>
<line x1="275.75" y1="44.12" x2="306.5" y2="61.25" stroke="#e6dd98"/>
<line x1="245" y1="27" x2="214.25" y2="44.12" stroke="#dcc2b2"/>
<line x1="214.25" y1="44.12" x2="183.5" y2="61.25" stroke="#e6dd98"/>
<line x1="245" y1="438" x2="245" y2="403.75" stroke="#e4d79a"/>
<line x1="245" y1="403.75" x2="245" y2="369.5" stroke="#e6dd98"/>
<line x1="245" y1="438" x2="275.75" y2="420.88" stroke="#dcc2b2"/>
<line x1="275.75" y1="420.88" x2="306.5" y2="403.75" stroke="#e6dd98"/>
<line x1="245" y1="438" x2="214.25" y2="420.88" stroke="#dcc2b2"/>
<line x1="214.25" y1="420.88" x2="183.5" y2="403.75" stroke="#e6dd98"/>
<line x1="421.4" y1="129.75" x2="421.4" y2="164" stroke="#e4d79a"/>
<line x1="421.4" y1="164" x2="421.4" y2="198.25" stroke="#e6dd98"/>
<line x1="421.4" y1="129.75" x2="391.4" y2="146.88" stroke="#dcc2b2"/>
<line x1="391.4" y1="146.88" x2="361.4" y2="164" stroke="#e6dd98"/>
<line x1="421.4" y1="129.75" x2="391.4" y2="112.62" stroke="#dcc2b2"/>
<line x1="391.4" y1="112.62" x2="361.4" y2="95.5" stroke="#e6dd98"/>
<line x1="68.6" y1="129.75" x2="68.6" y2="164" stroke="#e4d79a"/>
<line x1="68.6" y1="164" x2="68.6" y2="198.25" stroke="#e6dd98"/>
<line x1="68.6" y1="129.75" x2="98.6" y2="146.88" stroke="#dcc2b2"/>
<line x1="98.6" y1="146.88" x2="128.6" y2="164" stroke="#e6dd98"/>
<line x1="68.6" y1="129.75" x2="98.6" y2="112.62" stroke="#dcc2b2"/>
<line x1="98.6" y1="112.62" x2="128.6" y2="95.5" stroke="#e6dd98"/>
<line x1="421.4" y1="335.25" x2="421.4" y2="301" stroke="#e4d79a"/>
<line x1="421.4" y1="301" x2="421.4" y2="266.75" stroke="#e6dd98"/>
<line x1="421.4" y1="335.25" x2="391.4" y2="352.38" stroke="#dcc2b2"/>
<line x1="391.4" y1="352.38" x2="361.4" y2="369.5" stroke="#e6dd98"/>
<line x1="421.4" y1="335.25" x2="391.4" y2="318.12" stroke="#dcc2b2"/>
<line x1="391.4" y1="318.12" x2="361.4" y2="301" stroke="#e6dd98"/>
<line x1="68.6" y1="335.25" x2="68.6" y2="301" stroke="#e4d79a"/>
<line x1="68.6" y1="301" x2="68.6" y2="266.75" stroke="#e6dd98"/>
<line x1="68.6" y1="335.25" x2="98.6" y2="352.38" stroke="#dcc2b2"/>
<line x1="98.6" y1="352.38" x2="128.6" y2="369.5" stroke="#e6dd98"/>
<line x1="68.6" y1="335.25" x2="98.6" y2="318.12" stroke="#dcc2b2"/>
<line x1="98.6" y1="318.12" x2="128.6" y2="301" stroke="#e6dd98"/>
<line x1="303.8" y1="129.75" x2="305.15" y2="164" stroke="#e4d79a"/>
<line x1="305.15" y1="164" x2="306.5" y2="198.25" stroke="#e6dd98"/>
<line x1="303.8" y1="129.75" x2="305.15" y2="95.5" stroke="#e4d79a"/>
<line x1="305.15" y1="95.5" x2="306.5" y2="61.25" stroke="#e6dd98"/>
<line x1="303.8" y1="129.75" x2="332.6" y2="146.88" stroke="#cdb6a6"/>
<line x1="332.6" y1="146.88" x2="361.4" y2="164" stroke="#e6dd98"/>
<line x1="303.8" y1="129.75" x2="332.6" y2="112.62" stroke="#cdb6a6"/>
<line x1="332.6" y1="112.62" x2="361.4" y2="95.5" stroke="#e6dd98"/>
<line x1="303.8" y1="129.75" x2="274.4" y2="146.88" stroke="#cdb6a6"/>
<line x1="274.4" y1="146.88" x2="245" y2="164" stroke="#e6dd98"/>
<line x1="303.8" y1="129.75" x2="274.4" y2="112.62" stroke="#cdb6a6"/>
<line x1="274.4" y1="112.62" x2="245" y2="95.5" stroke="#e6dd98"/>
<line x1="186.2" y1="129.75" x2="184.85" y2="164" stroke="#e4d79a"/>
<line x1="184.85" y1="164" x2="183.5" y2="198.25" stroke="#e6dd98"/>
<line x1="186.2" y1="129.75" x2="184.85" y2="95.5" stroke="#e4d79a"/>
<line x1="184.85" y1="95.5" x2="183.5" y2="61.25" stroke="#e6dd98"/>
<line x1="186.2" y1="129.75" x2="215.6" y2="146.88" stroke="#cdb6a6"/>
<line x1="215.6" y1="146.88" x2="245" y2="164" stroke="#e6dd98"/>
<line x1="186.2" y1="129.75" x2="215.6" y2="112.62" stroke="#cdb6a6"/>
<line x1="215.6" y1="112.62" x2="245" y2="95.5" stroke="#e6dd98"/>
<line x1="186.2" y1="129.75" x2="157.4" y2="146.88" stroke="#cdb6a6"/>
<line x1="157.4" y1="146.88" x2="128.6" y2="164" stroke="#e6dd98"/>
<line x1="186.2" y1="129.75" x2="157.4" y2="112.62" stroke="#cdb6a6"/>
<line x1="157.4" y1="112.62" x2="128.6" y2="95.5" stroke="#e6dd98"/>
<line x1="303.8" y1="335.25" x2="305.15" y2="369.5" stroke="#e4d79a"/>
<line x1="305.15" y1="369.5" x2="306.5" y2="403.75" stroke="#e6dd98"/>
<line x1="303.8" y1="335.25" x2="305.15" y2="301" stroke="#e4d79a"/>
<line x1="305.15" y1="301" x2="306.5" y2="266.75" stroke="#e6dd98"/>
<line x1="303.8" y1="335.25" x2="332.6" y2="352.38" stroke="#cdb6a6"/>
<line x1="332.6" y1="352.38" x2="361.4" y2="369.5" stroke="#e6dd98"/>
<line x1="303.8" y1="335.25" x2="332.6" y2="318.12" stroke="#cdb6a6"/>
<line x1="332.6" y1="318.12" x2="361.4" y2="301" stroke="#e6dd98"/>
<line x1="303.8" y1="335.25" x2="274.4" y2="352.38" stroke="#cdb6a6"/>
<line x1="274.4" y1="352.38" x2="245" y2="369.5" stroke="#e6dd98"/>
<line x1="303.8" y1="335.25" x2="274.4" y2="318.12" stroke="#cdb6a6"/>
<line x1="274.4" y1="318.12" x2="245" y2="301" stroke="#e6dd98"/>
<line x1="186.2" y1="335.25" x2="184.85" y2="369.5" stroke="#e4d79a"/>
<line x1="184.85" y1="369.5" x2="183.5" y2="403.75" stroke="#e6dd98"/>
<line x1="186.2" y1="335.25" x2="184.85" y2="301" stroke="#e4d79a"/>
<line x1="184.85" y1="301" x2="183.5" y2="266.75" stroke="#e6dd98"/>
<line x1="186.2" y1="335.25" x2="215.6" y2="352.38" stroke="#cdb6a6"/>
<line x1="215.6" y1="352.38" x2="245" y2="369.5" stroke="#e6dd98"/>
<line x1="186.2" y1="335.25" x2="215.6" y2="318.12" stroke="#cdb6a6"/>
<line x1="215.6" y1="318.12" x2="245" y2="301" stroke="#e6dd98"/>
<line x1="186.2" y1="335.25" x2="157.4" y2="352.38" stroke="#cdb6a6"/>
<line x1="157.4" y1="352.38" x2="128.6" y2="369.5" stroke="#e6dd98"/>
<line x1="186.2" y1="335.25" x2="157.4" y2="318.12" stroke="#cdb6a6"/>
<line x1="157.4" y1="318.12" x2="128.6" y2="301" stroke="#e6dd98"/>
<line x1="362.6" y1="232.5" x2="362" y2="266.75" stroke="#e4d79a"/>
<line x1="362" y1="266.75" x2="361.4" y2="301" stroke="#e6dd98"/>
<line x1="362.6" y1="232.5" x2="362" y2="198.25" stroke="#e4d79a"/>
<line x1="362" y1="198.25" x2="361.4" y2="164" stroke="#e6dd98"/>
<line x1="362.6" y1="232.5" x2="392" y2="249.62" stroke="#cdb6a6"/>
<line x1="392" y1="249.62" x2="421.4" y2="266.75" stroke="#e6dd98"/>
<line x1="362.6" y1="232.5" x2="392" y2="215.38" stroke="#cdb6a6"/>
<line x1="392" y1="215.38" x2="421.4" y2="198.25" stroke="#e6dd98"/>
<line x1="362.6" y1="232.5" x2="334.55" y2="249.62" stroke="#cdb6a6"/>
<line x1="334.55" y1="249.62" x2="306.5" y2="266.75" stroke="#e6dd98"/>
<line x1="362.6" y1="232.5" x2="334.55" y2="215.38" stroke="#cdb6a6"/>
<line x1="334.55" y1="215.38" x2="306.5" y2="198.25" stroke="#e6dd98"/>
<line x1="127.4" y1="232.5" x2="128" y2="266.75" stroke="#e4d79a"/>
<line x1="128" y1="266.75" x2="128.6" y2="301" stroke="#e6dd98"/>
<line x1="127.4" y1="232.5" x2="128" y2="198.25" stroke="#e4d79a"/>
<line x1="128" y1="198.25" x2="128.6" y2="164" stroke="#e6dd98"/>
<line x1="127.4" y1="232.5" x2="155.45" y2="249.62" stroke="#cdb6a6"/>
<line x1="155.45" y1="249.62" x2="183.5" y2="266.75" stroke="#e6dd98"/>
<line x1="127.4" y1="232.5" x2="155.45" y2="215.38" stroke="#cdb6a6"/>
<line x1="155.45" y1="215.38" x2="183.5" y2="198.25" stroke="#e6dd98"/>
<line x1="127.4" y1="232.5" x2="98" y2="249.62" stroke="#cdb6a6"/>
<line x1="98" y1="249.62" x2="68.6" y2="266.75" stroke="#e6dd98"/>
<line x1="127.4" y1="232.5" x2="98" y2="215.38" stroke="#cdb6a6"/>
<line x1="98" y1="215.38" x2="68.6" y2="198.25" stroke="#e6dd98"/>
</g>
<circle cx="183.5" cy="61.25" r="8.3" fill="url(#gS)"/>
<circle cx="306.5" cy="61.25" r="8.3" fill="url(#gS)"/>
<circle cx="128.6" cy="95.5" r="8.3" fill="url(#gS)"/>
<circle cx="245" cy="95.5" r="8.3" fill="url(#gS)"/>
<circle cx="361.4" cy="95.5" r="8.3" fill="url(#gS)"/>
<circle cx="128.6" cy="164" r="8.3" fill="url(#gS)"/>
<circle cx="245" cy="164" r="8.3" fill="url(#gS)"/>
<circle cx="361.4" cy="164" r="8.3" fill="url(#gS)"/>
<circle cx="68.6" cy="198.25" r="8.3" fill="url(#gS)"/>
<circle cx="183.5" cy="198.25" r="8.3" fill="url(#gS)"/>
<circle cx="306.5" cy="198.25" r="8.3" fill="url(#gS)"/>
<circle cx="421.4" cy="198.25" r="8.3" fill="url(#gS)"/>
<circle cx="68.6" cy="266.75" r="8.3" fill="url(#gS)"/>
<circle cx="183.5" cy="266.75" r="8.3" fill="url(#gS)"/>
<circle cx="306.5" cy="266.75" r="8.3" fill="url(#gS)"/>
<circle cx="421.4" cy="266.75" r="8.3" fill="url(#gS)"/>
<circle cx="128.6" cy="301" r="8.3" fill="url(#gS)"/>
<circle cx="245" cy="301" r="8.3" fill="url(#gS)"/>
<circle cx="361.4" cy="301" r="8.3" fill="url(#gS)"/>
<circle cx="128.6" cy="369.5" r="8.3" fill="url(#gS)"/>
<circle cx="245" cy="369.5" r="8.3" fill="url(#gS)"/>
<circle cx="361.4" cy="369.5" r="8.3" fill="url(#gS)"/>
<circle cx="183.5" cy="403.75" r="8.3" fill="url(#gS)"/>
<circle cx="306.5" cy="403.75" r="8.3" fill="url(#gS)"/>
<circle cx="245" cy="232.5" r="9.3" fill="url(#gP)"/>
<circle cx="245" cy="27" r="9.3" fill="url(#gP)"/>
<circle cx="245" cy="438" r="9.3" fill="url(#gP)"/>
<circle cx="421.4" cy="129.75" r="9.3" fill="url(#gP)"/>
<circle cx="68.6" cy="129.75" r="9.3" fill="url(#gP)"/>
<circle cx="421.4" cy="335.25" r="9.3" fill="url(#gP)"/>
<circle cx="68.6" cy="335.25" r="9.3" fill="url(#gP)"/>
<circle cx="303.8" cy="128.75" r="12" fill="url(#gNd)"/>
<circle cx="186.2" cy="128.75" r="12" fill="url(#gNu)"/>
<circle cx="303.8" cy="334.25" r="12" fill="url(#gNd)"/>
<circle cx="186.2" cy="334.25" r="12" fill="url(#gNu)"/>
<circle cx="362.6" cy="231.5" r="12" fill="url(#gNd)"/>
<circle cx="127.4" cy="231.5" r="12" fill="url(#gNu)"/>
</g>
<path d="M302.6 169.75 L314.6 151.25 L308.6 151.25 L308.6 99.75 L296.6 99.75 L296.6 151.25 L290.6 151.25Z" fill="#ffd9d9" stroke="#ff0000" stroke-width="2.2" stroke-linejoin="miter"/>
<path d="M186.7 97.75 L199.2 116.25 L192.7 116.25 L192.7 168.35 L180.7 168.35 L180.7 116.25 L174.2 116.25Z" fill="#5b9bd5" stroke="#0000ff" stroke-width="2.2" stroke-linejoin="miter"/>
<path d="M302.6 375.25 L314.6 356.75 L308.6 356.75 L308.6 305.25 L296.6 305.25 L296.6 356.75 L290.6 356.75Z" fill="#ffd9d9" stroke="#ff0000" stroke-width="2.2" stroke-linejoin="miter"/>
<path d="M186.7 303.25 L199.2 321.75 L192.7 321.75 L192.7 373.85 L180.7 373.85 L180.7 321.75 L174.2 321.75Z" fill="#5b9bd5" stroke="#0000ff" stroke-width="2.2" stroke-linejoin="miter"/>
<path d="M361.4 272.5 L373.4 254 L367.4 254 L367.4 202.5 L355.4 202.5 L355.4 254 L349.4 254Z" fill="#ffd9d9" stroke="#ff0000" stroke-width="2.2" stroke-linejoin="miter"/>
<path d="M127.9 200.5 L140.4 219 L133.9 219 L133.9 271.1 L121.9 271.1 L121.9 219 L115.4 219Z" fill="#5b9bd5" stroke="#0000ff" stroke-width="2.2" stroke-linejoin="miter"/>
<path d="M127 235.6L186 134.3L303 134.3L362.2 235.6L303 336.8L186 336.8Z" fill="none" stroke="#000" stroke-width="3.6" stroke-linejoin="miter"/>
<line x1="243.3" y1="72" x2="243.3" y2="373" stroke="#000" stroke-width="3.4" stroke-dasharray="11.5 2.3"/>
<line x1="244.5" y1="234.5" x2="400.2" y2="110.59" stroke="#000" stroke-width="4.1" />
<path d="M413.5 100L404.42 119.11L392.84 104.55Z" fill="#000"/>
<path d="M244 201.5A33 33 0 0 1 269.82 213.95" fill="none" stroke="#000" stroke-width="1.6"/>
<text x="256" y="198.5" font-size="30" class="se" font-style="italic">θ</text>
<text x="347.3" y="80.8" font-size="32" class="se" textLength="100.6" lengthAdjust="spacing"><tspan font-weight="bold">B</tspan> // <tspan font-style="italic">a-b</tspan></text>
<text x="241.5" y="416.8" font-size="33" text-anchor="middle" class="se">Easy axis</text>
<text x="4" y="61" font-size="36" font-weight="bold">a</text>
<g filter="url(#ablur2)">
<circle cx="494.5" cy="42" r="11.5" fill="url(#gNuL)"/>
<circle cx="492.5" cy="105" r="11.5" fill="url(#gNdL)"/>
<circle cx="493.2" cy="171.3" r="9.6" fill="url(#gPL)"/>
<circle cx="493.2" cy="229.7" r="9.6" fill="url(#gSL)"/>
</g>
<path d="M493 14.5 L503.65 28.7 L498.35 28.7 L498.35 70 L487.65 70 L487.65 28.7 L482.35 28.7Z" fill="#5b9bd5" stroke="#0000ff" stroke-width="1.8" stroke-linejoin="miter"/>
<path d="M492.5 137.2 L503.15 123 L497.85 123 L497.85 81.5 L487.15 81.5 L487.15 123 L481.85 123Z" fill="#ffd9d9" stroke="#ff0000" stroke-width="1.8" stroke-linejoin="miter"/>
<text x="539.5" y="55.3" font-size="30.5">Ni (spin-up)</text>
<text x="539.5" y="118.4" font-size="30.5">Ni (spin-down)</text>
<text x="539.5" y="180" font-size="30.5">P</text>
<text x="539.5" y="240.3" font-size="30.5">S</text>
<g filter="url(#ablur2)">
<line x1="626.3" y1="396" x2="626.3" y2="334" stroke="#b23a0c" stroke-width="3" />
<path d="M626.3 317L635 336.5L617.6 336.5Z" fill="url(#gAx)"/>
<line x1="626.3" y1="383.3" x2="578" y2="383.3" stroke="#b23a0c" stroke-width="3" />
<path d="M560 383.3L579.5 374.8L579.5 391.4Z" fill="#a8340a"/>
<circle cx="626.3" cy="396.8" r="8.7" fill="url(#gBall)"/>
</g>
<text x="626.8" y="308" font-size="31" text-anchor="middle" class="se" font-style="italic" fill="#9c3a14">a</text>
<text x="537.5" y="388.5" font-size="31" text-anchor="middle" class="se" font-style="italic" fill="#9c3a14">b</text>
<text x="626.3" y="436" font-size="31" text-anchor="middle" class="se" font-style="italic" fill="#9c3a14">c</text></g>
<g id="pb"><path d="M110.9 998.77L112.1 998.02L113.3 997.81L114.5 996.72L115.7 997.57L116.9 997.51L118.1 997.65L119.3 997.33L120.5 997.63L121.7 997.37L122.9 996.89L124.1 998.08L125.3 998.05L126.5 998.48L127.7 997.55L128.9 997.27L130.1 997.17L131.3 996.6L132.5 997.96L133.7 996.79L134.9 996.72L136.1 997.23L137.3 998.13L138.5 997.42L139.7 996.69L140.9 996.84L142.1 997.54L143.3 997.08L144.5 996.72L145.7 996.98L146.9 997.49L148.1 998.14L149.3 996.33L150.5 996.64L151.7 996.51L152.9 995.59L154.1 996.38L155.3 996.29L156.5 997.44L157.7 996.71L158.9 995.85L160.1 997.06L161.3 996.47L162.5 995.67L163.7 996.26L164.9 996.22L166.1 996.02L167.3 996.48L168.5 995.18L169.7 996.22L170.9 996.88L172.1 996.75L173.3 996.84L174.5 996.8L175.7 996.95L176.9 995.47L178.1 996.5L179.3 994.96L180.5 995.6L181.7 994.82L182.9 996.4L184.1 996.5L185.3 995.61L186.5 996.63L187.7 995.23L188.9 995.62L190.1 995.56L191.3 994.83L192.5 995.59L193.7 996.35L194.9 994.65L196.1 995.64L197.3 994.99L198.5 995.98L199.7 995.19L200.9 995.22L202.1 995.12L203.3 994.83L204.5 993.84L205.7 995.29L206.9 993.68L208.1 994.48L209.3 994.59L210.5 993.7L211.7 994.15L212.9 994.61L214.1 993.85L215.3 993.27L216.5 992.05L217.7 993.01L218.9 993.11L220.1 993.03L221.3 992.66L222.5 993.27L223.7 992.61L224.9 992.73L226.1 993.02L227.3 992.03L228.5 992.18L229.7 993.37L230.9 992.5L232.1 991.12L233.3 991.6L234.5 991.74L235.7 991.89L236.9 991.05L238.1 990.43L239.3 990.05L240.5 990.53L241.7 990.05L242.9 989.29L244.1 989.15L245.3 988.69L246.5 988.95L247.7 987.77L248.9 987.98L250.1 987.72L251.3 987.02L252.5 985.78L253.7 986.44L254.9 984.77L256.1 984.8L257.3 983.53L258.5 982.32L259.7 982.68L260.9 981.93L262.1 980.88L263.3 980.13L264.5 978.55L265.7 977.32L266.9 976.35L268.1 976.11L269.3 973.97L270.5 971.53L271.7 970.29L272.9 967.73L274.1 965.54L275.3 963.86L276.5 960.48L277.7 956.93L278.9 954.13L280.1 951.23L281.3 947.67L282.5 944.65L283.7 939.7L284.9 936.13L286.1 930.56L287.3 924.01L288.5 917.14L289.7 910.52L290.9 902.58L292.1 888.72L293.3 865.33L294.5 843.01L295.7 819.07L296.9 795.25L298.1 767.85L299.3 737.77L300.5 709.32L301.7 679.32L302.9 648.78L304.1 618.18L305.3 587.51L306.5 558.17L307.7 538.77L308.9 534.42L310.1 535.97L311.3 545.18L312.5 559.56L313.7 577.71L314.9 602.15L316.1 626.43L317.3 655.98L318.5 686.13L319.7 719.08L320.9 757.88L322.1 790.02L323.3 809.75L324.5 830.12L325.7 846.51L326.9 858.37L328.1 867.99L329.3 877.13L330.5 886.07L331.7 893.46L332.9 899.69L334.1 904.82L335.3 909.69L336.5 914.03L337.7 917.26L338.9 921.04L340.1 924.41L341.3 929.15L342.5 933.3L343.7 937.28L344.9 940.34L346.1 945.43L347.3 948.33L348.5 950.67L349.7 953.2L350.9 955.9L352.1 958.53L353.3 960.48L354.5 962.43L355.7 964.11L356.9 965.84L358.1 966.97L359.3 967.34L360.5 968.44L361.7 968.62L362.9 969L364.1 970.79L365.3 969.84L366.5 971.48L367.7 970.45L368.9 971.01L370.1 971.67L371.3 971.26L372.5 971.63L373.7 971.43L374.9 971.44L376.1 971.73L377.3 971.58L378.5 972.95L379.7 972.08L380.9 973.24L382.1 970.97L383.3 972.61L384.5 973.05L385.7 972.71L386.9 973.56L388.1 973.35L389.3 972.68L390.5 972.56L391.7 973.21L392.9 971.05L394.1 970.09L395.3 968.71L396.5 968.29L397.7 966.83L398.9 966.96L400.1 968.43L401.3 968.22L402.5 968.8L403.7 969.97L404.9 971.65L406.1 972.34L407.3 974.45L408.5 975.2L409.7 976.01L410.9 978.09L412.1 976.9L413.3 978.73L414.5 979.94L415.7 979.95L416.9 980.95L418.1 981.19L419.3 981.63L420.5 983.89L421.7 983.11L422.9 983.04L424.1 984.04L425.3 983.41L426.5 984.23L427.7 984.13L428.9 985.01L430.1 983.49L431.3 984.84L432.5 984.62L433.7 984.04L434.9 985.38L436.1 984.42L437.3 985.89L438.5 985.37L439.7 985.56L440.9 985.31L442.1 985.84L443.3 984.39L444.5 985.53L445.7 985.21L446.9 985.77L448.1 985.64L449.3 986.05L450.5 985.3L451.7 986.81L452.9 987.12L454.1 985.77L455.3 985.92L456.5 986.11L457.7 986.68L458.9 987.04L460.1 985.34L461.3 985.65L462.5 985.39L463.7 985.34L464.9 985.01L466.1 986.08L467.3 985.2L468.5 986.62L469.7 986.25L470.9 985.14L472.1 985.1L473.3 985.29L474.5 986.36L475.7 985.08L476.9 984.67L478.1 985.41L479.3 985.56L480.5 984.86L481.7 985.73L482.9 984.42L484.1 983.97L485.3 982.84L486.5 983.18L487.7 983.23L488.9 982.25L490.1 983.88L491.3 983.1L492.5 984.42L493.7 983.79L494.9 985.65L496.1 984.55L497.3 984.62L498.5 984.4L499.7 982.93L500.9 982.13L502.1 982.89L503.3 983.21L504.5 982.38L505.7 982.3L506.9 981.84L508.1 979.93L509.3 980.33L510.5 980.65L511.7 978.7L512.9 977.37L514.1 977.85L515.3 977.27L516.5 977.37L517.7 976.26L518.9 976.52L520.1 975.26L521.3 977.8L522.5 979.51L523.7 981.08L524.9 981.18L526.1 983.89L527.3 983.8L528.5 987.51L529.7 989.03L530.9 989.71L532.1 991.43L533.3 992.14L534.5 993.31L535.7 993.53L536.9 994.18L538.1 993.51L539.3 994.41L540.5 995.23L541.7 996.05L542.9 996.18L544.1 997.21L545.3 996.08L546.5 996.57L547.7 996.96L548.9 996.81L550.1 997.32L551.3 996.84L552.5 998.03L553.7 997.16L554.9 998.03L556.1 997.48L557.3 998.38L558.5 996.86L559.7 997.97L560.9 997.5L562.1 997.92L563.3 998.49L564.5 997.25L565.7 997.19L566.9 997.41L568.1 998.12L569.3 996.97L570.5 998.08L571.7 997.34L572.9 997.43L574.1 997.87L575.3 998.3L576.5 997.76L577.7 997.85L578.9 998.11L580.1 998L581.3 996.69L582.5 997.93L583.7 998.23L584.9 998.79L586.1 999.32L587.3 998.58L588.5 998.26L589.7 997.7L590.9 998.28L592.1 998.67L593.3 998.95L594.5 997.78L595.7 998.4L596.9 998.73L598.1 999.31L599.3 998.44L600.5 998.01L601.7 997.93L602.9 998.12L604.1 997.97L605.3 998.79L606.5 998.93L607.7 998.75L608.9 999.02L610.1 998.12L611.3 998.59L612.5 998.17L613.7 998.42L614.9 999.08L616.1 998.39L617.3 997.39L618.5 998.28L619.7 998.04L620.9 997.61L622.1 998.01L623.3 998.98L624.5 999.38L625.7 998.2L626.9 999.02L628.1 999.13L629.3 997.85L630.5 998.47L631.7 998.47L632.9 998.6L634.1 997.64L635.3 998.33L636.5 999.11L637.7 999.23L638.9 999.55L640.1 998.36L641.3 999.58L642.5 998.92L643.7 997.82L644.9 998.99L646.1 998.38L647.3 998.87L648.5 998.54L649.7 999.26L650.9 998.75L652.1 998.46L653.3 999.15L654.5 998.77L655.7 998.41L656.9 999.34L658.1 998.42L659.3 998.3L660.5 998.36L661.7 997.86L662.9 998.37L664.1 999.7L665.3 998.19L666.5 998.7L667.7 998.09L668.9 998.37L670.1 999.55L671.3 999.21L672.5 998.39L673.7 998.74L674.9 998.29L676.1 998.32L677.3 998.25L678.5 998.27L679.7 998.95L680.9 999.1L682.1 999.05L683.3 998.7L684.5 998.05L685.7 998.77L686.9 998.3L688.1 999.3L689.3 999.13L690.5 999.24L691.7 998.64L692.9 997.85L694.1 999.38L695.3 999.53L696.5 998.05L697.7 998.94L698.9 999.53L700.1 998.29L701.3 999.86L702.5 998.7L703.7 998.31L704.9 999.66L706.1 999.08L707.3 998.56L708.5 999.41L709.7 997.86L710.9 999.94L712.1 998.5L713.3 999.11L714.5 998.74L715.7 999.21L716.9 999.46L718.1 998.52L719.3 999.42L720.5 998.83L721.7 998.62L722.9 998.88" fill="none" stroke="#ff0000" stroke-width="2" stroke-linejoin="round"/>
<rect x="110.9" y="486.4" width="612.5" height="520.5" fill="none" stroke="#000" stroke-width="2.7"/>
<path d="M110.9 999h16.7M110.9 956.28h8M110.9 913.57h16.7M110.9 870.86h8M110.9 828.14h16.7M110.9 785.42h8M110.9 742.71h16.7M110.9 700h8M110.9 657.28h16.7M110.9 614.57h8M110.9 571.85h16.7M110.9 529.13h8M187.2 1006.9v-17.5M263.72 1006.9v-8.5M340.24 1006.9v-17.5M416.76 1006.9v-8.5M493.28 1006.9v-17.5M569.8 1006.9v-8.5M646.32 1006.9v-17.5" stroke="#000" stroke-width="2.6" fill="none"/>
<text x="97.2" y="1006.7" font-size="26" text-anchor="end">0</text>
<text x="97.2" y="921.27" font-size="26" text-anchor="end">1000</text>
<text x="97.2" y="835.84" font-size="26" text-anchor="end">2000</text>
<text x="97.2" y="750.41" font-size="26" text-anchor="end">3000</text>
<text x="97.2" y="664.98" font-size="26" text-anchor="end">4000</text>
<text x="97.2" y="579.55" font-size="26" text-anchor="end">5000</text>
<text x="97.2" y="494.12" font-size="26" text-anchor="end">6000</text>
<text x="187.7" y="1040" font-size="26" text-anchor="middle">1.474</text>
<text x="340.74" y="1040" font-size="26" text-anchor="middle">1.476</text>
<text x="493.78" y="1040" font-size="26" text-anchor="middle">1.478</text>
<text x="646.82" y="1040" font-size="26" text-anchor="middle">1.480</text>
<text x="416" y="1088" font-size="33.8" text-anchor="middle">Energy (eV)</text>
<text transform="translate(25.3 745.5) rotate(-90)" font-size="33.8" text-anchor="middle">Intensity (arb. units)</text>
<text x="3.4" y="506" font-size="36" font-weight="bold">b</text>
<text x="309.3" y="522.5" font-size="32" text-anchor="middle">X</text>
<text x="387.3" y="909.4" font-size="34.5">S<tspan class="se" font-size="25" dy="10" dx="0.5">α</tspan></text>
<text x="505.8" y="919.3" font-size="34.5">S<tspan class="se" font-size="24" dy="9.5" dx="1.5">β</tspan></text>
<line x1="399.6" y1="915.5" x2="399.6" y2="948.5" stroke="#000" stroke-width="3" />
<path d="M399.6 963.5L393.3 944.7L405.9 944.7Z" fill="#000"/>
<line x1="519.3" y1="924" x2="519.3" y2="957.5" stroke="#000" stroke-width="3" />
<path d="M519.3 972.5L513 953.7L525.6 953.7Z" fill="#000"/>
<svg x="380" y="527" width="290" height="257.6" viewBox="0 0 290 257.6" overflow="hidden">
<rect width="290" height="257.6" fill="#30201f"/>
<g filter="url(#pblur)">
<polygon points="148.1,-3 263,-3 143.3,129.3 133.7,131.7 111.4,123.8 85.8,114.2 73.1,103 69.5,91.8 71.5,83.8 85.8,69.5" fill="url(#gF1)"/>
<polygon points="264,-3 293,-3 293,108 254.7,94.6 202.4,83.8 196.2,79.2" fill="url(#gF2)"/>
<polygon points="196.2,79.2 202.4,83.8 254.7,94.6 293,108 293,217 279.4,229.3 148.5,200.9 140,153 133.1,151.6 142.3,134.6" fill="#4a3250"/>
<polygon points="202.4,193.2 293,129 293,217 279.4,229.3 170,206" fill="#5c3e58"/>
<polygon points="156,199 279.4,227.8 293,216 293,203 276,213.5 166,188" fill="#7a5a7a" opacity="0.85"/>
<polygon points="281,172 293,167 293,204 283,200" fill="#a27a92"/>
<polyline points="264.3,-3 142.3,134.6 133.1,151.6" fill="none" stroke="#1c0a22" stroke-width="2.7"/>
<polyline points="148.1,-1 85.8,69.5 71.5,83.8 69.5,91.8 73.1,103 85.8,114.2 111.4,123.8 133.7,131.7 143.3,129.3" fill="none" stroke="#2c1628" stroke-width="1.6"/>
<polyline points="148.5,201.5 279.4,230 293,217.5" fill="none" stroke="#2a1430" stroke-width="1.6"/>
<polygon points="139.3,153.1 156.2,156.2 167,177.8 160.8,194.7 130,200.1 126.2,177.8 133.1,159.3" fill="#06063a"/>
<polyline points="278.6,-2 291,33" fill="none" stroke="#5a3020" stroke-width="2.2"/>
<polygon points="238,53 293,42 293,73" fill="#d8a458" opacity="0.9"/>
<polygon points="252,54.8 293,46 293,67.5" fill="#4e5c34"/>
</g>
<circle cx="117.3" cy="101.1" r="6.4" fill="#ff0000"/>
<rect x="18.8" y="238.8" width="83" height="3.3" fill="#fff"/>
<text x="18.3" y="226" font-size="33" class="se" fill="#fff">10 μm</text>
</svg></g>
<g id="pc"><g shape-rendering="crispEdges">
<rect x="869.5" y="1" width="521.9" height="19" fill="url(#h1)"/>
<rect x="869.5" y="1" width="521.9" height="19" fill="url(#h0)" mask="url(#fade)"/>
<rect x="869.5" y="20" width="521.9" height="33" fill="url(#h2)"/>
<rect x="869.5" y="20" width="521.9" height="33" fill="url(#h1)" mask="url(#fade)"/>
<rect x="869.5" y="53" width="521.9" height="32" fill="url(#h3)"/>
<rect x="869.5" y="53" width="521.9" height="32" fill="url(#h2)" mask="url(#fade)"/>
<rect x="869.5" y="85" width="521.9" height="32" fill="url(#h4)"/>
<rect x="869.5" y="85" width="521.9" height="32" fill="url(#h3)" mask="url(#fade)"/>
<rect x="869.5" y="117" width="521.9" height="32" fill="url(#h5)"/>
<rect x="869.5" y="117" width="521.9" height="32" fill="url(#h4)" mask="url(#fade)"/>
<rect x="869.5" y="149" width="521.9" height="32" fill="url(#h6)"/>
<rect x="869.5" y="149" width="521.9" height="32" fill="url(#h5)" mask="url(#fade)"/>
<rect x="869.5" y="181" width="521.9" height="32" fill="url(#h7)"/>
<rect x="869.5" y="181" width="521.9" height="32" fill="url(#h6)" mask="url(#fade)"/>
<rect x="869.5" y="213" width="521.9" height="32" fill="url(#h8)"/>
<rect x="869.5" y="213" width="521.9" height="32" fill="url(#h7)" mask="url(#fade)"/>
<rect x="869.5" y="245" width="521.9" height="32" fill="url(#h9)"/>
<rect x="869.5" y="245" width="521.9" height="32" fill="url(#h8)" mask="url(#fade)"/>
<rect x="869.5" y="277" width="521.9" height="16" fill="url(#h10)"/>
<rect x="869.5" y="277" width="521.9" height="16" fill="url(#h9)" mask="url(#fade)"/>
<rect x="869.5" y="293" width="521.9" height="16" fill="url(#h11)"/>
<rect x="869.5" y="293" width="521.9" height="16" fill="url(#h10)" mask="url(#fade)"/>
<rect x="869.5" y="309" width="521.9" height="16" fill="url(#h12)"/>
<rect x="869.5" y="309" width="521.9" height="16" fill="url(#h11)" mask="url(#fade)"/>
<rect x="869.5" y="325" width="521.9" height="17" fill="url(#h13)"/>
<rect x="869.5" y="325" width="521.9" height="17" fill="url(#h12)" mask="url(#fade)"/>
<rect x="869.5" y="342" width="521.9" height="32" fill="url(#h14)"/>
<rect x="869.5" y="342" width="521.9" height="32" fill="url(#h13)" mask="url(#fade)"/>
<rect x="869.5" y="374" width="521.9" height="32" fill="url(#h15)"/>
<rect x="869.5" y="374" width="521.9" height="32" fill="url(#h14)" mask="url(#fade)"/>
<rect x="869.5" y="406" width="521.9" height="32" fill="url(#h16)"/>
<rect x="869.5" y="406" width="521.9" height="32" fill="url(#h15)" mask="url(#fade)"/>
<rect x="869.5" y="438" width="521.9" height="32" fill="url(#h17)"/>
<rect x="869.5" y="438" width="521.9" height="32" fill="url(#h16)" mask="url(#fade)"/>
<rect x="869.5" y="470" width="521.9" height="32" fill="url(#h18)"/>
<rect x="869.5" y="470" width="521.9" height="32" fill="url(#h17)" mask="url(#fade)"/>
<rect x="869.5" y="502" width="521.9" height="32" fill="url(#h19)"/>
<rect x="869.5" y="502" width="521.9" height="32" fill="url(#h18)" mask="url(#fade)"/>
<rect x="869.5" y="534" width="521.9" height="32" fill="url(#h20)"/>
<rect x="869.5" y="534" width="521.9" height="32" fill="url(#h19)" mask="url(#fade)"/>
<rect x="869.5" y="566" width="521.9" height="32" fill="url(#h21)"/>
<rect x="869.5" y="566" width="521.9" height="32" fill="url(#h20)" mask="url(#fade)"/>
<rect x="869.5" y="598" width="521.9" height="32" fill="url(#h22)"/>
<rect x="869.5" y="598" width="521.9" height="32" fill="url(#h21)" mask="url(#fade)"/>
<rect x="869.5" y="630" width="521.9" height="32" fill="url(#h23)"/>
<rect x="869.5" y="630" width="521.9" height="32" fill="url(#h22)" mask="url(#fade)"/>
<rect x="869.5" y="662" width="521.9" height="17" fill="url(#h24)"/>
<rect x="869.5" y="662" width="521.9" height="17" fill="url(#h23)" mask="url(#fade)"/>
<rect x="869.5" y="679" width="521.9" height="16" fill="url(#h25)"/>
<rect x="869.5" y="679" width="521.9" height="16" fill="url(#h24)" mask="url(#fade)"/>
<rect x="869.5" y="695" width="521.9" height="16" fill="url(#h26)"/>
<rect x="869.5" y="695" width="521.9" height="16" fill="url(#h25)" mask="url(#fade)"/>
<rect x="869.5" y="711" width="521.9" height="16" fill="url(#h27)"/>
<rect x="869.5" y="711" width="521.9" height="16" fill="url(#h26)" mask="url(#fade)"/>
<rect x="869.5" y="727" width="521.9" height="32" fill="url(#h28)"/>
<rect x="869.5" y="727" width="521.9" height="32" fill="url(#h27)" mask="url(#fade)"/>
<rect x="869.5" y="759" width="521.9" height="32" fill="url(#h29)"/>
<rect x="869.5" y="759" width="521.9" height="32" fill="url(#h28)" mask="url(#fade)"/>
<rect x="869.5" y="791" width="521.9" height="32" fill="url(#h30)"/>
<rect x="869.5" y="791" width="521.9" height="32" fill="url(#h29)" mask="url(#fade)"/>
<rect x="869.5" y="823" width="521.9" height="32" fill="url(#h31)"/>
<rect x="869.5" y="823" width="521.9" height="32" fill="url(#h30)" mask="url(#fade)"/>
<rect x="869.5" y="855" width="521.9" height="32" fill="url(#h32)"/>
<rect x="869.5" y="855" width="521.9" height="32" fill="url(#h31)" mask="url(#fade)"/>
<rect x="869.5" y="887" width="521.9" height="32" fill="url(#h33)"/>
<rect x="869.5" y="887" width="521.9" height="32" fill="url(#h32)" mask="url(#fade)"/>
<rect x="869.5" y="919" width="521.9" height="32" fill="url(#h34)"/>
<rect x="869.5" y="919" width="521.9" height="32" fill="url(#h33)" mask="url(#fade)"/>
<rect x="869.5" y="951" width="521.9" height="33" fill="url(#h35)"/>
<rect x="869.5" y="951" width="521.9" height="33" fill="url(#h34)" mask="url(#fade)"/>
<rect x="869.5" y="984" width="521.9" height="16" fill="url(#h36)"/>
<rect x="869.5" y="984" width="521.9" height="16" fill="url(#h35)" mask="url(#fade)"/>
</g>
<path d="M868.9 2.8V999.6H1391.4V2.8" fill="none" stroke="#0a0a20" stroke-width="1.7"/>
<path d="M867.4 3.8H1392.2" fill="none" stroke="#000" stroke-width="2"/>
<path d="M868.9 983.5h-11M868.9 903.25h-5.5M868.9 823h-11M868.9 742.75h-5.5M868.9 662.5h-11M868.9 582.25h-5.5M868.9 502h-11M868.9 421.75h-5.5M868.9 341.5h-11M868.9 261.25h-5.5M868.9 181h-11M868.9 100.75h-5.5M868.9 20.5h-11M868.9 999.6v6M963.6 999.6v12M1058.3 999.6v6M1153 999.6v12M1247.7 999.6v6M1342.4 999.6v12" stroke="#111" stroke-width="1.8" fill="none"/>
<text x="851.2" y="991.8" font-size="27.5" text-anchor="end">-30</text>
<text x="851.2" y="831.3" font-size="27.5" text-anchor="end">-20</text>
<text x="851.2" y="670.8" font-size="27.5" text-anchor="end">-10</text>
<text x="851.2" y="510.3" font-size="27.5" text-anchor="end">0</text>
<text x="851.2" y="349.8" font-size="27.5" text-anchor="end">10</text>
<text x="851.2" y="189.3" font-size="27.5" text-anchor="end">20</text>
<text x="851.2" y="28.8" font-size="27.5" text-anchor="end">30</text>
<text x="964.1" y="1039.6" font-size="27.5" text-anchor="middle">1.474</text>
<text x="1153.5" y="1039.6" font-size="27.5" text-anchor="middle">1.476</text>
<text x="1342.9" y="1039.6" font-size="27.5" text-anchor="middle">1.478</text>
<text x="1130" y="1086.7" font-size="33.8" text-anchor="middle">Energy (eV)</text>
<text transform="translate(801.2 501.3) rotate(-90)" font-size="33.8" text-anchor="middle">Magnetic field (T)</text>
<text x="782" y="59.2" font-size="36" font-weight="bold">c</text>
<text x="894.3" y="55" font-size="33" class="se" fill="#fff"><tspan font-weight="bold">B</tspan> // <tspan font-style="italic">a</tspan> axis</text>
<rect x="1297.3" y="108.1" width="13.6" height="320.9" fill="url(#cbar)" stroke="#fff" stroke-width="2"/>
<rect x="1298.3" y="106.6" width="11.6" height="2" fill="#f00"/>
<text x="1331.5" y="119.4" font-size="23" fill="#fff">1.0</text>
<text x="1331.5" y="182.5" font-size="23" fill="#fff">0.8</text>
<text x="1331.5" y="245.6" font-size="23" fill="#fff">0.6</text>
<text x="1331.5" y="308.7" font-size="23" fill="#fff">0.4</text>
<text x="1331.5" y="371.8" font-size="23" fill="#fff">0.2</text>
<text x="1331.5" y="434.9" font-size="23" fill="#fff">0.0</text>
<path d="M1311 111.4h10.4M1311 174.5h10.4M1311 237.6h10.4M1311 300.7h10.4M1311 363.8h10.4M1311 426.9h10.4" stroke="#fff" stroke-width="2" fill="none"/>
<text x="1274" y="71.2" font-size="26" fill="#fff">Intensity</text></g>
<g id="pd"><clipPath id="dclip"><rect x="1477" y="0" width="518.6" height="997"/></clipPath>
<g clip-path="url(#dclip)" fill="none" stroke-width="2.6" stroke-linejoin="round">
<path d="M1479.85 985.49L1487.53 983.98L1495.21 989.95L1502.88 984.23L1510.56 985.05L1518.24 988.14L1525.92 982.58L1533.59 983.2L1541.27 985L1548.95 983.68L1556.62 981.61L1564.3 983.63L1571.98 983.33L1579.66 984.98L1587.33 979.7L1595.01 981.4L1602.69 984.99L1610.36 985.89L1618.04 977.24L1625.72 980.97L1633.4 975.72L1641.07 973.87L1648.75 971.59L1656.43 967.02L1664.1 963.03L1671.78 950.36L1679.46 932.22L1687.14 911.62L1694.81 881.19L1702.49 850.34L1710.17 832.27L1717.84 821.27L1725.52 836.85L1733.2 860.55L1740.88 885.05L1748.55 919.43L1756.23 940.05L1763.91 958.32L1771.58 963.9L1779.26 976.52L1786.94 974.88L1794.62 978.35L1802.29 981.54L1809.97 983.61L1817.65 985.02L1825.32 988.11L1833 988.33L1840.68 987.9L1848.36 986.98L1856.03 988.28L1863.71 991.7L1871.39 989.7L1879.06 986.88L1886.74 988.55L1894.42 989.06L1902.1 993.12L1909.77 990.64L1917.45 996.2L1925.13 992.96L1932.81 991.94L1940.48 990.98L1948.16 994.4L1955.84 991.92L1963.51 990.83L1971.19 994.11L1978.87 993.07L1986.55 995.91L1994.22 993.34" stroke="#b00e16"/>
<path d="M1479.85 931.45L1487.53 928.43L1495.21 928.54L1502.88 930.03L1510.56 930.54L1518.24 930.04L1525.92 929.16L1533.59 924.94L1541.27 922.72L1548.95 928.09L1556.62 925.63L1564.3 925.42L1571.98 923.14L1579.66 922.18L1587.33 927.27L1595.01 924.44L1602.69 920.41L1610.36 922.33L1618.04 920.77L1625.72 919.66L1633.4 919.54L1641.07 910.02L1648.75 900.13L1656.43 893.48L1664.1 880.68L1671.78 867.48L1679.46 847.64L1687.14 830.38L1694.81 820.23L1702.49 820.94L1710.17 813.47L1717.84 811.79L1725.52 799.59L1733.2 808.01L1740.88 810.93L1748.55 826.3L1756.23 854.13L1763.91 872.08L1771.58 888.15L1779.26 898.82L1786.94 907.86L1794.62 908.77L1802.29 920.43L1809.97 919.48L1817.65 925.3L1825.32 923.61L1833 925.76L1840.68 926.76L1848.36 925.72L1856.03 928.34L1863.71 930.4L1871.39 928.89L1879.06 927.4L1886.74 929.49L1894.42 931.46L1902.1 933.86L1909.77 933.56L1917.45 932.56L1925.13 930.07L1932.81 934.42L1940.48 932.73L1948.16 932.43L1955.84 935.18L1963.51 934.76L1971.19 934.63L1978.87 931.2L1986.55 932.58L1994.22 930.34" stroke="#ff3a0c"/>
<path d="M1479.85 865.31L1487.53 866.79L1495.21 871.27L1502.88 865.23L1510.56 869.35L1518.24 866.96L1525.92 869.87L1533.59 866.03L1541.27 867.56L1548.95 862.9L1556.62 866.75L1564.3 869.06L1571.98 863.15L1579.66 868.17L1587.33 863.05L1595.01 863.66L1602.69 856.03L1610.36 861.99L1618.04 853.92L1625.72 848.41L1633.4 838.67L1641.07 826.11L1648.75 814.39L1656.43 797.65L1664.1 785.82L1671.78 788.44L1679.46 790.39L1687.14 802.07L1694.81 818.9L1702.49 835.73L1710.17 835.98L1717.84 835.31L1725.52 831.27L1733.2 819.59L1740.88 810.13L1748.55 783.41L1756.23 767.19L1763.91 780.92L1771.58 782.44L1779.26 798.23L1786.94 820.16L1794.62 838.46L1802.29 848.63L1809.97 854.44L1817.65 865.08L1825.32 863.32L1833 863.68L1840.68 865.83L1848.36 867.74L1856.03 868.39L1863.71 869.84L1871.39 871.16L1879.06 864.17L1886.74 870.04L1894.42 874.17L1902.1 873.78L1909.77 871.52L1917.45 871.78L1925.13 876.04L1932.81 873.27L1940.48 872.78L1948.16 878.34L1955.84 873.65L1963.51 876.13L1971.19 874.77L1978.87 875.12L1986.55 873.1L1994.22 873.51" stroke="#ff7410"/>
<path d="M1479.85 810.68L1487.53 809L1495.21 808.36L1502.88 806.99L1510.56 806.37L1518.24 807.44L1525.92 810.47L1533.59 806.8L1541.27 811.29L1548.95 808.38L1556.62 806.92L1564.3 803.02L1571.98 808.86L1579.66 798.65L1587.33 800.21L1595.01 796.63L1602.69 785.91L1610.36 773.61L1618.04 765.84L1625.72 747.55L1633.4 736.86L1641.07 727.9L1648.75 723.43L1656.43 733.58L1664.1 749.87L1671.78 759.81L1679.46 774.86L1687.14 788.82L1694.81 788.15L1702.49 795.94L1710.17 794.33L1717.84 796.22L1725.52 793.72L1733.2 786.01L1740.88 783.13L1748.55 777.32L1756.23 762.95L1763.91 741.24L1771.58 725.77L1779.26 712L1786.94 713.77L1794.62 717.13L1802.29 743.41L1809.97 752.99L1817.65 775.51L1825.32 783.07L1833 791.68L1840.68 796.87L1848.36 803.14L1856.03 805.6L1863.71 805.71L1871.39 809.02L1879.06 810.9L1886.74 810.87L1894.42 813.98L1902.1 810.7L1909.77 815.53L1917.45 813.64L1925.13 815.3L1932.81 810.81L1940.48 815.35L1948.16 815.17L1955.84 817.81L1963.51 813.38L1971.19 819.12L1978.87 814.01L1986.55 819.44L1994.22 817.96" stroke="#ffa20c"/>
<path d="M1479.85 753.79L1487.53 752.26L1495.21 751.53L1502.88 754.91L1510.56 753.9L1518.24 748.81L1525.92 747.34L1533.59 744.91L1541.27 748.01L1548.95 745.67L1556.62 746.07L1564.3 742.59L1571.98 735.66L1579.66 729.25L1587.33 716.33L1595.01 711.12L1602.69 692.3L1610.36 674.68L1618.04 662.57L1625.72 663.72L1633.4 677.5L1641.07 692.19L1648.75 706.81L1656.43 725.04L1664.1 728.93L1671.78 738.54L1679.46 741.5L1687.14 742.33L1694.81 748.74L1702.49 747.69L1710.17 748.18L1717.84 742.27L1725.52 747.73L1733.2 748.09L1740.88 745L1748.55 742.16L1756.23 740.64L1763.91 732.68L1771.58 721.61L1779.26 709.73L1786.94 695.4L1794.62 669.22L1802.29 665.01L1809.97 660.49L1817.65 668L1825.32 689.69L1833 698.97L1840.68 719.51L1848.36 725.94L1856.03 737.47L1863.71 743.85L1871.39 747.76L1879.06 748.94L1886.74 748.91L1894.42 750.68L1902.1 756.98L1909.77 753.24L1917.45 754.56L1925.13 759.36L1932.81 751.82L1940.48 751.52L1948.16 754.19L1955.84 755.88L1963.51 754.45L1971.19 757.07L1978.87 757.36L1986.55 754.22L1994.22 758.1" stroke="#ffd400"/>
<path d="M1479.85 691.05L1487.53 689.94L1495.21 687.66L1502.88 688.7L1510.56 687.45L1518.24 683.95L1525.92 684.25L1533.59 679.92L1541.27 678.48L1548.95 672.7L1556.62 668.82L1564.3 663.08L1571.98 646.03L1579.66 633.53L1587.33 615.7L1595.01 603.61L1602.69 603.07L1610.36 620.94L1618.04 630.74L1625.72 647.61L1633.4 655.97L1641.07 667.49L1648.75 670.06L1656.43 679.91L1664.1 684.4L1671.78 685.62L1679.46 684.92L1687.14 688.72L1694.81 689.9L1702.49 689.24L1710.17 688.05L1717.84 689.55L1725.52 689.69L1733.2 689.79L1740.88 690.15L1748.55 688.22L1756.23 683.23L1763.91 684.14L1771.58 682.47L1779.26 674.66L1786.94 668.28L1794.62 655.58L1802.29 644.86L1809.97 628.67L1817.65 608.51L1825.32 606.43L1833 595.39L1840.68 605.23L1848.36 630.69L1856.03 642L1863.71 660.46L1871.39 666.59L1879.06 675.27L1886.74 685.17L1894.42 689L1902.1 688.99L1909.77 695.39L1917.45 693.87L1925.13 692.75L1932.81 694.98L1940.48 696.62L1948.16 697.07L1955.84 696.16L1963.51 698.49L1971.19 695.79L1978.87 698.26L1986.55 700.54L1994.22 698.35" stroke="#a6ee30"/>
<path d="M1479.85 629.36L1487.53 626.96L1495.21 632.74L1502.88 635.42L1510.56 630.13L1518.24 624.26L1525.92 628.56L1533.59 626.38L1541.27 623.63L1548.95 624.29L1556.62 616.51L1564.3 609.75L1571.98 594.89L1579.66 586.62L1587.33 570.8L1595.01 563.98L1602.69 551.44L1610.36 559.94L1618.04 569.58L1625.72 582.23L1633.4 591.51L1641.07 606.33L1648.75 609.73L1656.43 616.69L1664.1 621.87L1671.78 631.15L1679.46 628.8L1687.14 627.84L1694.81 631.31L1702.49 635.85L1710.17 630.81L1717.84 629.07L1725.52 628.99L1733.2 630.88L1740.88 634.18L1748.55 629.62L1756.23 627.95L1763.91 623.98L1771.58 621.29L1779.26 620.9L1786.94 611.77L1794.62 603.83L1802.29 587.42L1809.97 579.56L1817.65 564.4L1825.32 558.25L1833 554.38L1840.68 559.22L1848.36 574.03L1856.03 587.02L1863.71 598.52L1871.39 608.38L1879.06 618.62L1886.74 628.54L1894.42 627.83L1902.1 634.21L1909.77 631.92L1917.45 632.82L1925.13 634.93L1932.81 634.85L1940.48 638.57L1948.16 639.43L1955.84 631.74L1963.51 639.47L1971.19 638.97L1978.87 642.16L1986.55 636.79L1994.22 639.35" stroke="#50ea84"/>
<path d="M1479.85 577.66L1487.53 579.32L1495.21 577.96L1502.88 577.03L1510.56 577.87L1518.24 575.25L1525.92 578.18L1533.59 576.63L1541.27 576.6L1548.95 575.01L1556.62 573.83L1564.3 572.62L1571.98 573.28L1579.66 574.72L1587.33 568.61L1595.01 571.28L1602.69 577.05L1610.36 566.44L1618.04 560.76L1625.72 556.55L1633.4 547.01L1641.07 537.99L1648.75 527.82L1656.43 515.72L1664.1 508.25L1671.78 505.54L1679.46 502.39L1687.14 510.92L1694.81 523.91L1702.49 529.02L1710.17 545.41L1717.84 549.09L1725.52 553.42L1733.2 551.47L1740.88 546.19L1748.55 544.46L1756.23 539L1763.91 532.65L1771.58 526.03L1779.26 517.05L1786.94 509.89L1794.62 513.64L1802.29 521.28L1809.97 530.29L1817.65 536.32L1825.32 544.48L1833 552.99L1840.68 558.34L1848.36 564.63L1856.03 568.18L1863.71 572.06L1871.39 572.68L1879.06 574.05L1886.74 578.69L1894.42 579.65L1902.1 572.72L1909.77 578.41L1917.45 579.32L1925.13 580.6L1932.81 574.53L1940.48 575.84L1948.16 578.78L1955.84 580.14L1963.51 577.7L1971.19 582.9L1978.87 582.87L1986.55 582.23L1994.22 582.93" stroke="#00f0fa"/>
<path d="M1479.85 519.25L1487.53 520.57L1495.21 523.08L1502.88 518.66L1510.56 517.29L1518.24 517.31L1525.92 518.02L1533.59 521.41L1541.27 519.63L1548.95 516.47L1556.62 515.37L1564.3 517.63L1571.98 519.13L1579.66 513.47L1587.33 517.6L1595.01 513.08L1602.69 510.62L1610.36 507.22L1618.04 504.47L1625.72 498.35L1633.4 496.69L1641.07 480.99L1648.75 471.08L1656.43 458.68L1664.1 446.28L1671.78 435.9L1679.46 424.47L1687.14 427.96L1694.81 441.44L1702.49 446.41L1710.17 462.33L1717.84 466.53L1725.52 468.16L1733.2 472.61L1740.88 474.91L1748.55 465.3L1756.23 463.77L1763.91 462.12L1771.58 462.04L1779.26 456.91L1786.94 468.28L1794.62 472.23L1802.29 484.16L1809.97 487.39L1817.65 495.46L1825.32 501.16L1833 506.32L1840.68 513.94L1848.36 511.63L1856.03 514.18L1863.71 515.76L1871.39 517.03L1879.06 512.5L1886.74 519.46L1894.42 515.41L1902.1 514.44L1909.77 519.62L1917.45 517.01L1925.13 520.53L1932.81 522.69L1940.48 520.56L1948.16 518.61L1955.84 521.06L1963.51 525.63L1971.19 521.39L1978.87 525.32L1986.55 524.82L1994.22 519.16" stroke="#1a8cf0"/>
<path d="M1479.85 460.96L1487.53 458.13L1495.21 463.56L1502.88 462.2L1510.56 460.67L1518.24 461.12L1525.92 458.51L1533.59 455.47L1541.27 455.48L1548.95 459.91L1556.62 452.81L1564.3 461.53L1571.98 458.41L1579.66 455.38L1587.33 455.35L1595.01 452.29L1602.69 454.43L1610.36 454.03L1618.04 454.01L1625.72 445.77L1633.4 447.29L1641.07 439.31L1648.75 429.33L1656.43 419.76L1664.1 408.67L1671.78 394.09L1679.46 380.39L1687.14 372.66L1694.81 365.34L1702.49 369.52L1710.17 384.65L1717.84 394.03L1725.52 398.3L1733.2 407.17L1740.88 412.37L1748.55 401.33L1756.23 401.08L1763.91 402.74L1771.58 401.16L1779.26 407.48L1786.94 418.88L1794.62 426.75L1802.29 436.37L1809.97 447.41L1817.65 447.48L1825.32 449.45L1833 453.05L1840.68 455.92L1848.36 459.19L1856.03 458.01L1863.71 460.15L1871.39 456.92L1879.06 457.71L1886.74 460.1L1894.42 462.77L1902.1 459.14L1909.77 464.41L1917.45 459.81L1925.13 462.4L1932.81 462.33L1940.48 466.08L1948.16 460.68L1955.84 460.97L1963.51 462.49L1971.19 464.84L1978.87 465.01L1986.55 460.87L1994.22 462" stroke="#0c38f0"/>
<path d="M1479.85 402.07L1487.53 399.99L1495.21 400.16L1502.88 402.07L1510.56 401.07L1518.24 395.95L1525.92 401.25L1533.59 394.18L1541.27 397.27L1548.95 400.49L1556.62 394.55L1564.3 400.47L1571.98 402.75L1579.66 397.19L1587.33 392.92L1595.01 399.95L1602.69 393.27L1610.36 391.9L1618.04 390.53L1625.72 390.4L1633.4 387.13L1641.07 386.94L1648.75 374.81L1656.43 363.45L1664.1 350.32L1671.78 336.47L1679.46 320.75L1687.14 299.6L1694.81 290.12L1702.49 290.75L1710.17 293.59L1717.84 310.13L1725.52 312.36L1733.2 325.98L1740.88 325.2L1748.55 328.39L1756.23 328.02L1763.91 344.97L1771.58 350.44L1779.26 357.85L1786.94 368.02L1794.62 380.15L1802.29 382.74L1809.97 388.27L1817.65 391.16L1825.32 396.14L1833 395.82L1840.68 397.67L1848.36 401.44L1856.03 401.14L1863.71 402.53L1871.39 405.98L1879.06 398.45L1886.74 402.19L1894.42 404.04L1902.1 407.56L1909.77 402.36L1917.45 404.92L1925.13 406.57L1932.81 403.25L1940.48 405.03L1948.16 406.22L1955.84 405.4L1963.51 408.05L1971.19 408.89L1978.87 406.25L1986.55 408.85L1994.22 408.62" stroke="#4a0cf0"/>
<path d="M1479.85 343.52L1487.53 342.94L1495.21 345.52L1502.88 344.55L1510.56 341.55L1518.24 341.34L1525.92 337.93L1533.59 341.95L1541.27 341.68L1548.95 343.1L1556.62 340.24L1564.3 340.73L1571.98 339.93L1579.66 339.62L1587.33 339.3L1595.01 337.77L1602.69 340.69L1610.36 336.68L1618.04 336.41L1625.72 333.79L1633.4 327.99L1641.07 321.22L1648.75 314.86L1656.43 306.5L1664.1 286.47L1671.78 262.35L1679.46 242.62L1687.14 213.71L1694.81 206.89L1702.49 204.32L1710.17 207.59L1717.84 241.17L1725.52 246.49L1733.2 260.43L1740.88 253.05L1748.55 257.01L1756.23 255.99L1763.91 265.34L1771.58 280.46L1779.26 295.97L1786.94 312.58L1794.62 320.2L1802.29 327.74L1809.97 328.21L1817.65 333.15L1825.32 337.34L1833 338.75L1840.68 339.86L1848.36 343.95L1856.03 340.45L1863.71 341.83L1871.39 342.41L1879.06 345.28L1886.74 341.91L1894.42 342.41L1902.1 342.89L1909.77 341.66L1917.45 345.17L1925.13 344.41L1932.81 341.53L1940.48 345.08L1948.16 346.57L1955.84 350.14L1963.51 346.63L1971.19 349.98L1978.87 347.6L1986.55 350.25L1994.22 344.77" stroke="#8a10f0"/>
<path d="M1479.85 289.3L1487.53 290L1495.21 286.76L1502.88 289.72L1510.56 287.98L1518.24 287.43L1525.92 290.14L1533.59 283.33L1541.27 287.62L1548.95 283.98L1556.62 285.54L1564.3 279.83L1571.98 285.9L1579.66 286.32L1587.33 280.24L1595.01 285.28L1602.69 279.57L1610.36 279.37L1618.04 275.11L1625.72 275.56L1633.4 268.68L1641.07 266.29L1648.75 254.74L1656.43 240.49L1664.1 222.25L1671.78 202.4L1679.46 173.58L1687.14 150.79L1694.81 144.15L1702.49 143.58L1710.17 169.23L1717.84 184.95L1725.52 199.81L1733.2 206.7L1740.88 212.39L1748.55 216.04L1756.23 227.6L1763.91 237.14L1771.58 244.51L1779.26 256.45L1786.94 261.93L1794.62 266.99L1802.29 276.02L1809.97 275.46L1817.65 275.33L1825.32 279.4L1833 281.71L1840.68 282.23L1848.36 285.06L1856.03 283.62L1863.71 285.66L1871.39 287.59L1879.06 284.34L1886.74 285.15L1894.42 289.96L1902.1 288.17L1909.77 289.59L1917.45 287.44L1925.13 287.95L1932.81 287.81L1940.48 286.57L1948.16 290.91L1955.84 286.04L1963.51 287.25L1971.19 286.31L1978.87 292.93L1986.55 287.15L1994.22 291.65" stroke="#d40cf5"/>
<path d="M1479.85 226.04L1487.53 226.23L1495.21 226.07L1502.88 225.77L1510.56 222.24L1518.24 222.28L1525.92 220.99L1533.59 225.14L1541.27 225.75L1548.95 225.41L1556.62 227.45L1564.3 222.9L1571.98 225.62L1579.66 222.77L1587.33 223.5L1595.01 219.23L1602.69 219.7L1610.36 216.58L1618.04 213.75L1625.72 207.97L1633.4 211.32L1641.07 201.84L1648.75 196.4L1656.43 172.69L1664.1 157L1671.78 122.63L1679.46 98.09L1687.14 87.44L1694.81 91.45L1702.49 110.54L1710.17 118.44L1717.84 127.53L1725.52 138.52L1733.2 149.5L1740.88 146.56L1748.55 155.94L1756.23 168.83L1763.91 178.29L1771.58 190.85L1779.26 199.68L1786.94 208.64L1794.62 215.07L1802.29 213.94L1809.97 222.67L1817.65 218.9L1825.32 219.89L1833 224.91L1840.68 222.17L1848.36 222.51L1856.03 227.39L1863.71 225.33L1871.39 225.09L1879.06 225.02L1886.74 225.02L1894.42 227.89L1902.1 227.36L1909.77 226.43L1917.45 232.77L1925.13 229.78L1932.81 225.59L1940.48 229.34L1948.16 227.23L1955.84 227.77L1963.51 233.28L1971.19 232.08L1978.87 229.96L1986.55 231.92L1994.22 226.38" stroke="#a00cb4"/>
</g>
<line x1="1690.2" y1="59" x2="1690.2" y2="476" stroke="#000" stroke-width="2.6" stroke-dasharray="10 6"/>
<line x1="1758" y1="86" x2="1758" y2="489" stroke="#000" stroke-width="2.6" stroke-dasharray="10 6"/>
<path d="M1579.4 583.8L1715.6 910L1841.2 582.1" stroke="#000" stroke-width="2.6" fill="none" stroke-dasharray="10 6"/>
<path d="M1477 0V997H1995.6V0" fill="none" stroke="#000" stroke-width="2.7"/>
<path d="M1477 1.2H1995.6" fill="none" stroke="#000" stroke-width="2.4"/>
<path d="M1477 938.7h17.6M1477 880.1h8.6M1477 821.5h17.6M1477 762.9h8.6M1477 704.3h17.6M1477 645.7h8.6M1477 587.1h17.6M1477 528.5h8.6M1477 469.9h17.6M1477 411.3h8.6M1477 352.7h17.6M1477 294.1h8.6M1477 235.5h17.6M1477 176.9h8.6M1477 118.3h17.6M1477 59.7h8.6M1477 1.1h17.6M1535.1 997v-17M1592.65 997v-8M1650.2 997v-17M1707.75 997v-8M1765.3 997v-17M1822.85 997v-8M1880.4 997v-17M1937.95 997v-8" stroke="#000" stroke-width="2.5" fill="none"/>
<text x="1535.6" y="1029.7" font-size="26" text-anchor="middle">1.474</text>
<text x="1650.7" y="1029.7" font-size="26" text-anchor="middle">1.475</text>
<text x="1765.8" y="1029.7" font-size="26" text-anchor="middle">1.476</text>
<text x="1880.9" y="1029.7" font-size="26" text-anchor="middle">1.477</text>
<text x="1996" y="1029.7" font-size="26" text-anchor="middle">1.478</text>
<text x="1736" y="1075.2" font-size="33.8" text-anchor="middle">Energy (eV)</text>
<text transform="translate(1450.9 494.8) rotate(-90)" font-size="34.5" text-anchor="middle">Intensity (arb. units)</text>
<text x="1424" y="60" font-size="36" font-weight="bold">d</text>
<text x="1504" y="59" font-size="33" class="se"><tspan font-weight="bold">B</tspan> // <tspan font-style="italic">a</tspan> axis</text>
<text x="1674.5" y="36.7" font-size="34">X-</text>
<text x="1739.5" y="65.5" font-size="34">X+</text>
<text x="1988.8" y="980.8" font-size="33.5" text-anchor="end">0 T</text>
<text x="1988.8" y="924.4" font-size="33.5" text-anchor="end">2 T</text>
<text x="1988.8" y="863.8" font-size="33.5" text-anchor="end">4 T</text>
<text x="1988.8" y="804.6" font-size="33.5" text-anchor="end">6 T</text>
<text x="1988.8" y="744.7" font-size="33.5" text-anchor="end">8 T</text>
<text x="1988.8" y="687.5" font-size="33.5" text-anchor="end">10 T</text>
<text x="1988.8" y="627.3" font-size="33.5" text-anchor="end">12 T</text>
<text x="1988.8" y="570.2" font-size="33.5" text-anchor="end">13 T</text>
<text x="1988.8" y="512.8" font-size="33.5" text-anchor="end">14 T</text>
<text x="1988.8" y="453.7" font-size="33.5" text-anchor="end">16 T</text>
<text x="1988.8" y="395.5" font-size="33.5" text-anchor="end">20 T</text>
<text x="1988.8" y="337" font-size="33.5" text-anchor="end">24 T</text>
<text x="1988.8" y="278" font-size="33.5" text-anchor="end">28 T</text>
<text x="1988.8" y="218.8" font-size="33.5" text-anchor="end">31 T</text></g>
<g id="pe"><line x1="375.4" y1="1409.6" x2="989.8" y2="1409.6" stroke="#000" stroke-width="2.2" stroke-dasharray="9.5 5.5"/>
<use href="#bR" x="410.31" y="1358.33"/>
<use href="#bR" x="419.1" y="1362.67"/>
<use href="#bR" x="436.68" y="1359.2"/>
<use href="#bR" x="454.26" y="1357.03"/>
<use href="#bR" x="471.84" y="1355.72"/>
<use href="#bR" x="489.42" y="1356.16"/>
<use href="#bR" x="507" y="1341.83"/>
<use href="#bR" x="524.58" y="1337.06"/>
<use href="#bR" x="542.16" y="1332.28"/>
<use href="#bR" x="559.74" y="1311.88"/>
<use href="#bR" x="568.53" y="1293.64"/>
<use href="#bR" x="577.32" y="1225.05"/>
<use href="#bR" x="586.11" y="1208.98"/>
<use href="#bR" x="594.9" y="1227.65"/>
<use href="#bR" x="612.48" y="1264.55"/>
<use href="#bR" x="630.06" y="1303.63"/>
<use href="#bR" x="647.64" y="1336.19"/>
<use href="#bR" x="665.22" y="1377.86"/>
<use href="#bR" x="682.8" y="1409.56"/>
<use href="#bR" x="700.38" y="1449.5"/>
<use href="#bR" x="717.96" y="1487.7"/>
<use href="#bR" x="735.54" y="1527.21"/>
<use href="#bR" x="753.12" y="1565.41"/>
<use href="#bR" x="770.7" y="1601.88"/>
<use href="#bR" x="779.49" y="1617.51"/>
<use href="#bR" x="788.28" y="1595.8"/>
<use href="#bR" x="797.07" y="1482.06"/>
<use href="#bR" x="805.86" y="1468.6"/>
<use href="#bR" x="823.44" y="1451.67"/>
<use href="#bR" x="841.02" y="1448.63"/>
<use href="#bR" x="858.6" y="1442.55"/>
<use href="#bR" x="876.18" y="1444.72"/>
<use href="#bR" x="893.76" y="1444.72"/>
<use href="#bR" x="911.34" y="1445.59"/>
<use href="#bR" x="928.92" y="1446.03"/>
<use href="#bR" x="946.5" y="1449.93"/>
<use href="#bR" x="955.29" y="1455.58"/>
<use href="#bB" x="410.31" y="1456.01"/>
<use href="#bB" x="419.1" y="1453.41"/>
<use href="#bB" x="436.68" y="1452.97"/>
<use href="#bB" x="454.26" y="1447.76"/>
<use href="#bB" x="471.84" y="1447.33"/>
<use href="#bB" x="489.42" y="1447.33"/>
<use href="#bB" x="507" y="1450.8"/>
<use href="#bB" x="524.58" y="1452.54"/>
<use href="#bB" x="542.16" y="1456.01"/>
<use href="#bB" x="559.74" y="1469.03"/>
<use href="#bB" x="568.53" y="1487.7"/>
<use href="#bB" x="577.32" y="1595.37"/>
<use href="#bB" x="586.11" y="1618.81"/>
<use href="#bB" x="594.9" y="1603.62"/>
<use href="#bB" x="612.48" y="1564.55"/>
<use href="#bB" x="630.06" y="1528.51"/>
<use href="#bB" x="647.64" y="1491.61"/>
<use href="#bB" x="665.22" y="1453.41"/>
<use href="#bB" x="682.8" y="1409.56"/>
<use href="#bB" x="700.38" y="1377.86"/>
<use href="#bB" x="717.96" y="1336.19"/>
<use href="#bB" x="735.54" y="1298.85"/>
<use href="#bB" x="753.12" y="1261.95"/>
<use href="#bB" x="770.7" y="1224.61"/>
<use href="#bB" x="779.49" y="1208.98"/>
<use href="#bB" x="788.28" y="1222.44"/>
<use href="#bB" x="797.07" y="1288.43"/>
<use href="#bB" x="805.86" y="1314.48"/>
<use href="#bB" x="823.44" y="1330.98"/>
<use href="#bB" x="841.02" y="1336.62"/>
<use href="#bB" x="858.6" y="1347.48"/>
<use href="#bB" x="876.18" y="1349.65"/>
<use href="#bB" x="893.76" y="1351.82"/>
<use href="#bB" x="911.34" y="1356.16"/>
<use href="#bB" x="928.92" y="1356.16"/>
<use href="#bB" x="946.5" y="1356.59"/>
<use href="#bB" x="955.29" y="1364.84"/>
<use href="#bR" x="447.1" y="1182.1"/><use href="#bB" x="447.1" y="1223.7"/>
<text x="494.3" y="1192.5" font-size="33">X-</text>
<text x="494.3" y="1233.7" font-size="33">X+</text>
<rect x="375.4" y="1141.7" width="614.4" height="518.8" fill="none" stroke="#000" stroke-width="2.6"/>
<path d="M375.4 1188.85h8M375.4 1236h16.5M375.4 1283.15h8M375.4 1330.3h16.5M375.4 1377.45h8M375.4 1424.6h16.5M375.4 1471.75h8M375.4 1518.9h16.5M375.4 1566.05h8M375.4 1613.2h16.5M989.8 1645.1h-8M989.8 1598h-16.5M989.8 1550.9h-8M989.8 1503.8h-16.5M989.8 1456.7h-8M989.8 1409.6h-16.5M989.8 1362.5h-8M989.8 1315.4h-16.5M989.8 1268.3h-8M989.8 1221.2h-16.5M989.8 1174.1h-8M419.1 1660.5v-17M463.05 1660.5v-8M507 1660.5v-17M550.95 1660.5v-8M594.9 1660.5v-17M638.85 1660.5v-8M682.8 1660.5v-17M726.75 1660.5v-8M770.7 1660.5v-17M814.65 1660.5v-8M858.6 1660.5v-17M902.55 1660.5v-8M946.5 1660.5v-17" stroke="#000" stroke-width="2.5" fill="none"/>
<text x="362.8" y="1149.2" font-size="26" text-anchor="end">1.4770</text>
<text x="362.8" y="1243.5" font-size="26" text-anchor="end">1.4765</text>
<text x="362.8" y="1337.8" font-size="26" text-anchor="end">1.4760</text>
<text x="362.8" y="1432.1" font-size="26" text-anchor="end">1.4755</text>
<text x="362.8" y="1526.4" font-size="26" text-anchor="end">1.4750</text>
<text x="362.8" y="1620.7" font-size="26" text-anchor="end">1.4745</text>
<text x="1002.3" y="1605.5" font-size="26">-1.0</text>
<text x="1002.3" y="1511.3" font-size="26">-0.5</text>
<text x="1002.3" y="1417.1" font-size="26">0.0</text>
<text x="1002.3" y="1322.9" font-size="26">0.5</text>
<text x="1002.3" y="1228.7" font-size="26">1.0</text>
<text x="418.8" y="1691.8" font-size="26" text-anchor="middle">-30</text>
<text x="506.7" y="1691.8" font-size="26" text-anchor="middle">-20</text>
<text x="594.6" y="1691.8" font-size="26" text-anchor="middle">-10</text>
<text x="682.8" y="1691.8" font-size="26" text-anchor="middle">0</text>
<text x="770.7" y="1691.8" font-size="26" text-anchor="middle">10</text>
<text x="858.6" y="1691.8" font-size="26" text-anchor="middle">20</text>
<text x="946.5" y="1691.8" font-size="26" text-anchor="middle">30</text>
<text x="681.5" y="1743.9" font-size="33.8" text-anchor="middle">Magnetic field (T)</text>
<text transform="translate(272 1401) rotate(-90)" font-size="33.8" text-anchor="middle">Peak position (eV)</text>
<text transform="translate(1057 1401) rotate(90)" font-size="33.8" text-anchor="middle">Energy shift (meV)</text>
<text x="249" y="1194.7" font-size="36" font-weight="bold">e</text></g>
<g id="pf"><path d="M1283.09 1531.65V1575.72M1274.59 1531.65h17M1274.59 1575.72h17M1291.82 1494.43V1538.49M1283.32 1494.43h17M1283.32 1538.49h17M1309.3 1525.19V1566.98M1300.8 1525.19h17M1300.8 1566.98h17M1326.77 1514.94V1553.68M1318.27 1514.94h17M1318.27 1553.68h17M1344.25 1549.13V1581.42M1335.75 1549.13h17M1335.75 1581.42h17M1361.72 1518.36V1559.76M1353.22 1518.36h17M1353.22 1559.76h17M1379.19 1399.84V1453.78M1370.69 1399.84h17M1370.69 1453.78h17M1396.67 1321.97V1368.69M1388.17 1321.97h17M1388.17 1368.69h17M1414.14 1217.12V1267.64M1405.64 1217.12h17M1405.64 1267.64h17M1431.99 1208.01V1271.06M1423.49 1208.01h17M1423.49 1271.06h17M1440.73 1302.21V1353.49M1432.23 1302.21h17M1432.23 1353.49h17M1449.47 1386.92V1427.19M1440.97 1386.92h17M1440.97 1427.19h17M1458.21 1547.99V1589.77M1449.71 1547.99h17M1449.71 1589.77h17M1466.94 1565.84V1601.55M1458.44 1565.84h17M1458.44 1601.55h17M1484.42 1494.43V1536.21M1475.92 1494.43h17M1475.92 1536.21h17M1501.89 1552.17V1587.87M1493.39 1552.17h17M1493.39 1587.87h17M1519.36 1575.72V1612.18M1510.86 1575.72h17M1510.86 1612.18h17M1536.84 1506.96V1563.94M1528.34 1506.96h17M1528.34 1563.94h17M1554.31 1540.77V1579.9M1545.81 1540.77h17M1545.81 1579.9h17M1571.79 1498.98V1559M1563.29 1498.98h17M1563.29 1559h17M1589.26 1583.31V1619.4M1580.76 1583.31h17M1580.76 1619.4h17M1606.73 1509.62V1550.27M1598.23 1509.62h17M1598.23 1550.27h17M1624.21 1546.09V1586.35M1615.71 1546.09h17M1615.71 1586.35h17M1641.68 1523.3V1571.16M1633.18 1523.3h17M1633.18 1571.16h17M1650.8 1550.65V1589.39M1642.3 1550.65h17M1642.3 1589.39h17M1659.53 1457.96V1492.91M1651.03 1457.96h17M1651.03 1492.91h17M1668.27 1304.49V1348.56M1659.77 1304.49h17M1659.77 1348.56h17M1677.01 1244.47V1303.73M1668.51 1244.47h17M1668.51 1303.73h17M1694.48 1357.67V1406.3M1685.98 1357.67h17M1685.98 1406.3h17M1711.96 1324.25V1371.35M1703.46 1324.25h17M1703.46 1371.35h17M1729.43 1437.83V1477.33M1720.93 1437.83h17M1720.93 1477.33h17M1746.9 1539.63V1582.17M1738.4 1539.63h17M1738.4 1582.17h17M1764.38 1528.61V1570.78M1755.88 1528.61h17M1755.88 1570.78h17M1781.85 1458.72V1509.24M1773.35 1458.72h17M1773.35 1509.24h17M1799.33 1461.38V1512.66M1790.83 1461.38h17M1790.83 1512.66h17M1816.8 1494.43V1541.91M1808.3 1494.43h17M1808.3 1541.91h17M1825.54 1519.12V1566.22M1817.04 1519.12h17M1817.04 1566.22h17" stroke="#ff0000" stroke-width="2.1" fill="none"/>
<use href="#bF" x="1283.09" y="1553.3"/>
<use href="#bF" x="1291.82" y="1516.46"/>
<use href="#bF" x="1309.3" y="1545.71"/>
<use href="#bF" x="1326.77" y="1533.55"/>
<use href="#bF" x="1344.25" y="1565.08"/>
<use href="#bF" x="1361.72" y="1538.87"/>
<use href="#bF" x="1379.19" y="1426.05"/>
<use href="#bF" x="1396.67" y="1345.52"/>
<use href="#bF" x="1414.14" y="1242.19"/>
<use href="#bF" x="1431.99" y="1239.91"/>
<use href="#bF" x="1440.73" y="1327.66"/>
<use href="#bF" x="1449.47" y="1406.68"/>
<use href="#bF" x="1458.21" y="1568.88"/>
<use href="#bF" x="1466.94" y="1583.31"/>
<use href="#bF" x="1484.42" y="1514.94"/>
<use href="#bF" x="1501.89" y="1570.4"/>
<use href="#bF" x="1519.36" y="1593.95"/>
<use href="#bF" x="1536.84" y="1535.07"/>
<use href="#bF" x="1554.31" y="1560.52"/>
<use href="#bF" x="1571.79" y="1528.99"/>
<use href="#bF" x="1589.26" y="1601.17"/>
<use href="#bF" x="1606.73" y="1529.75"/>
<use href="#bF" x="1624.21" y="1565.84"/>
<use href="#bF" x="1641.68" y="1547.61"/>
<use href="#bF" x="1650.8" y="1570.4"/>
<use href="#bF" x="1659.53" y="1475.05"/>
<use href="#bF" x="1668.27" y="1326.52"/>
<use href="#bF" x="1677.01" y="1274.1"/>
<use href="#bF" x="1694.48" y="1381.98"/>
<use href="#bF" x="1711.96" y="1347.42"/>
<use href="#bF" x="1729.43" y="1457.58"/>
<use href="#bF" x="1746.9" y="1560.9"/>
<use href="#bF" x="1764.38" y="1549.51"/>
<use href="#bF" x="1781.85" y="1483.79"/>
<use href="#bF" x="1799.33" y="1486.83"/>
<use href="#bF" x="1816.8" y="1518.36"/>
<use href="#bF" x="1825.54" y="1542.29"/>
<rect x="1248.2" y="1141" width="613.2" height="518.2" fill="none" stroke="#000" stroke-width="2.6"/>
<path d="M1248.2 1180.87h8M1248.2 1220.74h16.5M1248.2 1260.61h8M1248.2 1300.48h16.5M1248.2 1340.35h8M1248.2 1380.22h16.5M1248.2 1420.09h8M1248.2 1459.96h16.5M1248.2 1499.83h8M1248.2 1539.7h16.5M1248.2 1579.57h8M1248.2 1619.44h16.5M1292.2 1659.2v-17M1335.95 1659.2v-8M1379.7 1659.2v-17M1423.45 1659.2v-8M1467.2 1659.2v-17M1510.95 1659.2v-8M1554.7 1659.2v-17M1598.45 1659.2v-8M1642.2 1659.2v-17M1685.95 1659.2v-8M1729.7 1659.2v-17M1773.45 1659.2v-8M1817.2 1659.2v-17" stroke="#000" stroke-width="2.5" fill="none"/>
<text x="1234.8" y="1147.9" font-size="26" text-anchor="end">0.75</text>
<text x="1234.8" y="1227.7" font-size="26" text-anchor="end">0.70</text>
<text x="1234.8" y="1307.5" font-size="26" text-anchor="end">0.65</text>
<text x="1234.8" y="1387.3" font-size="26" text-anchor="end">0.60</text>
<text x="1234.8" y="1467.1" font-size="26" text-anchor="end">0.55</text>
<text x="1234.8" y="1546.9" font-size="26" text-anchor="end">0.50</text>
<text x="1234.8" y="1626.7" font-size="26" text-anchor="end">0.45</text>
<text x="1291.9" y="1692" font-size="26" text-anchor="middle">-30</text>
<text x="1379.4" y="1692" font-size="26" text-anchor="middle">-20</text>
<text x="1466.9" y="1692" font-size="26" text-anchor="middle">-10</text>
<text x="1554.7" y="1692" font-size="26" text-anchor="middle">0</text>
<text x="1642.2" y="1692" font-size="26" text-anchor="middle">10</text>
<text x="1729.7" y="1692" font-size="26" text-anchor="middle">20</text>
<text x="1817.2" y="1692" font-size="26" text-anchor="middle">30</text>
<text x="1554.5" y="1739.8" font-size="33.8" text-anchor="middle">Magnetic field (T)</text>
<text transform="translate(1171 1375) rotate(-90)" font-size="33.8" text-anchor="middle">FWHM (meV)</text>
<text x="1150.5" y="1195.5" font-size="36" font-weight="bold">f</text></g>
</svg>
</body></html>
